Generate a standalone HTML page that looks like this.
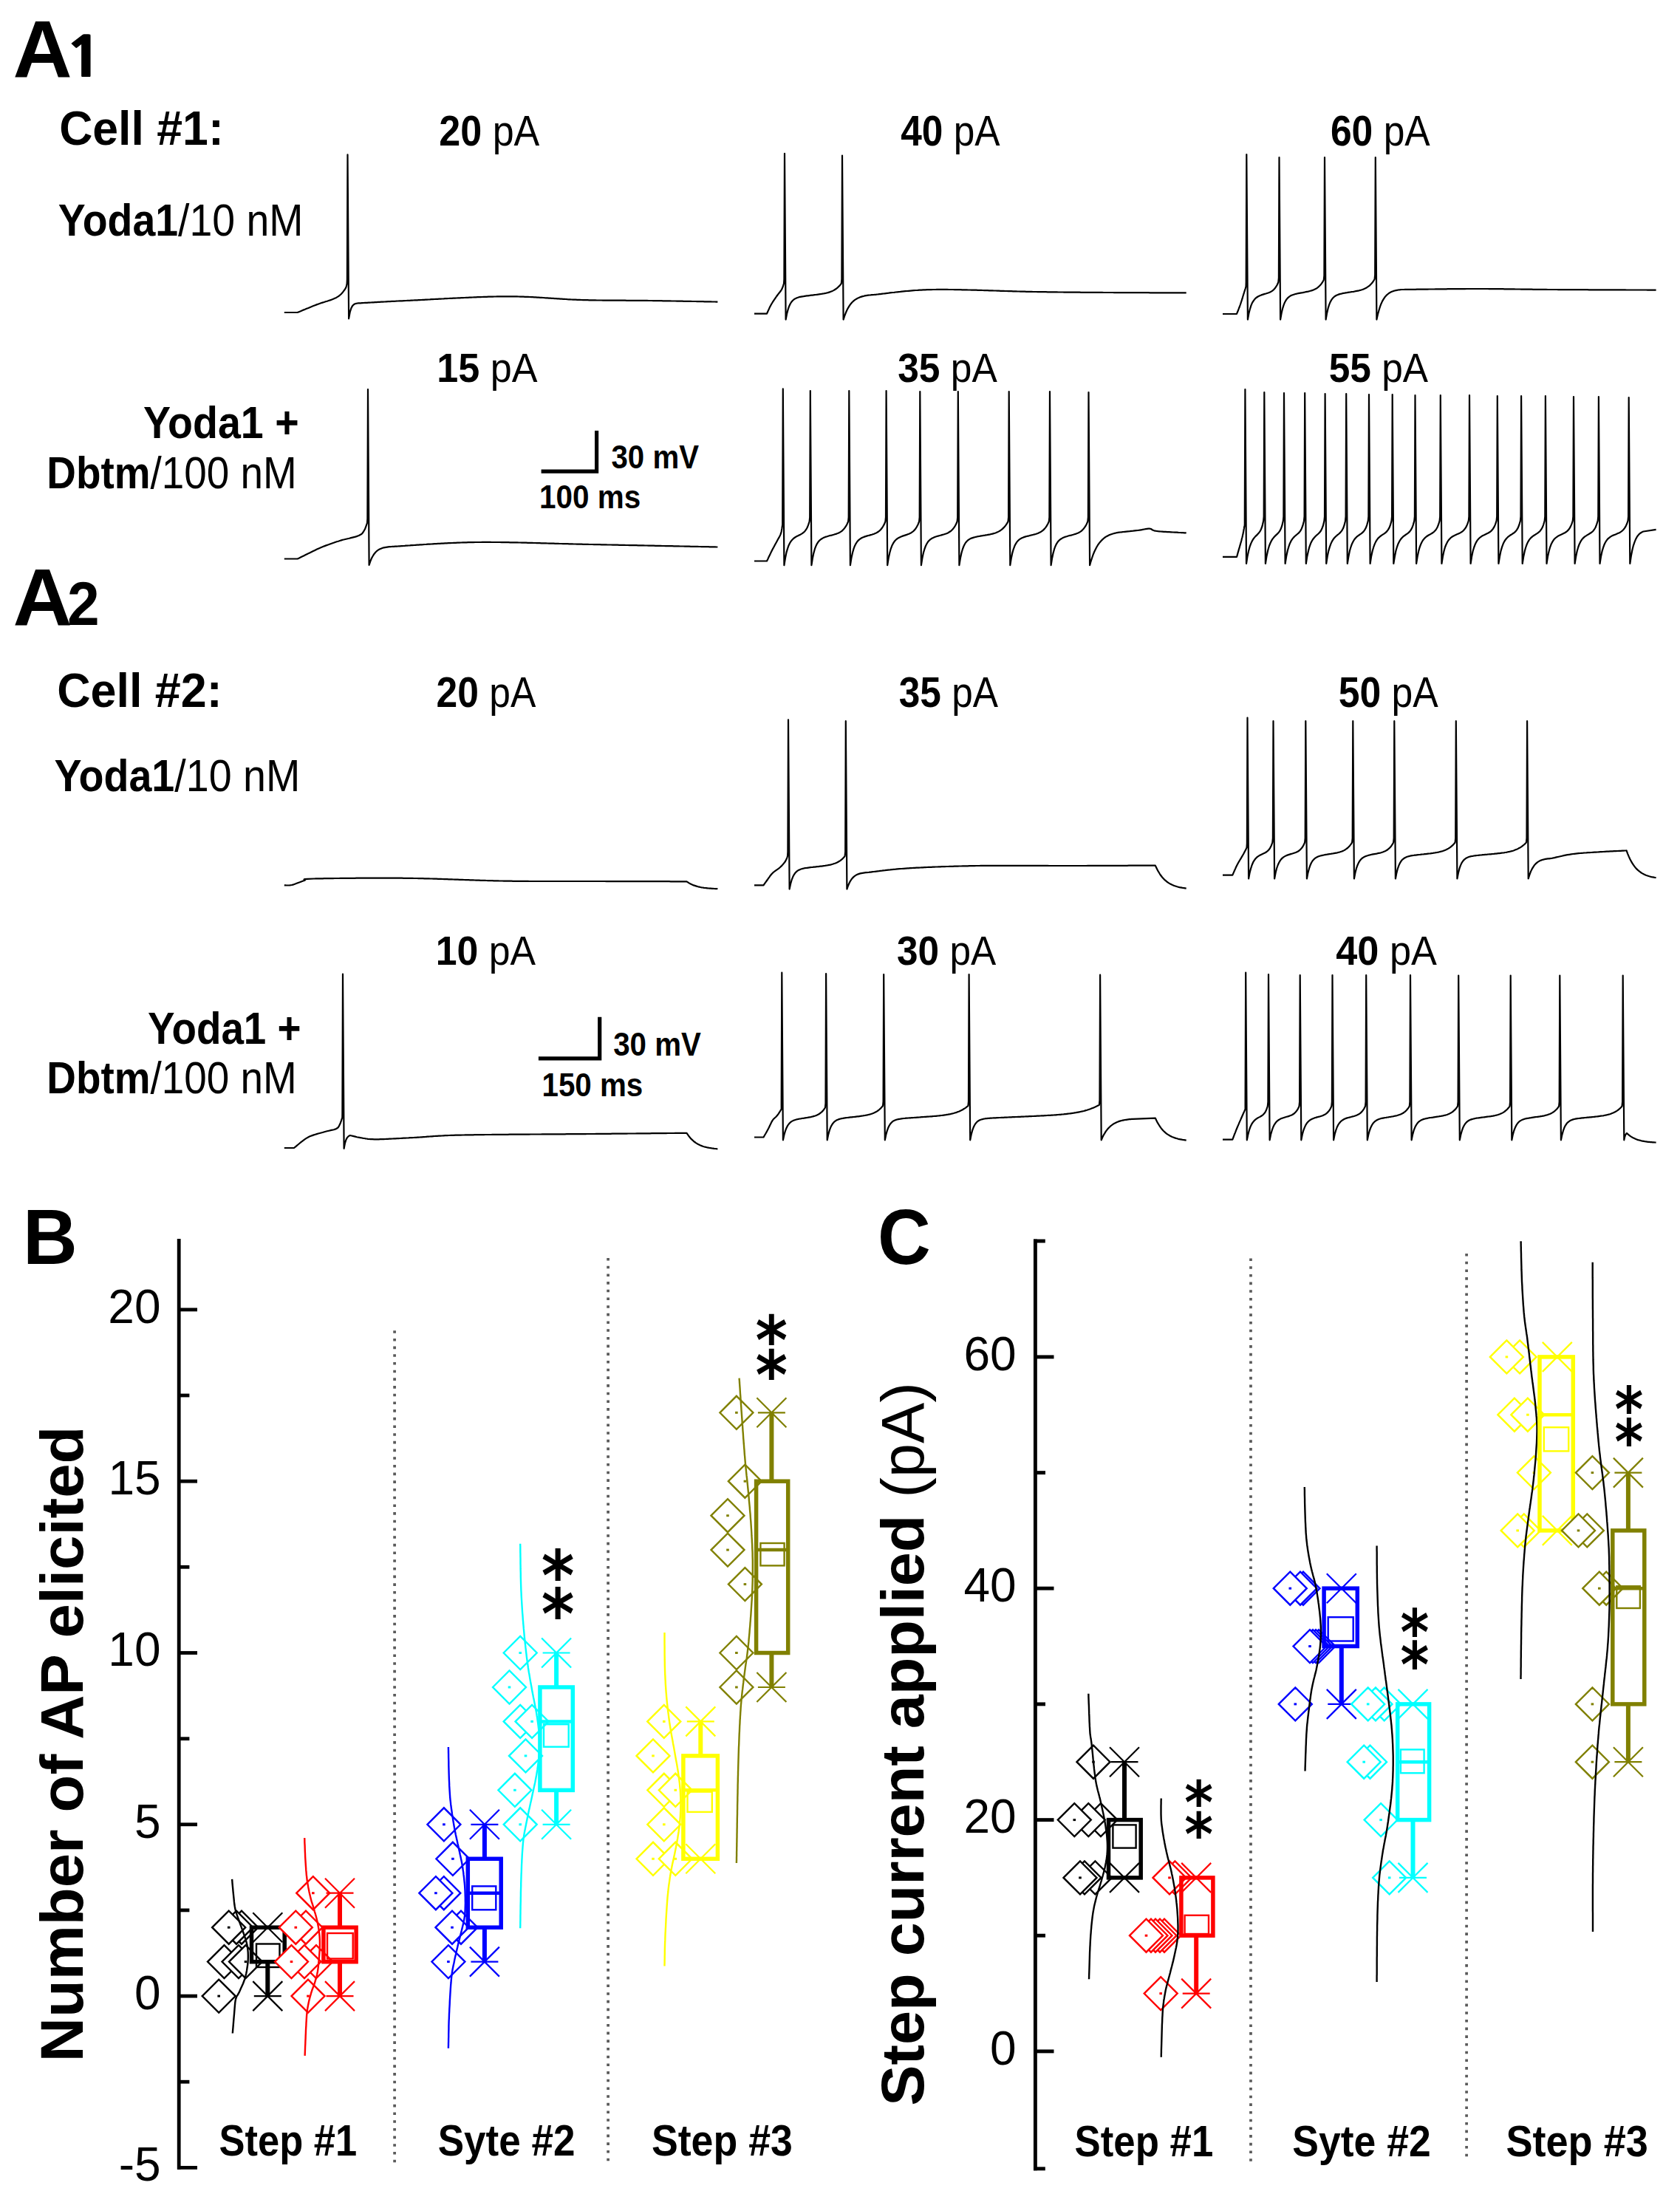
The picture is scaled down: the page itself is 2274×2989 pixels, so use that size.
<!DOCTYPE html>
<html><head><meta charset="utf-8"><title>Figure</title>
<style>html,body{margin:0;padding:0;background:#fff;width:2274px;height:2989px;overflow:hidden;}svg{display:block;}text{font-family:'Liberation Sans', Arial, sans-serif;}</style>
</head><body>
<svg width="2274" height="2989" viewBox="0 0 2274 2989">
<rect width="2274" height="2989" fill="#fff"/>
<text x="17.44" y="104.20" font-size="109.00" textLength="80.09" lengthAdjust="spacingAndGlyphs" fill="#000"><tspan font-weight="bold">A</tspan></text>
<text transform="translate(87.1 104.2) scale(1.23 1)" x="0" y="0" font-size="73.7" style="font-family:NanumGothic,'Liberation Sans',sans-serif;font-weight:800" fill="#000">1</text>
<text x="17.44" y="845.70" font-size="109.00" textLength="80.09" lengthAdjust="spacingAndGlyphs" fill="#000"><tspan font-weight="bold">A</tspan></text>
<text x="91.03" y="845.70" font-size="83.00" textLength="43.61" lengthAdjust="spacingAndGlyphs" fill="#000"><tspan font-weight="bold">2</tspan></text>
<text x="80.13" y="196.40" font-size="64.40" textLength="222.59" lengthAdjust="spacingAndGlyphs" fill="#000"><tspan font-weight="bold">Cell #1:</tspan></text>
<text x="77.22" y="957.40" font-size="64.40" textLength="223.42" lengthAdjust="spacingAndGlyphs" fill="#000"><tspan font-weight="bold">Cell #2:</tspan></text>
<text x="78.86" y="319.00" font-size="61.30" textLength="331.63" lengthAdjust="spacingAndGlyphs" fill="#000"><tspan font-weight="bold">Yoda1</tspan><tspan font-weight="normal">/10 nM</tspan></text>
<text x="73.46" y="1071.00" font-size="61.30" textLength="332.85" lengthAdjust="spacingAndGlyphs" fill="#000"><tspan font-weight="bold">Yoda1</tspan><tspan font-weight="normal">/10 nM</tspan></text>
<text x="194.07" y="592.90" font-size="60.60" textLength="210.54" lengthAdjust="spacingAndGlyphs" fill="#000"><tspan font-weight="bold">Yoda1 +</tspan></text>
<text x="63.33" y="660.70" font-size="60.60" textLength="338.47" lengthAdjust="spacingAndGlyphs" fill="#000"><tspan font-weight="bold">Dbtm</tspan><tspan font-weight="normal">/100 nM</tspan></text>
<text x="199.98" y="1413.10" font-size="60.60" textLength="207.60" lengthAdjust="spacingAndGlyphs" fill="#000"><tspan font-weight="bold">Yoda1 +</tspan></text>
<text x="63.33" y="1480.00" font-size="60.60" textLength="338.47" lengthAdjust="spacingAndGlyphs" fill="#000"><tspan font-weight="bold">Dbtm</tspan><tspan font-weight="normal">/100 nM</tspan></text>
<text x="594.19" y="196.50" font-size="57.00" textLength="136.21" lengthAdjust="spacingAndGlyphs" fill="#000"><tspan font-weight="bold">20</tspan><tspan font-weight="normal"> pA</tspan></text>
<text x="1219.22" y="196.50" font-size="57.00" textLength="134.38" lengthAdjust="spacingAndGlyphs" fill="#000"><tspan font-weight="bold">40</tspan><tspan font-weight="normal"> pA</tspan></text>
<text x="1800.91" y="196.50" font-size="57.00" textLength="134.89" lengthAdjust="spacingAndGlyphs" fill="#000"><tspan font-weight="bold">60</tspan><tspan font-weight="normal"> pA</tspan></text>
<text x="591.22" y="517.00" font-size="55.40" textLength="136.29" lengthAdjust="spacingAndGlyphs" fill="#000"><tspan font-weight="bold">15</tspan><tspan font-weight="normal"> pA</tspan></text>
<text x="1215.22" y="517.00" font-size="55.40" textLength="134.58" lengthAdjust="spacingAndGlyphs" fill="#000"><tspan font-weight="bold">35</tspan><tspan font-weight="normal"> pA</tspan></text>
<text x="1798.72" y="517.00" font-size="55.40" textLength="134.28" lengthAdjust="spacingAndGlyphs" fill="#000"><tspan font-weight="bold">55</tspan><tspan font-weight="normal"> pA</tspan></text>
<text x="590.61" y="957.00" font-size="56.70" textLength="134.89" lengthAdjust="spacingAndGlyphs" fill="#000"><tspan font-weight="bold">20</tspan><tspan font-weight="normal"> pA</tspan></text>
<text x="1216.72" y="957.00" font-size="56.70" textLength="134.28" lengthAdjust="spacingAndGlyphs" fill="#000"><tspan font-weight="bold">35</tspan><tspan font-weight="normal"> pA</tspan></text>
<text x="1811.71" y="957.00" font-size="56.70" textLength="135.09" lengthAdjust="spacingAndGlyphs" fill="#000"><tspan font-weight="bold">50</tspan><tspan font-weight="normal"> pA</tspan></text>
<text x="589.74" y="1305.70" font-size="56.30" textLength="135.36" lengthAdjust="spacingAndGlyphs" fill="#000"><tspan font-weight="bold">10</tspan><tspan font-weight="normal"> pA</tspan></text>
<text x="1214.02" y="1305.70" font-size="56.30" textLength="134.28" lengthAdjust="spacingAndGlyphs" fill="#000"><tspan font-weight="bold">30</tspan><tspan font-weight="normal"> pA</tspan></text>
<text x="1808.21" y="1305.70" font-size="56.30" textLength="136.69" lengthAdjust="spacingAndGlyphs" fill="#000"><tspan font-weight="bold">40</tspan><tspan font-weight="normal"> pA</tspan></text>
<path d="M732.6 638.1H807.6V583.1" fill="none" stroke="#000" stroke-width="5.2"/>
<text x="827.48" y="634.30" font-size="44.20" textLength="118.50" lengthAdjust="spacingAndGlyphs" fill="#000"><tspan font-weight="bold">30 mV</tspan></text>
<text x="730.05" y="688.30" font-size="44.80" textLength="137.31" lengthAdjust="spacingAndGlyphs" fill="#000"><tspan font-weight="bold">100 ms</tspan></text>
<path d="M728.9 1432.9H811.7V1376.7" fill="none" stroke="#000" stroke-width="5.2"/>
<text x="830.18" y="1429.00" font-size="44.20" textLength="118.70" lengthAdjust="spacingAndGlyphs" fill="#000"><tspan font-weight="bold">30 mV</tspan></text>
<text x="733.46" y="1483.60" font-size="44.20" textLength="136.79" lengthAdjust="spacingAndGlyphs" fill="#000"><tspan font-weight="bold">150 ms</tspan></text>
<path d="M384.8 423.0 L402.7 423.0 L403.8 422.5 L405.3 421.9 L406.9 421.3 L408.7 420.5 L410.7 419.6 L412.9 418.8 L415.1 417.8 L417.4 416.9 L419.7 415.9 L422.0 415.0 L424.3 414.1 L426.5 413.2 L428.6 412.4 L430.5 411.7 L432.5 411.0 L434.5 410.3 L436.6 409.6 L438.7 409.0 L440.7 408.3 L442.8 407.7 L444.8 407.0 L446.8 406.4 L448.7 405.7 L450.5 405.0 L452.2 404.3 L453.8 403.6 L455.2 402.9 L457.7 401.4 L459.8 399.8 L461.6 398.2 L463.2 396.5 L464.5 394.9 L465.6 393.4 L466.7 392.0 L468.1 389.6 L468.9 387.3 L469.3 385.4 L469.6 384.0 L469.9 378.0 L470.5 209.3 L472.1 431.4 L473.8 422.1 L475.5 416.9 L477.2 413.9 L478.9 412.3 L480.6 411.3 L482.3 410.8 L484.0 410.5 L485.0 410.4 L486.1 410.4 L487.3 410.3 L488.5 410.3 L489.7 410.2 L491.1 410.1 L492.4 410.0 L493.9 409.9 L495.4 409.9 L497.0 409.8 L498.6 409.7 L500.3 409.6 L502.0 409.5 L503.8 409.4 L505.7 409.3 L507.6 409.2 L509.6 409.1 L511.7 408.9 L513.8 408.8 L516.0 408.7 L518.2 408.6 L520.5 408.5 L522.9 408.3 L525.3 408.2 L527.8 408.1 L530.4 407.9 L533.0 407.8 L535.6 407.7 L538.4 407.5 L541.2 407.4 L544.1 407.3 L547.0 407.1 L550.0 407.0 L551.5 406.9 L553.1 406.9 L554.6 406.8 L556.3 406.7 L557.9 406.6 L559.6 406.5 L561.3 406.4 L563.0 406.4 L564.8 406.3 L566.6 406.2 L568.4 406.1 L570.3 406.0 L572.2 405.9 L574.1 405.8 L576.0 405.7 L578.0 405.6 L579.9 405.5 L581.9 405.4 L583.9 405.2 L586.0 405.1 L588.0 405.0 L590.1 404.9 L592.2 404.8 L594.3 404.7 L596.4 404.6 L598.5 404.5 L600.6 404.4 L602.8 404.2 L604.9 404.1 L607.1 404.0 L609.2 403.9 L611.4 403.8 L613.6 403.7 L615.8 403.6 L618.0 403.5 L620.2 403.4 L622.4 403.3 L624.5 403.2 L626.7 403.1 L628.9 403.0 L631.1 402.9 L633.3 402.8 L635.5 402.7 L637.7 402.6 L639.8 402.5 L642.0 402.4 L644.2 402.3 L646.3 402.2 L648.4 402.1 L650.6 402.1 L652.7 402.0 L654.8 401.9 L656.9 401.8 L658.9 401.8 L661.0 401.7 L663.0 401.7 L665.0 401.6 L667.0 401.6 L669.0 401.5 L671.0 401.5 L672.9 401.4 L674.8 401.4 L676.7 401.4 L678.6 401.3 L680.4 401.3 L682.2 401.3 L684.0 401.3 L686.3 401.3 L688.6 401.3 L690.9 401.3 L693.1 401.3 L695.4 401.4 L697.6 401.4 L699.8 401.4 L702.0 401.5 L704.2 401.6 L706.3 401.6 L708.5 401.7 L710.6 401.8 L712.7 401.9 L714.8 401.9 L716.9 402.0 L718.9 402.1 L721.0 402.2 L723.0 402.3 L725.1 402.4 L727.1 402.6 L729.1 402.7 L731.1 402.8 L733.1 402.9 L735.1 403.0 L737.1 403.2 L739.0 403.3 L741.0 403.4 L743.0 403.6 L744.9 403.7 L746.8 403.8 L748.8 403.9 L750.7 404.1 L752.6 404.2 L754.6 404.3 L756.5 404.4 L758.4 404.6 L760.3 404.7 L762.2 404.8 L764.1 404.9 L766.0 405.0 L767.9 405.2 L769.8 405.3 L771.7 405.4 L773.6 405.5 L775.5 405.6 L777.4 405.6 L779.3 405.7 L781.3 405.8 L783.2 405.9 L785.1 405.9 L787.0 406.0 L789.1 406.1 L791.2 406.1 L793.4 406.2 L795.5 406.2 L797.5 406.3 L799.6 406.3 L801.7 406.3 L803.8 406.4 L805.9 406.4 L807.9 406.5 L810.0 406.5 L812.0 406.5 L814.1 406.5 L816.1 406.6 L818.1 406.6 L820.2 406.6 L822.2 406.6 L824.2 406.6 L826.2 406.6 L828.2 406.7 L830.2 406.7 L832.2 406.7 L834.2 406.7 L836.2 406.7 L838.2 406.7 L840.2 406.7 L842.2 406.7 L844.2 406.7 L846.2 406.7 L848.2 406.8 L850.2 406.8 L852.1 406.8 L854.1 406.8 L856.1 406.8 L858.1 406.8 L860.1 406.8 L862.1 406.8 L864.0 406.8 L866.0 406.9 L868.0 406.9 L870.0 406.9 L872.0 406.9 L874.0 406.9 L876.0 406.9 L878.0 407.0 L880.0 407.0 L882.1 407.0 L884.2 407.1 L886.3 407.1 L888.5 407.1 L890.7 407.2 L893.0 407.2 L895.2 407.2 L897.5 407.3 L899.8 407.3 L902.2 407.3 L904.5 407.4 L906.9 407.4 L909.2 407.5 L911.6 407.5 L914.0 407.5 L916.3 407.6 L918.7 407.6 L921.1 407.7 L923.4 407.7 L925.7 407.8 L928.1 407.8 L930.4 407.8 L932.6 407.9 L934.9 407.9 L937.1 408.0 L939.3 408.0 L941.5 408.0 L943.6 408.1 L945.7 408.1 L947.8 408.2 L949.8 408.2 L951.7 408.2 L953.6 408.3 L955.5 408.3 L957.3 408.3 L959.0 408.4 L960.7 408.4 L962.3 408.4 L963.8 408.5 L965.3 408.5 L966.7 408.5 L968.0 408.5 L969.2 408.6 L970.3 408.6 L971.4 408.6" fill="none" stroke="#000" stroke-width="2.2" stroke-linejoin="round"/>
<path d="M1021.0 424.6 L1038.0 424.6 L1038.6 423.2 L1039.5 421.3 L1040.5 419.1 L1041.6 416.6 L1042.8 414.2 L1044.0 412.0 L1045.1 410.2 L1046.2 408.4 L1047.4 406.6 L1048.6 404.8 L1049.8 403.1 L1050.9 401.5 L1052.0 400.0 L1053.4 398.1 L1054.7 396.5 L1055.9 395.0 L1057.0 393.5 L1058.0 392.0 L1059.0 389.8 L1059.9 387.5 L1060.5 385.4 L1061.0 384.0 L1061.4 378.0 L1062.0 207.8 L1063.6 432.6 L1065.1 424.8 L1066.6 419.1 L1068.1 414.7 L1069.6 411.5 L1071.1 409.0 L1072.6 407.2 L1074.1 405.8 L1075.6 404.7 L1077.1 403.9 L1078.6 403.2 L1080.1 402.7 L1081.6 402.2 L1083.2 401.9 L1084.7 401.6 L1086.2 401.3 L1087.7 401.1 L1089.2 400.8 L1090.7 400.6 L1092.2 400.4 L1093.7 400.3 L1095.2 400.1 L1096.7 399.9 L1098.2 399.7 L1099.7 399.6 L1101.2 399.4 L1102.7 399.2 L1104.2 399.0 L1105.7 398.8 L1107.2 398.6 L1108.7 398.4 L1110.2 398.2 L1111.7 398.0 L1113.2 397.7 L1114.7 397.5 L1116.2 397.2 L1117.7 396.9 L1119.2 396.5 L1120.8 396.1 L1122.3 395.6 L1123.8 395.1 L1125.3 394.5 L1126.8 393.9 L1128.3 393.1 L1129.8 392.2 L1131.3 391.3 L1132.8 390.1 L1134.3 388.8 L1135.8 387.4 L1137.3 385.7 L1138.8 383.8 L1139.4 377.8 L1140.0 210.5 L1141.6 432.6 L1143.1 427.9 L1144.7 423.8 L1146.2 420.3 L1147.7 417.3 L1149.3 414.7 L1150.8 412.4 L1152.3 410.5 L1153.9 408.8 L1155.4 407.4 L1156.9 406.2 L1158.5 405.1 L1160.0 404.2 L1161.5 403.4 L1163.1 402.7 L1164.6 402.1 L1166.1 401.6 L1167.7 401.1 L1169.2 400.8 L1170.7 400.4 L1172.3 400.1 L1173.8 399.9 L1175.3 399.7 L1176.9 399.5 L1178.4 399.4 L1179.9 399.2 L1181.5 399.1 L1183.0 399.0 L1184.0 398.9 L1185.1 398.8 L1186.3 398.7 L1187.5 398.5 L1188.8 398.4 L1190.1 398.2 L1191.5 398.1 L1193.0 397.9 L1194.5 397.7 L1196.0 397.5 L1197.7 397.3 L1199.3 397.1 L1201.0 396.9 L1202.8 396.7 L1204.6 396.4 L1206.5 396.2 L1208.4 396.0 L1210.4 395.8 L1212.4 395.5 L1214.4 395.3 L1216.5 395.1 L1218.7 394.9 L1220.8 394.6 L1223.1 394.4 L1225.3 394.2 L1227.6 394.0 L1229.9 393.8 L1232.3 393.6 L1234.7 393.4 L1237.1 393.2 L1239.6 393.0 L1242.1 392.9 L1244.6 392.7 L1247.1 392.6 L1249.7 392.4 L1252.3 392.3 L1255.0 392.2 L1257.6 392.1 L1260.3 392.1 L1263.0 392.0 L1264.6 392.0 L1266.3 392.0 L1267.9 391.9 L1269.6 391.9 L1271.4 391.9 L1273.1 391.9 L1274.9 391.9 L1276.7 391.9 L1278.6 391.9 L1280.4 391.9 L1282.3 391.9 L1284.2 392.0 L1286.2 392.0 L1288.1 392.0 L1290.1 392.0 L1292.1 392.1 L1294.1 392.1 L1296.1 392.1 L1298.2 392.2 L1300.2 392.2 L1302.3 392.3 L1304.4 392.3 L1306.5 392.3 L1308.6 392.4 L1310.8 392.5 L1312.9 392.5 L1315.0 392.6 L1317.2 392.6 L1319.4 392.7 L1321.5 392.7 L1323.7 392.8 L1325.9 392.9 L1328.1 392.9 L1330.2 393.0 L1332.4 393.1 L1334.6 393.1 L1336.8 393.2 L1339.0 393.3 L1341.2 393.3 L1343.4 393.4 L1345.6 393.5 L1347.7 393.5 L1349.9 393.6 L1352.1 393.7 L1354.2 393.8 L1356.4 393.8 L1358.5 393.9 L1360.7 394.0 L1362.8 394.0 L1364.9 394.1 L1367.0 394.2 L1369.1 394.2 L1371.2 394.3 L1373.2 394.3 L1375.3 394.4 L1377.3 394.5 L1379.3 394.5 L1381.3 394.6 L1383.3 394.6 L1385.2 394.7 L1387.2 394.7 L1389.1 394.8 L1391.0 394.8 L1392.8 394.9 L1394.6 394.9 L1396.5 394.9 L1398.2 395.0 L1400.0 395.0 L1402.4 395.0 L1404.7 395.1 L1407.0 395.1 L1409.2 395.1 L1411.5 395.2 L1413.7 395.2 L1415.9 395.2 L1418.0 395.3 L1420.2 395.3 L1422.3 395.3 L1424.4 395.4 L1426.4 395.4 L1428.5 395.4 L1430.5 395.4 L1432.5 395.5 L1434.5 395.5 L1436.5 395.5 L1438.5 395.5 L1440.4 395.6 L1442.4 395.6 L1444.3 395.6 L1446.2 395.6 L1448.2 395.6 L1450.1 395.6 L1452.0 395.7 L1453.8 395.7 L1455.7 395.7 L1457.6 395.7 L1459.5 395.7 L1461.4 395.7 L1463.2 395.8 L1465.1 395.8 L1467.0 395.8 L1468.9 395.8 L1470.7 395.8 L1472.6 395.8 L1474.5 395.8 L1476.4 395.8 L1478.3 395.9 L1480.2 395.9 L1482.1 395.9 L1484.1 395.9 L1486.0 395.9 L1488.0 395.9 L1489.9 395.9 L1491.9 395.9 L1493.9 396.0 L1495.9 396.0 L1498.0 396.0 L1500.0 396.0 L1502.0 396.0 L1504.0 396.0 L1506.1 396.0 L1508.2 396.1 L1510.4 396.1 L1512.6 396.1 L1514.8 396.1 L1517.0 396.1 L1519.3 396.1 L1521.5 396.1 L1523.8 396.1 L1526.2 396.1 L1528.5 396.2 L1530.8 396.2 L1533.2 396.2 L1535.6 396.2 L1537.9 396.2 L1540.3 396.2 L1542.7 396.2 L1545.0 396.2 L1547.4 396.2 L1549.8 396.2 L1552.1 396.2 L1554.5 396.2 L1556.8 396.3 L1559.1 396.3 L1561.4 396.3 L1563.7 396.3 L1565.9 396.3 L1568.1 396.3 L1570.3 396.3 L1572.5 396.3 L1574.6 396.3 L1576.7 396.3 L1578.8 396.3 L1580.8 396.3 L1582.8 396.3 L1584.7 396.3 L1586.6 396.3 L1588.4 396.3 L1590.2 396.4 L1591.9 396.4 L1593.6 396.4 L1595.2 396.4 L1596.8 396.4 L1598.2 396.4 L1599.7 396.4 L1601.0 396.4 L1602.3 396.4 L1603.5 396.4 L1604.6 396.4 L1605.7 396.4" fill="none" stroke="#000" stroke-width="2.2" stroke-linejoin="round"/>
<path d="M1655.0 425.0 L1674.0 425.0 L1674.5 423.6 L1675.3 421.7 L1676.2 419.5 L1677.1 417.0 L1678.1 414.5 L1679.0 412.0 L1679.6 410.1 L1680.3 408.0 L1681.0 405.9 L1681.7 403.7 L1682.3 401.5 L1682.9 399.5 L1683.5 397.6 L1684.0 396.0 L1684.9 393.2 L1685.6 391.0 L1686.1 389.2 L1686.5 388.0 L1686.7 382.0 L1687.3 209.0 L1688.9 432.6 L1690.4 424.3 L1692.0 418.1 L1693.5 413.4 L1695.0 409.9 L1696.6 407.3 L1698.1 405.3 L1699.6 403.7 L1701.2 402.5 L1702.7 401.5 L1704.2 400.7 L1705.8 400.0 L1707.3 399.4 L1708.8 398.9 L1710.4 398.4 L1711.9 397.9 L1713.4 397.5 L1715.0 397.0 L1716.5 396.5 L1718.0 395.9 L1719.6 395.2 L1721.1 394.4 L1722.6 393.3 L1724.2 392.0 L1725.7 390.3 L1727.2 388.2 L1728.8 385.5 L1730.3 382.0 L1730.9 376.0 L1731.5 213.0 L1733.1 432.6 L1734.6 424.0 L1736.1 417.6 L1737.6 412.8 L1739.1 409.2 L1740.6 406.5 L1742.1 404.4 L1743.6 402.8 L1745.1 401.6 L1746.6 400.6 L1748.2 399.8 L1749.7 399.2 L1751.2 398.7 L1752.7 398.2 L1754.2 397.8 L1755.7 397.5 L1757.2 397.2 L1758.7 396.9 L1760.2 396.6 L1761.7 396.3 L1763.2 396.1 L1764.7 395.8 L1766.2 395.5 L1767.7 395.2 L1769.2 394.9 L1770.7 394.6 L1772.2 394.2 L1773.7 393.8 L1775.2 393.4 L1776.7 392.9 L1778.3 392.3 L1779.8 391.6 L1781.3 390.8 L1782.8 389.8 L1784.3 388.7 L1785.8 387.3 L1787.3 385.7 L1788.8 383.9 L1790.3 381.6 L1791.8 379.0 L1792.4 373.0 L1793.0 213.0 L1794.6 432.6 L1796.1 423.9 L1797.6 417.4 L1799.1 412.6 L1800.6 408.9 L1802.1 406.2 L1803.6 404.1 L1805.1 402.5 L1806.6 401.2 L1808.1 400.3 L1809.6 399.5 L1811.1 398.9 L1812.6 398.4 L1814.1 397.9 L1815.6 397.6 L1817.1 397.2 L1818.6 396.9 L1820.1 396.7 L1821.6 396.4 L1823.1 396.2 L1824.6 395.9 L1826.1 395.7 L1827.6 395.5 L1829.1 395.2 L1830.6 395.0 L1832.1 394.8 L1833.6 394.5 L1835.1 394.2 L1836.6 393.9 L1838.1 393.6 L1839.6 393.3 L1841.1 392.9 L1842.6 392.5 L1844.1 392.0 L1845.6 391.4 L1847.1 390.8 L1848.6 390.1 L1850.1 389.2 L1851.6 388.2 L1853.1 387.1 L1854.6 385.8 L1856.1 384.3 L1857.6 382.5 L1859.1 380.4 L1860.6 378.0 L1861.2 372.0 L1861.8 213.0 L1863.4 432.6 L1864.9 425.7 L1866.5 420.0 L1868.0 415.2 L1869.5 411.2 L1871.0 407.9 L1872.6 405.1 L1874.1 402.8 L1875.6 400.9 L1877.1 399.3 L1878.7 398.0 L1880.2 396.8 L1881.7 395.9 L1883.3 395.1 L1884.8 394.5 L1886.3 393.9 L1887.8 393.5 L1889.4 393.1 L1890.9 392.8 L1892.4 392.5 L1893.9 392.3 L1895.5 392.2 L1897.0 392.0 L1898.0 392.0 L1899.2 392.0 L1900.4 392.0 L1901.7 391.9 L1903.0 391.9 L1904.4 391.9 L1905.9 391.9 L1907.4 391.9 L1909.1 391.9 L1910.7 391.8 L1912.4 391.8 L1914.2 391.8 L1916.0 391.8 L1917.9 391.7 L1919.8 391.7 L1921.8 391.7 L1923.8 391.7 L1925.9 391.6 L1927.9 391.6 L1930.1 391.6 L1932.2 391.6 L1934.4 391.5 L1936.6 391.5 L1938.9 391.5 L1941.1 391.5 L1943.4 391.4 L1945.7 391.4 L1948.0 391.4 L1950.3 391.3 L1952.7 391.3 L1955.0 391.3 L1957.4 391.3 L1959.7 391.2 L1962.1 391.2 L1964.4 391.2 L1966.8 391.2 L1969.1 391.2 L1971.5 391.1 L1973.8 391.1 L1976.1 391.1 L1978.4 391.1 L1980.7 391.1 L1982.9 391.1 L1985.2 391.0 L1987.4 391.0 L1989.6 391.0 L1991.7 391.0 L1993.9 391.0 L1995.9 391.0 L1998.0 391.0 L2000.0 391.0 L2002.0 391.0 L2004.0 391.0 L2006.0 391.0 L2008.0 391.0 L2009.9 391.0 L2011.9 391.0 L2013.8 391.0 L2015.7 391.1 L2017.6 391.1 L2019.5 391.1 L2021.4 391.1 L2023.3 391.1 L2025.2 391.1 L2027.0 391.1 L2028.9 391.2 L2030.8 391.2 L2032.6 391.2 L2034.5 391.2 L2036.4 391.3 L2038.2 391.3 L2040.1 391.3 L2042.0 391.3 L2043.8 391.3 L2045.7 391.4 L2047.6 391.4 L2049.5 391.4 L2051.4 391.5 L2053.3 391.5 L2055.2 391.5 L2057.1 391.5 L2059.1 391.6 L2061.1 391.6 L2063.0 391.6 L2065.0 391.6 L2067.0 391.7 L2069.1 391.7 L2071.1 391.7 L2073.2 391.7 L2075.3 391.8 L2077.4 391.8 L2079.5 391.8 L2081.7 391.8 L2083.9 391.9 L2086.1 391.9 L2088.3 391.9 L2090.6 391.9 L2092.9 391.9 L2095.2 392.0 L2097.6 392.0 L2100.0 392.0 L2101.7 392.0 L2103.5 392.0 L2105.4 392.0 L2107.3 392.0 L2109.2 392.1 L2111.1 392.1 L2113.1 392.1 L2115.1 392.1 L2117.2 392.1 L2119.3 392.1 L2121.4 392.1 L2123.6 392.1 L2125.7 392.1 L2127.9 392.2 L2130.1 392.2 L2132.4 392.2 L2134.7 392.2 L2136.9 392.2 L2139.2 392.2 L2141.6 392.2 L2143.9 392.2 L2146.2 392.2 L2148.6 392.2 L2150.9 392.3 L2153.3 392.3 L2155.7 392.3 L2158.1 392.3 L2160.4 392.3 L2162.8 392.3 L2165.2 392.3 L2167.6 392.3 L2170.0 392.3 L2172.3 392.3 L2174.7 392.4 L2177.1 392.4 L2179.4 392.4 L2181.7 392.4 L2184.0 392.4 L2186.4 392.4 L2188.6 392.4 L2190.9 392.4 L2193.2 392.4 L2195.4 392.4 L2197.6 392.4 L2199.8 392.4 L2201.9 392.5 L2204.1 392.5 L2206.2 392.5 L2208.2 392.5 L2210.3 392.5 L2212.3 392.5 L2214.2 392.5 L2216.1 392.5 L2218.0 392.5 L2219.9 392.5 L2221.7 392.5 L2223.4 392.5 L2225.2 392.5 L2226.8 392.5 L2228.4 392.5 L2230.0 392.6 L2231.5 392.6 L2233.0 392.6 L2234.4 392.6 L2235.7 392.6 L2237.0 392.6 L2238.3 392.6 L2239.4 392.6 L2240.6 392.6 L2241.6 392.6" fill="none" stroke="#000" stroke-width="2.2" stroke-linejoin="round"/>
<path d="M384.8 756.5 L402.7 756.5 L403.9 755.9 L405.4 755.2 L407.2 754.3 L409.3 753.3 L411.5 752.2 L413.7 751.1 L415.9 750.0 L418.0 748.9 L420.0 748.0 L422.0 747.0 L423.9 746.1 L425.7 745.2 L427.6 744.2 L429.5 743.3 L431.5 742.4 L433.6 741.5 L436.0 740.5 L437.7 739.8 L439.5 739.1 L441.4 738.4 L443.3 737.7 L445.3 737.0 L447.4 736.2 L449.5 735.5 L451.6 734.8 L453.7 734.0 L455.8 733.3 L457.9 732.7 L460.0 732.0 L462.0 731.4 L464.0 730.8 L466.2 730.3 L468.4 729.7 L470.6 729.2 L472.8 728.7 L475.0 728.1 L477.1 727.6 L479.1 727.1 L481.0 726.6 L482.7 726.1 L484.3 725.5 L485.7 725.0 L488.4 723.6 L490.1 722.3 L491.2 721.0 L492.0 719.6 L493.0 718.0 L494.1 716.0 L495.0 713.7 L495.8 711.4 L496.5 709.4 L497.0 708.0 L497.4 702.0 L498.0 527.0 L499.6 765.0 L501.1 760.4 L502.6 756.6 L504.2 753.5 L505.7 751.0 L507.2 748.9 L508.7 747.2 L510.2 745.8 L511.8 744.7 L513.3 743.7 L514.8 743.0 L516.3 742.4 L517.8 741.8 L519.4 741.4 L520.9 741.1 L522.4 740.8 L523.9 740.6 L525.4 740.4 L527.0 740.2 L528.5 740.1 L530.0 740.0 L531.0 739.9 L532.1 739.9 L533.3 739.8 L534.5 739.7 L535.8 739.7 L537.1 739.6 L538.5 739.5 L539.9 739.4 L541.4 739.3 L542.9 739.2 L544.5 739.1 L546.1 739.0 L547.8 738.9 L549.5 738.7 L551.2 738.6 L553.0 738.5 L554.8 738.4 L556.7 738.2 L558.6 738.1 L560.5 738.0 L562.5 737.8 L564.5 737.7 L566.5 737.6 L568.6 737.4 L570.7 737.3 L572.8 737.2 L574.9 737.0 L577.1 736.9 L579.3 736.7 L581.5 736.6 L583.8 736.5 L586.0 736.3 L588.3 736.2 L590.6 736.1 L592.9 735.9 L595.3 735.8 L597.6 735.7 L600.0 735.6 L602.4 735.4 L604.7 735.3 L607.1 735.2 L609.5 735.1 L612.0 735.0 L614.4 734.9 L616.8 734.8 L619.2 734.7 L621.6 734.6 L624.1 734.5 L626.5 734.4 L628.9 734.4 L631.3 734.3 L633.7 734.2 L636.1 734.2 L638.5 734.1 L640.9 734.1 L643.3 734.0 L645.7 734.0 L647.5 734.0 L649.2 734.0 L651.0 734.0 L652.8 733.9 L654.6 733.9 L656.4 733.9 L658.2 733.9 L660.0 733.9 L661.9 733.9 L663.7 733.9 L665.6 734.0 L667.4 734.0 L669.3 734.0 L671.2 734.0 L673.1 734.0 L675.0 734.0 L676.9 734.0 L678.8 734.1 L680.7 734.1 L682.6 734.1 L684.5 734.2 L686.5 734.2 L688.4 734.2 L690.4 734.3 L692.3 734.3 L694.3 734.3 L696.3 734.4 L698.2 734.4 L700.2 734.4 L702.2 734.5 L704.2 734.5 L706.2 734.6 L708.2 734.6 L710.2 734.7 L712.3 734.7 L714.3 734.8 L716.3 734.8 L718.3 734.9 L720.4 734.9 L722.4 735.0 L724.5 735.0 L726.5 735.1 L728.6 735.2 L730.6 735.2 L732.7 735.3 L734.8 735.3 L736.9 735.4 L738.9 735.4 L741.0 735.5 L743.1 735.6 L745.2 735.6 L747.3 735.7 L749.4 735.7 L751.4 735.8 L753.5 735.8 L755.6 735.9 L757.7 736.0 L759.8 736.0 L761.9 736.1 L764.1 736.1 L766.2 736.2 L768.3 736.2 L770.4 736.3 L772.5 736.4 L774.6 736.4 L776.7 736.5 L778.8 736.5 L781.0 736.6 L783.1 736.6 L785.2 736.7 L787.3 736.7 L789.4 736.8 L791.5 736.8 L793.7 736.9 L795.8 736.9 L797.9 737.0 L800.0 737.0 L801.9 737.0 L803.9 737.1 L805.9 737.1 L807.9 737.2 L809.9 737.2 L812.0 737.2 L814.1 737.3 L816.2 737.3 L818.3 737.4 L820.4 737.4 L822.6 737.5 L824.8 737.5 L827.0 737.5 L829.2 737.6 L831.4 737.6 L833.7 737.7 L835.9 737.7 L838.2 737.8 L840.5 737.8 L842.8 737.9 L845.1 737.9 L847.4 738.0 L849.7 738.0 L852.1 738.1 L854.4 738.1 L856.7 738.1 L859.1 738.2 L861.4 738.2 L863.8 738.3 L866.1 738.3 L868.5 738.4 L870.8 738.4 L873.2 738.5 L875.6 738.5 L877.9 738.6 L880.3 738.6 L882.6 738.7 L884.9 738.7 L887.3 738.8 L889.6 738.8 L891.9 738.9 L894.2 738.9 L896.5 739.0 L898.8 739.0 L901.0 739.1 L903.3 739.1 L905.5 739.1 L907.8 739.2 L910.0 739.2 L912.2 739.3 L914.4 739.3 L916.5 739.4 L918.7 739.4 L920.8 739.5 L922.9 739.5 L925.0 739.5 L927.0 739.6 L929.0 739.6 L931.0 739.7 L933.0 739.7 L935.0 739.8 L936.9 739.8 L938.8 739.8 L940.7 739.9 L942.5 739.9 L944.3 739.9 L946.1 740.0 L947.8 740.0 L949.5 740.1 L951.2 740.1 L952.8 740.1 L954.4 740.2 L956.0 740.2 L957.5 740.2 L959.0 740.2 L960.4 740.3 L961.8 740.3 L963.2 740.3 L964.5 740.4 L965.8 740.4 L967.0 740.4 L968.2 740.4 L969.3 740.5 L970.4 740.5 L971.4 740.5" fill="none" stroke="#000" stroke-width="2.2" stroke-linejoin="round"/>
<path d="M1021.0 759.5 L1038.0 759.5 L1038.5 758.4 L1039.3 756.9 L1040.1 755.1 L1041.1 753.1 L1042.1 751.0 L1043.1 748.9 L1044.1 746.8 L1045.0 745.0 L1046.0 743.0 L1047.1 741.1 L1048.1 739.2 L1049.1 737.3 L1050.1 735.5 L1051.1 733.7 L1052.0 732.0 L1053.2 729.8 L1054.3 727.9 L1055.3 726.0 L1056.2 724.1 L1057.0 722.0 L1057.6 720.0 L1058.0 717.7 L1058.4 715.4 L1058.7 713.2 L1059.0 711.3 L1059.2 710.0 L1059.2 704.0 L1059.8 526.4 L1061.4 765.2 L1063.0 755.3 L1064.5 747.9 L1066.1 742.4 L1067.6 738.2 L1069.2 735.0 L1070.7 732.6 L1072.3 730.7 L1073.8 729.2 L1075.4 728.0 L1076.9 726.9 L1078.5 726.1 L1080.1 725.3 L1081.6 724.5 L1083.2 723.7 L1084.7 722.9 L1086.3 721.9 L1087.8 720.7 L1089.4 719.2 L1090.9 717.2 L1092.5 714.5 L1094.0 710.9 L1095.6 706.0 L1096.2 700.0 L1096.8 529.0 L1098.4 765.2 L1099.9 755.7 L1101.4 748.6 L1102.9 743.2 L1104.4 739.2 L1105.9 736.1 L1107.4 733.8 L1108.9 732.0 L1110.4 730.6 L1112.0 729.5 L1113.5 728.6 L1115.0 727.8 L1116.5 727.2 L1118.0 726.6 L1119.5 726.2 L1121.0 725.7 L1122.5 725.3 L1124.0 724.9 L1125.5 724.6 L1127.0 724.2 L1128.5 723.8 L1130.0 723.3 L1131.5 722.9 L1133.0 722.3 L1134.5 721.7 L1136.1 721.0 L1137.6 720.1 L1139.1 719.1 L1140.6 717.8 L1142.1 716.3 L1143.6 714.4 L1145.1 712.2 L1146.6 709.4 L1148.1 706.0 L1148.7 700.0 L1149.3 529.0 L1150.9 765.2 L1152.4 755.5 L1154.0 748.3 L1155.5 742.9 L1157.0 738.9 L1158.6 735.8 L1160.1 733.5 L1161.6 731.7 L1163.2 730.3 L1164.7 729.2 L1166.2 728.3 L1167.8 727.5 L1169.3 726.9 L1170.8 726.4 L1172.4 725.9 L1173.9 725.4 L1175.4 725.0 L1176.9 724.6 L1178.5 724.1 L1180.0 723.7 L1181.5 723.2 L1183.1 722.7 L1184.6 722.1 L1186.1 721.4 L1187.7 720.5 L1189.2 719.5 L1190.7 718.3 L1192.3 716.7 L1193.8 714.8 L1195.3 712.5 L1196.9 709.6 L1198.4 706.0 L1199.0 700.0 L1199.6 529.0 L1201.2 765.2 L1202.7 755.5 L1204.3 748.2 L1205.8 742.8 L1207.3 738.8 L1208.9 735.7 L1210.4 733.3 L1211.9 731.5 L1213.5 730.0 L1215.0 728.9 L1216.5 728.0 L1218.1 727.2 L1219.6 726.5 L1221.1 725.9 L1222.6 725.4 L1224.2 724.9 L1225.7 724.4 L1227.2 723.9 L1228.8 723.3 L1230.3 722.7 L1231.8 722.0 L1233.4 721.2 L1234.9 720.2 L1236.4 719.0 L1238.0 717.4 L1239.5 715.5 L1241.0 713.0 L1242.6 709.9 L1244.1 706.0 L1244.7 700.0 L1245.3 530.0 L1246.9 765.2 L1248.4 755.6 L1249.9 748.4 L1251.5 743.0 L1253.0 739.0 L1254.5 736.0 L1256.0 733.6 L1257.6 731.8 L1259.1 730.4 L1260.6 729.3 L1262.1 728.4 L1263.6 727.7 L1265.2 727.0 L1266.7 726.5 L1268.2 726.0 L1269.7 725.6 L1271.2 725.2 L1272.8 724.8 L1274.3 724.4 L1275.8 723.9 L1277.3 723.5 L1278.9 723.0 L1280.4 722.5 L1281.9 721.9 L1283.4 721.2 L1284.9 720.3 L1286.5 719.3 L1288.0 718.0 L1289.5 716.5 L1291.0 714.6 L1292.6 712.3 L1294.1 709.5 L1295.6 706.0 L1296.2 700.0 L1296.8 530.0 L1298.4 765.2 L1299.9 755.8 L1301.4 748.7 L1302.9 743.5 L1304.4 739.5 L1305.9 736.5 L1307.4 734.2 L1308.9 732.5 L1310.4 731.2 L1311.9 730.1 L1313.4 729.3 L1314.9 728.6 L1316.4 728.1 L1317.9 727.6 L1319.4 727.2 L1320.9 726.8 L1322.4 726.5 L1323.9 726.2 L1325.4 726.0 L1326.9 725.7 L1328.4 725.4 L1329.9 725.2 L1331.4 724.9 L1333.0 724.7 L1334.5 724.4 L1336.0 724.2 L1337.5 723.9 L1339.0 723.6 L1340.5 723.3 L1342.0 722.9 L1343.5 722.6 L1345.0 722.1 L1346.5 721.7 L1348.0 721.2 L1349.5 720.6 L1351.0 719.9 L1352.5 719.1 L1354.0 718.2 L1355.5 717.1 L1357.0 715.9 L1358.5 714.4 L1360.0 712.8 L1361.5 710.8 L1363.0 708.6 L1364.5 706.0 L1365.1 700.0 L1365.7 530.0 L1367.3 765.2 L1368.8 755.7 L1370.3 748.6 L1371.8 743.3 L1373.3 739.3 L1374.8 736.3 L1376.3 733.9 L1377.8 732.1 L1379.3 730.7 L1380.8 729.6 L1382.3 728.7 L1383.8 728.0 L1385.3 727.4 L1386.8 726.9 L1388.3 726.4 L1389.8 726.0 L1391.3 725.6 L1392.8 725.3 L1394.3 724.9 L1395.8 724.5 L1397.3 724.2 L1398.8 723.8 L1400.3 723.4 L1401.8 723.0 L1403.3 722.5 L1404.8 722.0 L1406.3 721.3 L1407.8 720.6 L1409.3 719.7 L1410.8 718.7 L1412.3 717.4 L1413.8 715.9 L1415.3 714.1 L1416.8 711.9 L1418.3 709.2 L1419.8 706.0 L1420.4 700.0 L1421.0 530.0 L1422.6 765.2 L1424.1 755.7 L1425.6 748.6 L1427.1 743.2 L1428.6 739.2 L1430.1 736.1 L1431.6 733.8 L1433.1 732.0 L1434.6 730.6 L1436.2 729.5 L1437.7 728.6 L1439.2 727.8 L1440.7 727.2 L1442.2 726.6 L1443.7 726.2 L1445.2 725.7 L1446.7 725.3 L1448.2 724.9 L1449.7 724.6 L1451.2 724.2 L1452.7 723.8 L1454.2 723.3 L1455.7 722.9 L1457.2 722.3 L1458.7 721.7 L1460.3 721.0 L1461.8 720.1 L1463.3 719.1 L1464.8 717.8 L1466.3 716.3 L1467.8 714.4 L1469.3 712.2 L1470.8 709.4 L1472.3 706.0 L1472.9 700.0 L1473.5 531.0 L1475.1 765.2 L1476.6 759.8 L1478.2 755.0 L1479.7 750.7 L1481.2 747.0 L1482.8 743.7 L1484.3 740.8 L1485.8 738.2 L1487.4 735.9 L1488.9 733.9 L1490.4 732.2 L1492.0 730.6 L1493.5 729.2 L1495.0 728.0 L1496.5 726.9 L1498.1 726.0 L1499.6 725.2 L1501.1 724.4 L1502.7 723.8 L1504.2 723.2 L1505.7 722.7 L1507.3 722.3 L1508.8 721.9 L1510.3 721.5 L1511.9 721.2 L1513.4 720.9 L1514.9 720.7 L1516.5 720.5 L1518.0 720.3 L1519.2 720.2 L1520.7 720.0 L1522.6 719.8 L1524.6 719.6 L1526.9 719.4 L1529.2 719.2 L1531.5 718.9 L1533.8 718.7 L1536.1 718.4 L1538.1 718.2 L1540.0 718.0 L1542.3 717.7 L1544.6 717.3 L1546.7 716.9 L1548.8 716.5 L1550.7 716.2 L1552.6 715.9 L1554.3 715.7 L1556.0 715.7 L1557.9 716.0 L1559.0 716.7 L1560.1 717.5 L1562.2 718.3 L1566.0 719.0 L1567.4 719.2 L1569.1 719.3 L1571.0 719.5 L1573.1 719.6 L1575.3 719.8 L1577.7 719.9 L1580.1 720.1 L1582.7 720.2 L1585.2 720.3 L1587.7 720.5 L1590.3 720.6 L1592.7 720.7 L1595.1 720.9 L1597.3 721.0 L1599.4 721.1 L1601.3 721.2 L1603.0 721.3 L1604.5 721.3 L1605.7 721.4" fill="none" stroke="#000" stroke-width="2.2" stroke-linejoin="round"/>
<path d="M1655.0 753.8 L1674.0 753.8 L1674.4 752.6 L1674.9 750.9 L1675.4 748.9 L1676.1 746.7 L1676.7 744.4 L1677.4 742.2 L1678.0 740.0 L1678.6 737.9 L1679.2 735.8 L1679.8 733.7 L1680.4 731.5 L1680.9 729.3 L1681.5 727.2 L1682.0 725.0 L1682.5 722.7 L1683.0 720.3 L1683.4 717.8 L1683.9 715.4 L1684.2 713.2 L1684.6 711.4 L1684.8 710.0 L1684.8 704.0 L1685.4 527.0 L1687.0 763.0 L1688.5 753.2 L1690.1 745.8 L1691.6 740.2 L1693.2 735.9 L1694.7 732.6 L1696.2 730.0 L1697.8 727.9 L1699.3 726.1 L1700.9 724.6 L1702.4 723.1 L1703.9 721.4 L1705.5 719.3 L1707.0 716.4 L1708.6 712.0 L1710.1 705.3 L1710.7 699.3 L1711.3 531.0 L1712.9 763.0 L1714.5 752.9 L1716.1 745.4 L1717.7 739.7 L1719.3 735.5 L1720.9 732.2 L1722.5 729.6 L1724.1 727.6 L1725.6 725.9 L1727.2 724.4 L1728.8 722.9 L1730.4 721.3 L1732.0 719.2 L1733.6 716.3 L1735.2 711.9 L1736.8 705.3 L1737.4 699.3 L1738.0 532.0 L1739.6 763.0 L1741.2 753.0 L1742.8 745.5 L1744.4 739.9 L1745.9 735.7 L1747.5 732.4 L1749.1 729.9 L1750.7 727.9 L1752.3 726.3 L1753.9 724.8 L1755.5 723.5 L1757.1 722.2 L1758.7 720.6 L1760.2 718.6 L1761.8 715.7 L1763.4 711.5 L1765.0 705.2 L1765.6 699.2 L1766.2 532.0 L1767.8 763.0 L1769.3 753.2 L1770.9 745.9 L1772.4 740.3 L1773.9 736.1 L1775.5 732.8 L1777.0 730.2 L1778.6 728.2 L1780.1 726.5 L1781.6 725.0 L1783.2 723.7 L1784.7 722.3 L1786.2 720.7 L1787.8 718.7 L1789.3 715.8 L1790.9 711.5 L1792.4 705.3 L1793.0 699.3 L1793.6 533.0 L1795.2 763.0 L1796.7 753.3 L1798.2 746.1 L1799.8 740.6 L1801.3 736.4 L1802.8 733.1 L1804.3 730.6 L1805.8 728.5 L1807.3 726.9 L1808.9 725.5 L1810.4 724.2 L1811.9 723.0 L1813.4 721.7 L1814.9 720.1 L1816.4 718.1 L1818.0 715.3 L1819.5 711.2 L1821.0 705.2 L1821.6 699.2 L1822.2 533.0 L1823.8 763.0 L1825.4 753.2 L1826.9 745.8 L1828.5 740.3 L1830.0 736.2 L1831.6 733.0 L1833.1 730.5 L1834.7 728.5 L1836.2 726.9 L1837.8 725.6 L1839.4 724.5 L1840.9 723.4 L1842.5 722.3 L1844.0 721.1 L1845.6 719.6 L1847.1 717.6 L1848.7 714.8 L1850.2 710.8 L1851.8 705.1 L1852.4 699.1 L1853.0 534.0 L1854.6 763.0 L1856.1 753.4 L1857.6 746.2 L1859.2 740.7 L1860.7 736.6 L1862.2 733.4 L1863.7 730.9 L1865.2 728.9 L1866.8 727.3 L1868.3 726.0 L1869.8 724.9 L1871.3 723.9 L1872.9 722.9 L1874.4 721.8 L1875.9 720.6 L1877.4 719.1 L1878.9 717.1 L1880.5 714.4 L1882.0 710.5 L1883.5 705.1 L1884.1 699.1 L1884.7 534.0 L1886.3 763.0 L1887.9 753.2 L1889.4 745.8 L1891.0 740.3 L1892.5 736.2 L1894.1 733.0 L1895.6 730.5 L1897.2 728.5 L1898.7 726.9 L1900.3 725.6 L1901.9 724.5 L1903.4 723.4 L1905.0 722.3 L1906.5 721.1 L1908.1 719.6 L1909.6 717.6 L1911.2 714.8 L1912.7 710.8 L1914.3 705.1 L1914.9 699.1 L1915.5 535.0 L1917.1 763.0 L1918.6 753.5 L1920.1 746.4 L1921.6 741.0 L1923.1 736.9 L1924.6 733.8 L1926.1 731.3 L1927.6 729.4 L1929.1 727.8 L1930.6 726.5 L1932.1 725.5 L1933.6 724.5 L1935.1 723.7 L1936.6 722.9 L1938.1 722.0 L1939.6 721.0 L1941.1 719.8 L1942.6 718.3 L1944.1 716.3 L1945.6 713.7 L1947.1 710.0 L1948.6 705.1 L1949.2 699.1 L1949.8 535.0 L1951.4 763.0 L1952.9 753.5 L1954.4 746.4 L1955.9 741.0 L1957.5 737.0 L1959.0 733.9 L1960.5 731.5 L1962.0 729.7 L1963.5 728.2 L1965.0 727.0 L1966.6 726.0 L1968.1 725.2 L1969.6 724.4 L1971.1 723.7 L1972.6 723.1 L1974.1 722.4 L1975.7 721.7 L1977.2 720.9 L1978.7 720.0 L1980.2 718.8 L1981.7 717.3 L1983.2 715.4 L1984.8 712.8 L1986.3 709.4 L1987.8 705.0 L1988.4 699.0 L1989.0 535.0 L1990.6 763.0 L1992.1 753.5 L1993.6 746.3 L1995.2 741.0 L1996.7 736.9 L1998.2 733.8 L1999.7 731.4 L2001.3 729.5 L2002.8 728.0 L2004.3 726.8 L2005.8 725.8 L2007.3 724.9 L2008.9 724.2 L2010.4 723.5 L2011.9 722.8 L2013.4 722.1 L2014.9 721.2 L2016.5 720.3 L2018.0 719.1 L2019.5 717.6 L2021.0 715.7 L2022.6 713.1 L2024.1 709.6 L2025.6 705.0 L2026.2 699.0 L2026.8 536.0 L2028.4 763.0 L2030.0 753.2 L2031.5 745.9 L2033.1 740.4 L2034.6 736.3 L2036.2 733.1 L2037.7 730.7 L2039.3 728.7 L2040.8 727.2 L2042.4 725.9 L2043.9 724.8 L2045.5 723.8 L2047.0 722.8 L2048.6 721.8 L2050.1 720.6 L2051.7 719.1 L2053.2 717.1 L2054.8 714.4 L2056.3 710.5 L2057.9 705.1 L2058.5 699.1 L2059.1 536.0 L2060.7 763.0 L2062.2 753.5 L2063.7 746.4 L2065.2 741.0 L2066.7 736.8 L2068.2 733.6 L2069.7 731.2 L2071.2 729.2 L2072.7 727.6 L2074.2 726.3 L2075.7 725.2 L2077.2 724.3 L2078.7 723.3 L2080.2 722.4 L2081.7 721.4 L2083.2 720.2 L2084.7 718.7 L2086.2 716.7 L2087.7 714.0 L2089.2 710.3 L2090.7 705.1 L2091.3 699.1 L2091.9 536.0 L2093.5 763.0 L2095.0 753.4 L2096.6 746.2 L2098.1 740.8 L2099.6 736.8 L2101.2 733.7 L2102.7 731.3 L2104.2 729.4 L2105.8 728.0 L2107.3 726.8 L2108.8 725.8 L2110.4 724.9 L2111.9 724.2 L2113.5 723.5 L2115.0 722.8 L2116.5 722.0 L2118.1 721.2 L2119.6 720.3 L2121.1 719.1 L2122.7 717.6 L2124.2 715.7 L2125.7 713.1 L2127.3 709.6 L2128.8 705.0 L2129.4 699.0 L2130.0 537.0 L2131.6 763.0 L2133.2 753.2 L2134.7 746.0 L2136.3 740.5 L2137.8 736.4 L2139.4 733.2 L2140.9 730.8 L2142.5 728.9 L2144.0 727.4 L2145.6 726.1 L2147.2 725.1 L2148.7 724.1 L2150.3 723.2 L2151.8 722.3 L2153.4 721.3 L2154.9 720.2 L2156.5 718.7 L2158.0 716.7 L2159.6 714.0 L2161.1 710.2 L2162.7 705.1 L2163.3 699.1 L2163.9 537.0 L2165.5 763.0 L2167.0 753.5 L2168.5 746.4 L2170.1 741.1 L2171.6 737.0 L2173.1 734.0 L2174.6 731.6 L2176.1 729.7 L2177.7 728.3 L2179.2 727.1 L2180.7 726.1 L2182.2 725.3 L2183.7 724.6 L2185.3 724.0 L2186.8 723.4 L2188.3 722.8 L2189.8 722.1 L2191.3 721.5 L2192.9 720.7 L2194.4 719.7 L2195.9 718.5 L2197.4 717.0 L2198.9 715.1 L2200.5 712.6 L2202.0 709.3 L2203.5 705.0 L2204.1 699.0 L2204.7 538.0 L2206.3 763.0 L2207.8 752.9 L2209.3 745.0 L2210.8 738.8 L2212.4 734.1 L2213.9 730.3 L2215.4 727.4 L2216.9 725.2 L2218.4 723.4 L2219.9 722.0 L2221.5 721.0 L2223.0 720.1 L2224.5 719.5 L2241.6 716.9" fill="none" stroke="#000" stroke-width="2.2" stroke-linejoin="round"/>
<path d="M384.8 1198.3 L386.1 1198.4 L387.8 1198.5 L389.9 1198.5 L392.4 1198.4 L395.0 1198.0 L396.6 1197.6 L398.4 1197.0 L400.3 1196.3 L402.3 1195.5 L404.4 1194.7 L406.4 1194.0 L408.4 1193.2 L410.3 1192.5 L412.0 1192.0 L413.1 1191.4 L412.4 1190.8 L411.6 1190.4 L412.3 1190.1 L416.2 1189.8 L424.8 1189.5 L425.9 1189.5 L427.1 1189.4 L428.4 1189.4 L429.7 1189.4 L431.1 1189.4 L432.5 1189.3 L433.9 1189.3 L435.4 1189.3 L437.0 1189.3 L438.6 1189.2 L440.2 1189.2 L441.9 1189.2 L443.6 1189.2 L445.4 1189.1 L447.2 1189.1 L449.0 1189.1 L450.9 1189.1 L452.8 1189.0 L454.8 1189.0 L456.7 1189.0 L458.7 1189.0 L460.8 1188.9 L462.8 1188.9 L464.9 1188.9 L467.0 1188.9 L469.1 1188.8 L471.3 1188.8 L473.5 1188.8 L475.7 1188.8 L477.9 1188.8 L480.1 1188.8 L482.4 1188.7 L484.6 1188.7 L486.9 1188.7 L489.2 1188.7 L491.5 1188.7 L493.8 1188.7 L496.1 1188.7 L498.4 1188.7 L500.7 1188.6 L503.1 1188.6 L505.4 1188.6 L507.7 1188.6 L510.1 1188.6 L512.4 1188.6 L514.7 1188.6 L517.1 1188.6 L519.4 1188.6 L521.7 1188.6 L524.0 1188.6 L526.3 1188.6 L528.6 1188.6 L530.8 1188.6 L533.1 1188.7 L535.3 1188.7 L537.6 1188.7 L539.8 1188.7 L542.0 1188.7 L544.1 1188.7 L546.3 1188.8 L548.4 1188.8 L550.5 1188.8 L552.5 1188.8 L554.4 1188.9 L556.4 1188.9 L558.4 1188.9 L560.4 1189.0 L562.4 1189.0 L564.4 1189.0 L566.4 1189.1 L568.4 1189.1 L570.4 1189.2 L572.5 1189.2 L574.5 1189.3 L576.5 1189.3 L578.6 1189.4 L580.6 1189.4 L582.7 1189.5 L584.7 1189.5 L586.8 1189.6 L588.8 1189.7 L590.9 1189.7 L592.9 1189.8 L595.0 1189.9 L597.1 1189.9 L599.1 1190.0 L601.2 1190.1 L603.3 1190.1 L605.3 1190.2 L607.4 1190.3 L609.5 1190.3 L611.5 1190.4 L613.6 1190.5 L615.7 1190.6 L617.7 1190.6 L619.8 1190.7 L621.9 1190.8 L623.9 1190.8 L626.0 1190.9 L628.1 1191.0 L630.1 1191.1 L632.2 1191.1 L634.2 1191.2 L636.3 1191.3 L638.3 1191.3 L640.4 1191.4 L642.4 1191.5 L644.4 1191.6 L646.4 1191.6 L648.5 1191.7 L650.5 1191.8 L652.5 1191.8 L654.5 1191.9 L656.5 1191.9 L658.5 1192.0 L660.5 1192.1 L662.5 1192.1 L664.5 1192.2 L666.4 1192.2 L668.4 1192.3 L670.3 1192.3 L672.3 1192.4 L674.2 1192.4 L676.2 1192.5 L678.1 1192.5 L680.0 1192.5 L681.9 1192.6 L683.8 1192.6 L685.9 1192.6 L688.1 1192.7 L690.2 1192.7 L692.3 1192.7 L694.4 1192.8 L696.5 1192.8 L698.5 1192.8 L700.6 1192.8 L702.6 1192.9 L704.7 1192.9 L706.7 1192.9 L708.7 1192.9 L710.7 1192.9 L712.7 1192.9 L714.7 1192.9 L716.7 1193.0 L718.7 1193.0 L720.7 1193.0 L722.7 1193.0 L724.6 1193.0 L726.6 1193.0 L728.5 1193.0 L730.5 1193.0 L732.4 1193.0 L734.4 1193.0 L736.3 1193.0 L738.3 1193.0 L740.2 1193.0 L742.1 1193.0 L744.1 1193.0 L746.0 1193.0 L748.0 1193.0 L749.9 1193.0 L751.8 1193.0 L753.8 1193.0 L755.7 1193.0 L757.7 1193.0 L759.6 1193.0 L761.6 1193.0 L763.5 1193.0 L765.5 1193.0 L767.5 1193.0 L769.4 1193.0 L771.4 1193.0 L773.4 1193.0 L775.4 1193.0 L777.4 1193.0 L779.4 1193.0 L781.4 1193.0 L783.4 1193.0 L785.5 1193.0 L787.5 1193.0 L789.6 1193.0 L791.6 1193.0 L793.7 1193.0 L795.8 1193.0 L797.9 1193.0 L800.0 1193.0 L801.9 1193.0 L803.9 1193.0 L805.9 1193.0 L808.0 1193.0 L810.0 1193.0 L812.1 1193.0 L814.3 1193.0 L816.4 1193.0 L818.6 1193.0 L820.8 1193.1 L823.1 1193.1 L825.3 1193.1 L827.6 1193.1 L829.9 1193.1 L832.2 1193.1 L834.5 1193.1 L836.8 1193.1 L839.1 1193.1 L841.5 1193.1 L843.8 1193.1 L846.2 1193.1 L848.6 1193.1 L850.9 1193.1 L853.3 1193.1 L855.6 1193.1 L858.0 1193.1 L860.4 1193.1 L862.7 1193.2 L865.0 1193.2 L867.4 1193.2 L869.7 1193.2 L872.0 1193.2 L874.3 1193.2 L876.6 1193.2 L878.8 1193.2 L881.1 1193.2 L883.3 1193.2 L885.5 1193.2 L887.7 1193.2 L889.8 1193.2 L892.0 1193.2 L894.1 1193.2 L896.1 1193.2 L898.1 1193.2 L900.1 1193.2 L902.1 1193.2 L904.0 1193.2 L905.9 1193.2 L907.8 1193.3 L909.6 1193.3 L911.3 1193.3 L913.0 1193.3 L914.7 1193.3 L916.3 1193.3 L917.9 1193.3 L919.4 1193.3 L920.9 1193.3 L922.3 1193.3 L923.6 1193.3 L924.9 1193.3 L926.2 1193.3 L927.3 1193.3 L928.5 1193.3 L929.5 1193.3 L931.1 1194.4 L932.6 1195.4 L934.2 1196.3 L935.7 1197.0 L937.3 1197.7 L938.8 1198.4 L940.4 1198.9 L941.9 1199.4 L943.5 1199.9 L945.0 1200.3 L946.6 1200.6 L948.1 1201.0 L949.7 1201.3 L951.2 1201.5 L952.8 1201.8 L954.3 1202.0 L955.9 1202.1 L957.4 1202.3 L959.0 1202.5 L960.5 1202.6 L962.1 1202.7 L963.6 1202.8 L965.2 1202.9 L966.7 1203.0 L968.3 1203.1 L969.8 1203.1 L971.4 1203.2" fill="none" stroke="#000" stroke-width="2.2" stroke-linejoin="round"/>
<path d="M1021.0 1198.3 L1033.5 1198.3 L1034.5 1196.8 L1036.1 1194.6 L1038.0 1192.0 L1039.1 1190.5 L1040.2 1188.8 L1041.5 1187.1 L1042.8 1185.2 L1044.2 1183.5 L1045.7 1181.9 L1047.3 1180.5 L1049.1 1179.1 L1050.9 1177.8 L1052.7 1176.6 L1054.4 1175.3 L1056.0 1174.0 L1057.7 1172.4 L1059.2 1170.8 L1060.6 1169.1 L1061.9 1167.5 L1063.0 1166.0 L1064.4 1163.3 L1065.4 1160.8 L1066.0 1159.0 L1066.4 1153.0 L1067.0 974.3 L1068.6 1203.6 L1070.1 1196.5 L1071.6 1191.2 L1073.1 1187.3 L1074.6 1184.3 L1076.1 1182.1 L1077.6 1180.4 L1079.1 1179.1 L1080.6 1178.1 L1082.1 1177.4 L1083.6 1176.7 L1085.1 1176.3 L1086.6 1175.9 L1088.1 1175.5 L1089.6 1175.2 L1091.1 1175.0 L1092.6 1174.8 L1094.1 1174.6 L1095.6 1174.4 L1097.1 1174.2 L1098.6 1174.0 L1100.1 1173.9 L1101.6 1173.7 L1103.1 1173.6 L1104.6 1173.4 L1106.1 1173.2 L1107.6 1173.1 L1109.1 1172.9 L1110.6 1172.7 L1112.1 1172.6 L1113.6 1172.4 L1115.1 1172.2 L1116.6 1172.0 L1118.1 1171.7 L1119.6 1171.5 L1121.1 1171.2 L1122.6 1170.9 L1124.1 1170.6 L1125.6 1170.2 L1127.1 1169.8 L1128.6 1169.3 L1130.1 1168.8 L1131.6 1168.2 L1133.1 1167.5 L1134.6 1166.7 L1136.1 1165.8 L1137.6 1164.8 L1139.1 1163.6 L1140.6 1162.3 L1142.1 1160.7 L1143.6 1159.0 L1144.2 1153.0 L1144.8 976.2 L1146.4 1203.6 L1147.9 1199.2 L1149.4 1195.7 L1150.9 1192.8 L1152.4 1190.5 L1153.9 1188.6 L1155.4 1187.1 L1156.9 1185.9 L1158.4 1184.9 L1159.9 1184.0 L1161.5 1183.4 L1163.0 1182.9 L1164.5 1182.4 L1166.0 1182.1 L1167.5 1181.8 L1169.0 1181.6 L1170.5 1181.4 L1172.0 1181.2 L1173.5 1181.1 L1175.0 1181.0 L1176.1 1180.9 L1177.3 1180.7 L1178.5 1180.6 L1179.9 1180.4 L1181.3 1180.2 L1182.9 1180.0 L1184.5 1179.8 L1186.2 1179.6 L1188.0 1179.4 L1189.8 1179.2 L1191.8 1178.9 L1193.8 1178.7 L1195.9 1178.4 L1198.0 1178.2 L1200.2 1177.9 L1202.5 1177.6 L1204.9 1177.4 L1207.3 1177.1 L1209.8 1176.9 L1212.3 1176.7 L1214.9 1176.4 L1217.5 1176.2 L1220.2 1176.0 L1223.0 1175.8 L1225.8 1175.6 L1228.6 1175.4 L1230.2 1175.3 L1231.8 1175.2 L1233.5 1175.1 L1235.1 1175.0 L1236.8 1174.9 L1238.5 1174.8 L1240.2 1174.7 L1242.0 1174.7 L1243.8 1174.6 L1245.6 1174.5 L1247.4 1174.4 L1249.2 1174.3 L1251.1 1174.2 L1252.9 1174.1 L1254.8 1174.0 L1256.7 1173.9 L1258.7 1173.9 L1260.6 1173.8 L1262.6 1173.7 L1264.6 1173.6 L1266.6 1173.5 L1268.6 1173.5 L1270.6 1173.4 L1272.7 1173.3 L1274.8 1173.2 L1276.8 1173.2 L1278.9 1173.1 L1281.1 1173.0 L1283.2 1173.0 L1285.3 1172.9 L1287.5 1172.8 L1289.7 1172.8 L1291.9 1172.7 L1294.1 1172.6 L1296.3 1172.6 L1298.5 1172.5 L1300.8 1172.5 L1303.0 1172.4 L1305.3 1172.4 L1307.6 1172.3 L1309.8 1172.3 L1312.1 1172.2 L1314.5 1172.2 L1316.8 1172.1 L1319.1 1172.1 L1321.4 1172.0 L1323.8 1172.0 L1325.6 1172.0 L1327.4 1171.9 L1329.2 1171.9 L1331.0 1171.9 L1332.8 1171.9 L1334.7 1171.9 L1336.5 1171.9 L1338.4 1171.8 L1340.3 1171.8 L1342.2 1171.8 L1344.1 1171.8 L1346.1 1171.8 L1348.0 1171.8 L1350.0 1171.8 L1352.0 1171.8 L1354.0 1171.8 L1356.0 1171.8 L1358.0 1171.8 L1360.0 1171.8 L1362.0 1171.8 L1364.0 1171.8 L1366.1 1171.8 L1368.1 1171.8 L1370.2 1171.8 L1372.2 1171.8 L1374.3 1171.8 L1376.4 1171.8 L1378.4 1171.8 L1380.5 1171.8 L1382.6 1171.8 L1384.7 1171.8 L1386.8 1171.8 L1388.9 1171.8 L1391.0 1171.8 L1393.1 1171.8 L1395.2 1171.8 L1397.2 1171.9 L1399.3 1171.9 L1401.4 1171.9 L1403.5 1171.9 L1405.6 1171.9 L1407.7 1171.9 L1409.8 1171.9 L1411.9 1171.9 L1413.9 1171.9 L1416.0 1171.9 L1418.1 1171.9 L1420.1 1172.0 L1422.2 1172.0 L1424.2 1172.0 L1426.3 1172.0 L1428.3 1172.0 L1430.3 1172.0 L1432.4 1172.0 L1434.4 1172.0 L1436.4 1172.0 L1438.3 1172.0 L1440.3 1172.0 L1442.3 1172.0 L1444.2 1172.0 L1446.2 1172.0 L1448.1 1172.0 L1450.0 1172.0 L1452.2 1172.0 L1454.3 1172.0 L1456.5 1172.0 L1458.8 1172.0 L1461.0 1172.0 L1463.3 1172.0 L1465.6 1172.0 L1467.9 1172.0 L1470.2 1172.0 L1472.6 1171.9 L1474.9 1171.9 L1477.3 1171.9 L1479.6 1171.9 L1482.0 1171.9 L1484.4 1171.9 L1486.7 1171.9 L1489.1 1171.9 L1491.5 1171.9 L1493.9 1171.9 L1496.2 1171.9 L1498.6 1171.9 L1500.9 1171.9 L1503.3 1171.8 L1505.6 1171.8 L1507.9 1171.8 L1510.2 1171.8 L1512.5 1171.8 L1514.8 1171.8 L1517.0 1171.8 L1519.3 1171.8 L1521.5 1171.8 L1523.6 1171.8 L1525.8 1171.8 L1527.9 1171.7 L1530.0 1171.7 L1532.1 1171.7 L1534.1 1171.7 L1536.1 1171.7 L1538.0 1171.7 L1539.9 1171.7 L1541.8 1171.7 L1543.6 1171.7 L1545.4 1171.7 L1547.2 1171.7 L1548.9 1171.7 L1550.5 1171.7 L1552.1 1171.6 L1553.6 1171.6 L1555.1 1171.6 L1556.5 1171.6 L1557.9 1171.6 L1559.2 1171.6 L1560.5 1171.6 L1561.6 1171.6 L1562.7 1171.6 L1563.8 1171.6 L1565.4 1175.0 L1566.9 1178.1 L1568.5 1180.8 L1570.0 1183.3 L1571.6 1185.5 L1573.1 1187.5 L1574.7 1189.2 L1576.2 1190.8 L1577.8 1192.2 L1579.3 1193.5 L1580.9 1194.6 L1582.4 1195.6 L1584.0 1196.5 L1585.5 1197.3 L1587.1 1198.1 L1588.6 1198.7 L1590.2 1199.3 L1591.7 1199.8 L1593.3 1200.3 L1594.8 1200.7 L1596.4 1201.1 L1597.9 1201.4 L1599.5 1201.7 L1601.0 1202.0 L1602.6 1202.2 L1604.1 1202.4 L1605.7 1202.6" fill="none" stroke="#000" stroke-width="2.2" stroke-linejoin="round"/>
<path d="M1655.0 1184.6 L1668.3 1184.6 L1668.8 1183.5 L1669.5 1181.9 L1670.3 1180.1 L1671.2 1178.0 L1672.2 1175.9 L1673.1 1173.8 L1674.1 1171.8 L1675.0 1170.0 L1676.2 1167.8 L1677.4 1165.7 L1678.6 1163.7 L1679.8 1161.8 L1680.9 1159.9 L1682.0 1158.0 L1683.3 1155.7 L1684.6 1153.2 L1685.8 1150.9 L1686.8 1149.0 L1687.5 1147.6 L1687.9 1141.6 L1688.5 971.6 L1690.1 1189.5 L1691.6 1181.4 L1693.2 1175.3 L1694.7 1170.7 L1696.2 1167.2 L1697.8 1164.6 L1699.3 1162.5 L1700.8 1160.9 L1702.4 1159.6 L1703.9 1158.6 L1705.4 1157.7 L1707.0 1156.9 L1708.5 1156.2 L1710.0 1155.5 L1711.6 1154.8 L1713.1 1154.0 L1714.6 1153.0 L1716.2 1151.7 L1717.7 1150.1 L1719.2 1147.8 L1720.8 1144.7 L1722.3 1140.5 L1722.9 1134.5 L1723.5 976.2 L1725.1 1189.5 L1726.6 1181.5 L1728.1 1175.5 L1729.7 1171.0 L1731.2 1167.7 L1732.7 1165.1 L1734.2 1163.1 L1735.7 1161.6 L1737.2 1160.4 L1738.8 1159.4 L1740.3 1158.6 L1741.8 1157.9 L1743.3 1157.4 L1744.8 1156.9 L1746.4 1156.4 L1747.9 1155.9 L1749.4 1155.5 L1750.9 1155.0 L1752.4 1154.5 L1754.0 1154.0 L1755.5 1153.3 L1757.0 1152.5 L1758.5 1151.5 L1760.0 1150.2 L1761.5 1148.6 L1763.1 1146.5 L1764.6 1143.9 L1766.1 1140.5 L1766.7 1134.5 L1767.3 976.2 L1768.9 1189.5 L1770.4 1181.6 L1772.0 1175.7 L1773.5 1171.3 L1775.0 1168.0 L1776.5 1165.5 L1778.1 1163.6 L1779.6 1162.2 L1781.1 1161.1 L1782.7 1160.2 L1784.2 1159.5 L1785.7 1159.0 L1787.3 1158.5 L1788.8 1158.1 L1790.3 1157.8 L1791.8 1157.5 L1793.4 1157.2 L1794.9 1156.9 L1796.4 1156.7 L1798.0 1156.4 L1799.5 1156.2 L1801.0 1156.0 L1802.6 1155.7 L1804.1 1155.5 L1805.6 1155.2 L1807.1 1154.9 L1808.7 1154.6 L1810.2 1154.3 L1811.7 1153.9 L1813.3 1153.5 L1814.8 1153.0 L1816.3 1152.5 L1817.9 1151.9 L1819.4 1151.1 L1820.9 1150.2 L1822.4 1149.2 L1824.0 1148.0 L1825.5 1146.5 L1827.0 1144.9 L1828.6 1142.9 L1830.1 1140.5 L1830.7 1134.5 L1831.3 976.2 L1832.9 1189.5 L1834.4 1181.6 L1835.9 1175.7 L1837.5 1171.2 L1839.0 1167.9 L1840.5 1165.4 L1842.0 1163.5 L1843.5 1162.0 L1845.1 1160.9 L1846.6 1160.0 L1848.1 1159.3 L1849.6 1158.7 L1851.1 1158.2 L1852.7 1157.7 L1854.2 1157.4 L1855.7 1157.0 L1857.2 1156.7 L1858.7 1156.4 L1860.3 1156.1 L1861.8 1155.8 L1863.3 1155.6 L1864.8 1155.2 L1866.3 1154.9 L1867.9 1154.6 L1869.4 1154.2 L1870.9 1153.7 L1872.4 1153.2 L1873.9 1152.6 L1875.5 1151.9 L1877.0 1151.0 L1878.5 1150.0 L1880.0 1148.7 L1881.5 1147.2 L1883.1 1145.4 L1884.6 1143.2 L1886.1 1140.5 L1886.7 1134.5 L1887.3 976.2 L1888.9 1189.5 L1890.4 1181.6 L1891.9 1175.8 L1893.5 1171.4 L1895.0 1168.2 L1896.5 1165.8 L1898.0 1163.9 L1899.6 1162.6 L1901.1 1161.5 L1902.6 1160.7 L1904.1 1160.0 L1905.6 1159.5 L1907.2 1159.1 L1908.7 1158.7 L1910.2 1158.4 L1911.7 1158.2 L1913.3 1158.0 L1914.8 1157.7 L1916.3 1157.6 L1917.8 1157.4 L1919.4 1157.2 L1920.9 1157.0 L1922.4 1156.9 L1923.9 1156.7 L1925.4 1156.5 L1927.0 1156.4 L1928.5 1156.2 L1930.0 1156.1 L1931.5 1155.9 L1933.1 1155.7 L1934.6 1155.5 L1936.1 1155.4 L1937.6 1155.2 L1939.1 1155.0 L1940.7 1154.7 L1942.2 1154.5 L1943.7 1154.2 L1945.2 1154.0 L1946.8 1153.7 L1948.3 1153.3 L1949.8 1152.9 L1951.3 1152.5 L1952.9 1152.1 L1954.4 1151.5 L1955.9 1150.9 L1957.4 1150.3 L1958.9 1149.5 L1960.5 1148.6 L1962.0 1147.7 L1963.5 1146.6 L1965.0 1145.3 L1966.6 1143.9 L1968.1 1142.3 L1969.6 1140.5 L1970.2 1134.5 L1970.8 976.2 L1972.4 1189.5 L1973.9 1181.7 L1975.4 1175.9 L1976.9 1171.6 L1978.4 1168.4 L1979.9 1166.0 L1981.4 1164.2 L1983.0 1162.8 L1984.5 1161.7 L1986.0 1160.9 L1987.5 1160.3 L1989.0 1159.8 L1990.5 1159.4 L1992.0 1159.0 L1993.5 1158.8 L1995.0 1158.5 L1996.5 1158.3 L1998.0 1158.1 L1999.5 1158.0 L2001.1 1157.8 L2002.6 1157.6 L2004.1 1157.5 L2005.6 1157.4 L2007.1 1157.2 L2008.6 1157.1 L2010.1 1156.9 L2011.6 1156.8 L2013.1 1156.7 L2014.6 1156.5 L2016.1 1156.4 L2017.6 1156.3 L2019.2 1156.1 L2020.7 1156.0 L2022.2 1155.9 L2023.7 1155.7 L2025.2 1155.6 L2026.7 1155.4 L2028.2 1155.2 L2029.7 1155.1 L2031.2 1154.9 L2032.7 1154.7 L2034.2 1154.5 L2035.7 1154.3 L2037.2 1154.0 L2038.8 1153.8 L2040.3 1153.5 L2041.8 1153.2 L2043.3 1152.9 L2044.8 1152.5 L2046.3 1152.1 L2047.8 1151.7 L2049.3 1151.2 L2050.8 1150.6 L2052.3 1150.0 L2053.8 1149.4 L2055.3 1148.6 L2056.9 1147.8 L2058.4 1146.9 L2059.9 1145.9 L2061.4 1144.7 L2062.9 1143.5 L2064.4 1142.1 L2065.9 1140.5 L2066.5 1134.5 L2067.1 976.2 L2068.7 1189.5 L2070.3 1184.4 L2071.8 1180.3 L2073.4 1176.9 L2075.0 1174.1 L2076.5 1171.8 L2078.1 1169.9 L2079.7 1168.4 L2081.2 1167.1 L2082.8 1166.1 L2084.3 1165.3 L2085.9 1164.6 L2087.5 1164.0 L2089.0 1163.6 L2090.6 1163.2 L2092.2 1162.9 L2093.7 1162.6 L2095.3 1162.4 L2096.9 1162.3 L2098.4 1162.1 L2100.0 1162.0 L2101.2 1161.7 L2102.5 1161.4 L2104.1 1161.1 L2105.9 1160.6 L2107.8 1160.2 L2109.9 1159.7 L2112.1 1159.2 L2114.3 1158.7 L2116.7 1158.2 L2119.2 1157.7 L2121.6 1157.2 L2124.2 1156.8 L2126.7 1156.4 L2129.2 1156.0 L2131.0 1155.8 L2132.9 1155.6 L2134.8 1155.4 L2136.8 1155.2 L2138.8 1155.0 L2140.9 1154.8 L2143.0 1154.7 L2145.1 1154.5 L2147.3 1154.4 L2149.4 1154.2 L2151.6 1154.1 L2153.8 1154.0 L2155.9 1153.8 L2158.1 1153.7 L2160.2 1153.6 L2162.2 1153.5 L2164.3 1153.3 L2166.2 1153.2 L2168.2 1153.1 L2170.0 1153.0 L2172.4 1152.8 L2174.9 1152.7 L2177.4 1152.6 L2179.9 1152.4 L2182.4 1152.3 L2184.8 1152.2 L2187.2 1152.1 L2189.5 1152.0 L2191.7 1151.9 L2193.7 1151.8 L2195.7 1151.7 L2197.4 1151.6 L2199.0 1151.5 L2200.4 1151.5 L2201.6 1151.4 L2203.1 1155.6 L2204.7 1159.4 L2206.2 1162.7 L2207.8 1165.7 L2209.3 1168.4 L2210.8 1170.7 L2212.4 1172.9 L2213.9 1174.7 L2215.4 1176.4 L2217.0 1177.9 L2218.5 1179.2 L2220.1 1180.4 L2221.6 1181.5 L2223.1 1182.4 L2224.7 1183.3 L2226.2 1184.0 L2227.8 1184.7 L2229.3 1185.3 L2230.8 1185.8 L2232.4 1186.3 L2233.9 1186.7 L2235.4 1187.1 L2237.0 1187.4 L2238.5 1187.7 L2240.1 1188.0 L2241.6 1188.2" fill="none" stroke="#000" stroke-width="2.2" stroke-linejoin="round"/>
<path d="M384.8 1554.0 L398.0 1554.0 L399.0 1553.2 L400.3 1552.2 L401.7 1550.9 L403.4 1549.5 L405.2 1548.0 L407.1 1546.4 L409.1 1544.9 L411.1 1543.3 L413.1 1541.9 L415.1 1540.6 L417.1 1539.5 L418.9 1538.6 L420.8 1537.8 L422.7 1537.1 L424.7 1536.4 L426.8 1535.7 L428.8 1535.1 L430.8 1534.5 L432.8 1534.0 L434.7 1533.5 L436.6 1533.0 L438.3 1532.5 L440.0 1532.0 L442.7 1531.3 L445.2 1530.7 L447.6 1530.1 L449.8 1529.7 L451.8 1529.2 L453.6 1528.6 L455.2 1528.0 L457.6 1526.3 L458.9 1524.3 L460.0 1522.0 L461.0 1519.7 L461.9 1517.1 L462.7 1514.6 L463.3 1512.9 L463.4 1506.9 L464.0 1318.6 L465.6 1554.8 L467.0 1547.4 L468.4 1543.0 L469.8 1540.2 L471.2 1538.6 L472.6 1537.6 L474.0 1537.0 L475.2 1537.3 L476.8 1537.7 L478.7 1538.1 L480.8 1538.6 L483.0 1539.2 L485.3 1539.7 L487.7 1540.1 L490.0 1540.5 L491.7 1540.8 L493.3 1541.0 L494.8 1541.3 L496.3 1541.5 L497.9 1541.8 L499.6 1542.0 L501.7 1542.1 L504.0 1542.2 L506.8 1542.3 L510.0 1542.3 L511.4 1542.3 L512.9 1542.3 L514.5 1542.2 L516.1 1542.2 L517.8 1542.1 L519.6 1542.1 L521.4 1542.0 L523.2 1541.9 L525.1 1541.8 L527.0 1541.7 L529.0 1541.6 L531.1 1541.5 L533.1 1541.4 L535.2 1541.3 L537.4 1541.2 L539.5 1541.1 L541.7 1541.0 L543.9 1540.8 L546.2 1540.7 L548.5 1540.6 L550.7 1540.5 L553.0 1540.4 L555.3 1540.2 L557.7 1540.1 L560.0 1540.0 L561.7 1539.9 L563.4 1539.8 L565.0 1539.7 L566.6 1539.6 L568.2 1539.5 L569.7 1539.4 L571.2 1539.3 L572.6 1539.2 L574.1 1539.1 L575.6 1539.0 L577.0 1538.8 L578.5 1538.7 L580.1 1538.6 L581.6 1538.5 L583.2 1538.4 L584.8 1538.3 L586.5 1538.1 L588.2 1538.0 L590.0 1537.9 L591.9 1537.8 L593.9 1537.7 L596.0 1537.6 L598.1 1537.5 L600.4 1537.3 L602.7 1537.2 L605.2 1537.1 L607.9 1537.0 L610.6 1536.9 L613.5 1536.8 L616.6 1536.7 L619.8 1536.7 L623.2 1536.6 L626.7 1536.5 L628.1 1536.5 L629.6 1536.4 L631.0 1536.4 L632.6 1536.4 L634.1 1536.4 L635.7 1536.3 L637.3 1536.3 L638.9 1536.3 L640.6 1536.3 L642.3 1536.2 L644.0 1536.2 L645.7 1536.2 L647.5 1536.2 L649.3 1536.1 L651.1 1536.1 L653.0 1536.1 L654.9 1536.1 L656.8 1536.0 L658.7 1536.0 L660.6 1536.0 L662.6 1536.0 L664.5 1536.0 L666.5 1535.9 L668.6 1535.9 L670.6 1535.9 L672.6 1535.9 L674.7 1535.9 L676.8 1535.9 L678.9 1535.8 L681.0 1535.8 L683.1 1535.8 L685.3 1535.8 L687.4 1535.8 L689.6 1535.7 L691.8 1535.7 L693.9 1535.7 L696.1 1535.7 L698.3 1535.7 L700.5 1535.7 L702.7 1535.7 L705.0 1535.6 L707.2 1535.6 L709.4 1535.6 L711.7 1535.6 L713.9 1535.6 L716.1 1535.6 L718.4 1535.5 L720.6 1535.5 L722.9 1535.5 L725.1 1535.5 L727.4 1535.5 L729.6 1535.5 L731.9 1535.5 L734.1 1535.4 L736.3 1535.4 L738.6 1535.4 L740.8 1535.4 L743.0 1535.4 L745.2 1535.4 L747.4 1535.4 L749.6 1535.4 L751.8 1535.3 L754.0 1535.3 L756.2 1535.3 L758.3 1535.3 L760.5 1535.3 L762.6 1535.3 L764.7 1535.3 L766.9 1535.2 L769.0 1535.2 L771.0 1535.2 L773.1 1535.2 L775.2 1535.2 L777.2 1535.2 L779.2 1535.2 L781.2 1535.1 L783.2 1535.1 L785.1 1535.1 L787.1 1535.1 L789.0 1535.1 L790.9 1535.1 L792.8 1535.1 L794.6 1535.0 L796.4 1535.0 L798.2 1535.0 L800.0 1535.0 L802.4 1535.0 L804.8 1535.0 L807.1 1534.9 L809.5 1534.9 L811.9 1534.9 L814.3 1534.9 L816.8 1534.8 L819.2 1534.8 L821.6 1534.8 L824.0 1534.8 L826.4 1534.8 L828.8 1534.7 L831.3 1534.7 L833.7 1534.7 L836.1 1534.7 L838.5 1534.7 L840.9 1534.6 L843.3 1534.6 L845.7 1534.6 L848.1 1534.6 L850.4 1534.5 L852.8 1534.5 L855.1 1534.5 L857.5 1534.5 L859.8 1534.5 L862.1 1534.4 L864.4 1534.4 L866.7 1534.4 L868.9 1534.4 L871.2 1534.3 L873.4 1534.3 L875.6 1534.3 L877.8 1534.3 L879.9 1534.3 L882.1 1534.2 L884.2 1534.2 L886.3 1534.2 L888.3 1534.2 L890.3 1534.2 L892.3 1534.1 L894.3 1534.1 L896.3 1534.1 L898.2 1534.1 L900.1 1534.1 L901.9 1534.1 L903.7 1534.0 L905.5 1534.0 L907.3 1534.0 L909.0 1534.0 L910.6 1534.0 L912.3 1534.0 L913.9 1533.9 L915.4 1533.9 L916.9 1533.9 L918.4 1533.9 L919.8 1533.9 L921.2 1533.9 L922.5 1533.9 L923.8 1533.9 L925.0 1533.8 L926.2 1533.8 L927.4 1533.8 L928.5 1533.8 L929.5 1533.8 L931.1 1536.2 L932.6 1538.3 L934.2 1540.2 L935.7 1541.9 L937.3 1543.4 L938.8 1544.8 L940.4 1546.0 L941.9 1547.1 L943.5 1548.1 L945.0 1549.0 L946.6 1549.8 L948.1 1550.5 L949.7 1551.1 L951.2 1551.7 L952.8 1552.2 L954.3 1552.6 L955.9 1553.0 L957.4 1553.4 L959.0 1553.7 L960.5 1554.0 L962.1 1554.2 L963.6 1554.5 L965.2 1554.7 L966.7 1554.9 L968.3 1555.0 L969.8 1555.2 L971.4 1555.3" fill="none" stroke="#000" stroke-width="2.2" stroke-linejoin="round"/>
<path d="M1021.0 1539.5 L1033.5 1539.5 L1034.2 1538.2 L1035.2 1536.5 L1036.4 1534.5 L1037.7 1532.2 L1038.9 1530.0 L1040.0 1528.0 L1041.0 1526.1 L1041.9 1524.0 L1042.9 1522.1 L1043.8 1520.1 L1044.7 1518.3 L1045.7 1516.7 L1047.2 1514.7 L1048.8 1513.2 L1050.5 1511.7 L1052.0 1510.0 L1053.3 1508.3 L1054.6 1506.3 L1055.9 1504.3 L1056.9 1502.6 L1057.7 1501.4 L1057.7 1495.4 L1058.3 1316.7 L1059.9 1543.3 L1061.4 1536.3 L1062.9 1531.1 L1064.4 1527.2 L1065.9 1524.2 L1067.4 1522.0 L1068.9 1520.3 L1070.4 1518.9 L1071.9 1517.9 L1073.4 1517.1 L1074.9 1516.5 L1076.4 1516.0 L1077.9 1515.5 L1079.4 1515.2 L1080.9 1514.8 L1082.4 1514.5 L1083.9 1514.3 L1085.4 1514.0 L1086.9 1513.8 L1088.4 1513.6 L1089.9 1513.3 L1091.4 1513.1 L1092.9 1512.9 L1094.4 1512.6 L1095.9 1512.3 L1097.4 1512.1 L1098.9 1511.7 L1100.4 1511.4 L1101.9 1510.9 L1103.4 1510.5 L1104.9 1509.9 L1106.4 1509.2 L1107.9 1508.5 L1109.4 1507.5 L1110.9 1506.4 L1112.4 1505.1 L1113.9 1503.6 L1115.4 1501.7 L1116.9 1499.5 L1117.5 1493.5 L1118.1 1318.0 L1119.7 1543.3 L1121.2 1535.9 L1122.7 1530.4 L1124.2 1526.3 L1125.7 1523.3 L1127.2 1520.9 L1128.7 1519.2 L1130.2 1517.9 L1131.7 1516.8 L1133.3 1516.0 L1134.8 1515.4 L1136.3 1514.9 L1137.8 1514.5 L1139.3 1514.1 L1140.8 1513.9 L1142.3 1513.6 L1143.8 1513.4 L1145.3 1513.2 L1146.8 1513.0 L1148.3 1512.8 L1149.8 1512.6 L1151.3 1512.4 L1152.8 1512.3 L1154.3 1512.1 L1155.8 1512.0 L1157.3 1511.8 L1158.9 1511.6 L1160.4 1511.4 L1161.9 1511.3 L1163.4 1511.1 L1164.9 1510.9 L1166.4 1510.7 L1167.9 1510.5 L1169.4 1510.2 L1170.9 1510.0 L1172.4 1509.7 L1173.9 1509.4 L1175.4 1509.0 L1176.9 1508.7 L1178.4 1508.2 L1179.9 1507.7 L1181.4 1507.2 L1183.0 1506.5 L1184.5 1505.8 L1186.0 1505.0 L1187.5 1504.1 L1189.0 1503.0 L1190.5 1501.8 L1192.0 1500.4 L1193.5 1498.8 L1195.0 1497.0 L1195.6 1491.0 L1196.2 1319.0 L1197.8 1543.3 L1199.3 1536.0 L1200.8 1530.6 L1202.3 1526.5 L1203.8 1523.5 L1205.3 1521.2 L1206.8 1519.5 L1208.3 1518.2 L1209.8 1517.2 L1211.3 1516.5 L1212.8 1515.9 L1214.3 1515.5 L1215.8 1515.1 L1217.3 1514.8 L1218.8 1514.6 L1220.3 1514.3 L1221.8 1514.2 L1223.3 1514.0 L1224.8 1513.9 L1226.3 1513.7 L1227.8 1513.6 L1229.3 1513.5 L1230.8 1513.4 L1232.3 1513.3 L1233.8 1513.2 L1235.3 1513.1 L1236.8 1513.0 L1238.3 1512.9 L1239.8 1512.8 L1241.3 1512.7 L1242.8 1512.6 L1244.3 1512.5 L1245.8 1512.3 L1247.3 1512.2 L1248.8 1512.1 L1250.3 1512.0 L1251.8 1511.9 L1253.3 1511.8 L1254.9 1511.7 L1256.4 1511.6 L1257.9 1511.5 L1259.4 1511.4 L1260.9 1511.3 L1262.4 1511.1 L1263.9 1511.0 L1265.4 1510.9 L1266.9 1510.8 L1268.4 1510.6 L1269.9 1510.5 L1271.4 1510.3 L1272.9 1510.1 L1274.4 1510.0 L1275.9 1509.8 L1277.4 1509.6 L1278.9 1509.4 L1280.4 1509.2 L1281.9 1508.9 L1283.4 1508.7 L1284.9 1508.4 L1286.4 1508.1 L1287.9 1507.7 L1289.4 1507.4 L1290.9 1507.0 L1292.4 1506.5 L1293.9 1506.1 L1295.4 1505.6 L1296.9 1505.0 L1298.4 1504.4 L1299.9 1503.7 L1301.4 1503.0 L1302.9 1502.2 L1304.4 1501.3 L1305.9 1500.4 L1307.4 1499.4 L1308.9 1498.2 L1310.4 1497.0 L1311.0 1491.0 L1311.6 1319.0 L1313.2 1543.3 L1314.7 1535.8 L1316.2 1530.2 L1317.7 1526.1 L1319.2 1523.0 L1320.7 1520.7 L1322.2 1519.0 L1323.7 1517.7 L1325.2 1516.8 L1326.8 1516.0 L1328.3 1515.5 L1329.8 1515.1 L1331.3 1514.7 L1332.8 1514.5 L1334.3 1514.2 L1335.8 1514.1 L1337.3 1513.9 L1338.8 1513.8 L1340.3 1513.7 L1341.8 1513.6 L1343.3 1513.5 L1344.8 1513.4 L1346.3 1513.3 L1347.8 1513.3 L1349.3 1513.2 L1350.9 1513.1 L1352.4 1513.0 L1353.9 1513.0 L1355.4 1512.9 L1356.9 1512.8 L1358.4 1512.8 L1359.9 1512.7 L1361.4 1512.6 L1362.9 1512.6 L1364.4 1512.5 L1365.9 1512.4 L1367.4 1512.4 L1368.9 1512.3 L1370.4 1512.2 L1371.9 1512.2 L1373.4 1512.1 L1374.9 1512.0 L1376.5 1512.0 L1378.0 1511.9 L1379.5 1511.8 L1381.0 1511.8 L1382.5 1511.7 L1384.0 1511.6 L1385.5 1511.6 L1387.0 1511.5 L1388.5 1511.4 L1390.0 1511.4 L1391.5 1511.3 L1393.0 1511.2 L1394.5 1511.2 L1396.0 1511.1 L1397.5 1511.0 L1399.0 1511.0 L1400.5 1510.9 L1402.1 1510.8 L1403.6 1510.7 L1405.1 1510.7 L1406.6 1510.6 L1408.1 1510.5 L1409.6 1510.4 L1411.1 1510.4 L1412.6 1510.3 L1414.1 1510.2 L1415.6 1510.1 L1417.1 1510.0 L1418.6 1509.9 L1420.1 1509.9 L1421.6 1509.8 L1423.1 1509.7 L1424.6 1509.6 L1426.2 1509.5 L1427.7 1509.4 L1429.2 1509.3 L1430.7 1509.1 L1432.2 1509.0 L1433.7 1508.9 L1435.2 1508.8 L1436.7 1508.6 L1438.2 1508.5 L1439.7 1508.4 L1441.2 1508.2 L1442.7 1508.1 L1444.2 1507.9 L1445.7 1507.7 L1447.2 1507.5 L1448.7 1507.3 L1450.2 1507.1 L1451.8 1506.9 L1453.3 1506.7 L1454.8 1506.4 L1456.3 1506.2 L1457.8 1505.9 L1459.3 1505.6 L1460.8 1505.3 L1462.3 1505.0 L1463.8 1504.7 L1465.3 1504.3 L1466.8 1504.0 L1468.3 1503.6 L1469.8 1503.1 L1471.3 1502.7 L1472.8 1502.2 L1474.3 1501.7 L1475.9 1501.2 L1477.4 1500.6 L1478.9 1500.0 L1480.4 1499.4 L1481.9 1498.8 L1483.4 1498.1 L1484.9 1497.3 L1486.4 1496.5 L1487.9 1495.7 L1488.5 1489.7 L1489.1 1319.7 L1490.7 1543.3 L1492.2 1539.8 L1493.7 1536.8 L1495.3 1534.1 L1496.8 1531.7 L1498.3 1529.6 L1499.8 1527.8 L1501.3 1526.2 L1502.9 1524.7 L1504.4 1523.5 L1505.9 1522.3 L1507.4 1521.3 L1509.0 1520.5 L1510.5 1519.7 L1512.0 1519.0 L1513.5 1518.4 L1515.0 1517.9 L1516.6 1517.4 L1518.1 1517.0 L1519.6 1516.6 L1521.1 1516.3 L1522.6 1516.0 L1524.2 1515.8 L1525.7 1515.6 L1527.2 1515.4 L1528.7 1515.2 L1530.3 1515.1 L1531.8 1514.9 L1533.3 1514.8 L1563.8 1513.6 L1565.4 1516.9 L1566.9 1519.9 L1568.5 1522.5 L1570.0 1524.9 L1571.6 1527.1 L1573.1 1529.0 L1574.7 1530.7 L1576.2 1532.2 L1577.8 1533.6 L1579.3 1534.8 L1580.9 1535.9 L1582.4 1536.8 L1584.0 1537.7 L1585.5 1538.5 L1587.1 1539.2 L1588.6 1539.8 L1590.2 1540.4 L1591.7 1540.9 L1593.3 1541.3 L1594.8 1541.8 L1596.4 1542.1 L1597.9 1542.4 L1599.5 1542.7 L1601.0 1543.0 L1602.6 1543.2 L1604.1 1543.4 L1605.7 1543.6" fill="none" stroke="#000" stroke-width="2.2" stroke-linejoin="round"/>
<path d="M1655.0 1542.6 L1668.3 1542.6 L1668.8 1541.3 L1669.5 1539.5 L1670.3 1537.3 L1671.2 1535.0 L1672.2 1532.6 L1673.1 1530.2 L1674.0 1528.0 L1674.8 1526.0 L1675.7 1523.9 L1676.6 1521.9 L1677.4 1519.9 L1678.3 1517.9 L1679.2 1515.9 L1680.0 1514.0 L1681.0 1511.7 L1682.1 1509.2 L1683.2 1506.8 L1684.2 1504.6 L1685.0 1502.8 L1685.6 1501.4 L1685.6 1495.4 L1686.2 1316.7 L1687.8 1543.3 L1689.4 1535.6 L1690.9 1529.8 L1692.5 1525.4 L1694.0 1522.2 L1695.6 1519.6 L1697.1 1517.7 L1698.7 1516.1 L1700.2 1514.9 L1701.8 1513.8 L1703.4 1512.9 L1704.9 1512.1 L1706.5 1511.2 L1708.0 1510.3 L1709.6 1509.1 L1711.1 1507.5 L1712.7 1505.3 L1714.2 1502.2 L1715.8 1497.7 L1716.4 1491.7 L1717.0 1319.0 L1718.6 1543.3 L1720.1 1535.8 L1721.7 1530.2 L1723.2 1526.0 L1724.7 1522.8 L1726.3 1520.4 L1727.8 1518.5 L1729.3 1517.1 L1730.9 1516.0 L1732.4 1515.1 L1733.9 1514.3 L1735.5 1513.7 L1737.0 1513.2 L1738.5 1512.7 L1740.1 1512.2 L1741.6 1511.8 L1743.2 1511.4 L1744.7 1510.9 L1746.2 1510.3 L1747.8 1509.7 L1749.3 1509.0 L1750.8 1508.0 L1752.4 1506.8 L1753.9 1505.3 L1755.4 1503.4 L1757.0 1500.8 L1758.5 1497.6 L1759.1 1491.6 L1759.7 1320.0 L1761.3 1543.3 L1762.8 1535.8 L1764.3 1530.3 L1765.9 1526.1 L1767.4 1522.9 L1768.9 1520.5 L1770.4 1518.7 L1771.9 1517.3 L1773.4 1516.1 L1775.0 1515.2 L1776.5 1514.5 L1778.0 1513.9 L1779.5 1513.3 L1781.0 1512.9 L1782.6 1512.4 L1784.1 1512.0 L1785.6 1511.6 L1787.1 1511.2 L1788.6 1510.7 L1790.2 1510.2 L1791.7 1509.5 L1793.2 1508.8 L1794.7 1507.8 L1796.2 1506.6 L1797.7 1505.1 L1799.3 1503.2 L1800.8 1500.7 L1802.3 1497.6 L1802.9 1491.6 L1803.5 1320.0 L1805.1 1543.3 L1806.6 1535.8 L1808.2 1530.2 L1809.7 1526.0 L1811.2 1522.9 L1812.8 1520.5 L1814.3 1518.7 L1815.8 1517.3 L1817.4 1516.2 L1818.9 1515.3 L1820.4 1514.5 L1822.0 1513.9 L1823.5 1513.4 L1825.0 1513.0 L1826.5 1512.6 L1828.1 1512.2 L1829.6 1511.8 L1831.1 1511.4 L1832.7 1511.0 L1834.2 1510.5 L1835.7 1510.0 L1837.3 1509.3 L1838.8 1508.6 L1840.3 1507.6 L1841.9 1506.4 L1843.4 1504.9 L1844.9 1503.0 L1846.5 1500.6 L1848.0 1497.6 L1848.6 1491.6 L1849.2 1320.0 L1850.8 1543.3 L1852.3 1536.0 L1853.8 1530.5 L1855.3 1526.5 L1856.8 1523.4 L1858.3 1521.0 L1859.8 1519.3 L1861.3 1517.9 L1862.8 1516.8 L1864.3 1516.0 L1865.8 1515.3 L1867.3 1514.8 L1868.8 1514.3 L1870.3 1513.9 L1871.8 1513.6 L1873.3 1513.3 L1874.8 1513.0 L1876.3 1512.8 L1877.8 1512.5 L1879.3 1512.3 L1880.8 1512.0 L1882.3 1511.8 L1883.8 1511.5 L1885.3 1511.3 L1886.8 1511.0 L1888.3 1510.7 L1889.8 1510.4 L1891.3 1510.0 L1892.8 1509.5 L1894.3 1509.0 L1895.8 1508.5 L1897.3 1507.8 L1898.8 1507.0 L1900.3 1506.0 L1901.8 1504.8 L1903.3 1503.5 L1904.8 1501.8 L1906.3 1499.9 L1907.8 1497.6 L1908.4 1491.6 L1909.0 1320.0 L1910.6 1543.3 L1912.1 1535.9 L1913.6 1530.4 L1915.2 1526.3 L1916.7 1523.3 L1918.2 1521.0 L1919.7 1519.2 L1921.3 1517.9 L1922.8 1516.9 L1924.3 1516.0 L1925.8 1515.4 L1927.3 1514.9 L1928.9 1514.5 L1930.4 1514.1 L1931.9 1513.8 L1933.4 1513.5 L1935.0 1513.2 L1936.5 1513.0 L1938.0 1512.8 L1939.5 1512.6 L1941.0 1512.3 L1942.6 1512.1 L1944.1 1511.9 L1945.6 1511.7 L1947.1 1511.5 L1948.6 1511.2 L1950.2 1511.0 L1951.7 1510.7 L1953.2 1510.4 L1954.7 1510.0 L1956.3 1509.6 L1957.8 1509.2 L1959.3 1508.7 L1960.8 1508.1 L1962.3 1507.4 L1963.9 1506.5 L1965.4 1505.6 L1966.9 1504.5 L1968.4 1503.1 L1970.0 1501.6 L1971.5 1499.7 L1973.0 1497.6 L1973.6 1491.6 L1974.2 1320.5 L1975.8 1543.3 L1977.3 1536.0 L1978.8 1530.6 L1980.3 1526.5 L1981.8 1523.5 L1983.3 1521.2 L1984.8 1519.4 L1986.3 1518.1 L1987.8 1517.0 L1989.3 1516.2 L1990.8 1515.6 L1992.3 1515.1 L1993.9 1514.7 L1995.4 1514.3 L1996.9 1514.0 L1998.4 1513.7 L1999.9 1513.5 L2001.4 1513.3 L2002.9 1513.1 L2004.4 1512.9 L2005.9 1512.7 L2007.4 1512.5 L2008.9 1512.3 L2010.4 1512.1 L2011.9 1511.9 L2013.4 1511.7 L2014.9 1511.5 L2016.4 1511.3 L2017.9 1511.1 L2019.4 1510.8 L2020.9 1510.6 L2022.4 1510.3 L2023.9 1510.0 L2025.4 1509.6 L2027.0 1509.2 L2028.5 1508.7 L2030.0 1508.2 L2031.5 1507.6 L2033.0 1506.9 L2034.5 1506.1 L2036.0 1505.1 L2037.5 1504.0 L2039.0 1502.7 L2040.5 1501.3 L2042.0 1499.6 L2043.5 1497.6 L2044.1 1491.6 L2044.7 1320.5 L2046.3 1543.3 L2047.8 1535.9 L2049.3 1530.5 L2050.9 1526.4 L2052.4 1523.3 L2053.9 1521.0 L2055.4 1519.3 L2056.9 1517.9 L2058.5 1516.9 L2060.0 1516.1 L2061.5 1515.5 L2063.0 1514.9 L2064.5 1514.5 L2066.0 1514.1 L2067.6 1513.8 L2069.1 1513.6 L2070.6 1513.3 L2072.1 1513.1 L2073.6 1512.8 L2075.2 1512.6 L2076.7 1512.4 L2078.2 1512.2 L2079.7 1512.0 L2081.2 1511.8 L2082.8 1511.6 L2084.3 1511.4 L2085.8 1511.1 L2087.3 1510.9 L2088.8 1510.6 L2090.4 1510.3 L2091.9 1509.9 L2093.4 1509.5 L2094.9 1509.1 L2096.4 1508.5 L2097.9 1507.9 L2099.5 1507.2 L2101.0 1506.4 L2102.5 1505.5 L2104.0 1504.3 L2105.5 1503.0 L2107.1 1501.5 L2108.6 1499.7 L2110.1 1497.6 L2110.7 1491.6 L2111.3 1320.5 L2112.9 1543.3 L2114.4 1536.1 L2115.9 1530.7 L2117.4 1526.6 L2118.9 1523.6 L2120.4 1521.3 L2121.9 1519.6 L2123.4 1518.3 L2124.9 1517.3 L2126.4 1516.5 L2127.9 1515.9 L2129.4 1515.4 L2130.9 1515.0 L2132.4 1514.7 L2133.9 1514.4 L2135.4 1514.2 L2136.9 1514.0 L2138.4 1513.8 L2139.9 1513.6 L2141.4 1513.4 L2142.9 1513.3 L2144.4 1513.1 L2145.9 1513.0 L2147.4 1512.8 L2148.9 1512.7 L2150.4 1512.6 L2151.9 1512.4 L2153.4 1512.3 L2155.0 1512.1 L2156.5 1512.0 L2158.0 1511.8 L2159.5 1511.6 L2161.0 1511.5 L2162.5 1511.3 L2164.0 1511.1 L2165.5 1510.9 L2167.0 1510.7 L2168.5 1510.5 L2170.0 1510.3 L2171.5 1510.0 L2173.0 1509.7 L2174.5 1509.4 L2176.0 1509.0 L2177.5 1508.6 L2179.0 1508.2 L2180.5 1507.7 L2182.0 1507.1 L2183.5 1506.5 L2185.0 1505.8 L2186.5 1505.0 L2188.0 1504.1 L2189.5 1503.1 L2191.0 1502.0 L2192.5 1500.7 L2194.0 1499.2 L2195.5 1497.6 L2196.1 1491.6 L2196.7 1320.5 L2198.3 1543.3 L2198.9 1540.3 L2199.5 1538.1 L2200.1 1536.5 L2200.8 1535.4 L2201.4 1534.6 L2202.0 1534.0 L2203.5 1535.4 L2205.0 1536.7 L2206.6 1537.9 L2208.1 1538.9 L2209.6 1539.8 L2211.1 1540.6 L2212.7 1541.3 L2214.2 1542.0 L2215.7 1542.6 L2217.2 1543.1 L2218.8 1543.5 L2220.3 1543.9 L2221.8 1544.3 L2223.3 1544.6 L2224.8 1544.9 L2226.4 1545.2 L2227.9 1545.4 L2229.4 1545.6 L2230.9 1545.8 L2232.5 1545.9 L2234.0 1546.1 L2235.5 1546.2 L2237.0 1546.3 L2238.6 1546.4 L2240.1 1546.5 L2241.6 1546.6" fill="none" stroke="#000" stroke-width="2.2" stroke-linejoin="round"/>
<text x="31.07" y="1710.60" font-size="106.00" textLength="73.77" lengthAdjust="spacingAndGlyphs" fill="#000"><tspan font-weight="bold">B</tspan></text>
<line x1="242.2" y1="1677" x2="242.2" y2="2936.8" stroke="#000" stroke-width="4.8"/>
<line x1="240" y1="1772.9" x2="267" y2="1772.9" stroke="#000" stroke-width="4.8"/>
<text x="146.31" y="1790.70" font-size="64.00" fill="#000"><tspan font-weight="normal">20</tspan></text>
<line x1="240" y1="2005.2" x2="267" y2="2005.2" stroke="#000" stroke-width="4.8"/>
<text x="146.50" y="2023.00" font-size="64.00" fill="#000"><tspan font-weight="normal">15</tspan></text>
<line x1="240" y1="2237.5" x2="267" y2="2237.5" stroke="#000" stroke-width="4.8"/>
<text x="146.31" y="2255.30" font-size="64.00" fill="#000"><tspan font-weight="normal">10</tspan></text>
<line x1="240" y1="2469.8" x2="267" y2="2469.8" stroke="#000" stroke-width="4.8"/>
<text x="182.09" y="2487.60" font-size="64.00" fill="#000"><tspan font-weight="normal">5</tspan></text>
<line x1="240" y1="2702.1" x2="267" y2="2702.1" stroke="#000" stroke-width="4.8"/>
<text x="181.91" y="2719.90" font-size="64.00" fill="#000"><tspan font-weight="normal">0</tspan></text>
<line x1="240" y1="2934.4" x2="267" y2="2934.4" stroke="#000" stroke-width="4.8"/>
<text x="160.78" y="2952.20" font-size="64.00" fill="#000"><tspan font-weight="normal">-5</tspan></text>
<line x1="240" y1="1889.0" x2="256.4" y2="1889.0" stroke="#000" stroke-width="4.8"/>
<line x1="240" y1="2121.3" x2="256.4" y2="2121.3" stroke="#000" stroke-width="4.8"/>
<line x1="240" y1="2353.7" x2="256.4" y2="2353.7" stroke="#000" stroke-width="4.8"/>
<line x1="240" y1="2585.9" x2="256.4" y2="2585.9" stroke="#000" stroke-width="4.8"/>
<line x1="240" y1="2818.2" x2="256.4" y2="2818.2" stroke="#000" stroke-width="4.8"/>
<text transform="translate(111.80 2785.70) rotate(-90)" x="-5.54" y="0" font-size="82.00" textLength="860.70" lengthAdjust="spacingAndGlyphs" fill="#000"><tspan font-weight="bold">Number of AP elicited</tspan></text>
<text x="296.49" y="2918.00" font-size="58.40" textLength="186.67" lengthAdjust="spacingAndGlyphs" fill="#000"><tspan font-weight="bold">Step #1</tspan></text>
<text x="592.67" y="2918.00" font-size="58.40" textLength="185.75" lengthAdjust="spacingAndGlyphs" fill="#000"><tspan font-weight="bold">Syte #2</tspan></text>
<text x="881.95" y="2918.00" font-size="58.40" textLength="190.88" lengthAdjust="spacingAndGlyphs" fill="#000"><tspan font-weight="bold">Step #3</tspan></text>
<line x1="534.1" y1="1801.2" x2="534.1" y2="2928" stroke="#5a5a5a" stroke-width="3.7" stroke-dasharray="3.6 7.09"/>
<line x1="823.1" y1="1703" x2="823.1" y2="2928" stroke="#5a5a5a" stroke-width="3.7" stroke-dasharray="3.6 7.09"/>
<path d="M304.5 2609.2L327.0 2586.7L349.5 2609.2L327.0 2631.7Z" fill="#fff" stroke="#000" stroke-width="2.4"/>
<rect x="325.2" y="2607.7" width="3.6" height="3" fill="#000"/>
<path d="M297.5 2609.2L320.0 2586.7L342.5 2609.2L320.0 2631.7Z" fill="#fff" stroke="#000" stroke-width="2.4"/>
<rect x="318.2" y="2607.7" width="3.6" height="3" fill="#000"/>
<path d="M287.2 2609.2L309.7 2586.7L332.2 2609.2L309.7 2631.7Z" fill="#fff" stroke="#000" stroke-width="2.4"/>
<rect x="307.9" y="2607.7" width="3.6" height="3" fill="#000"/>
<path d="M273.7 2702.1L296.2 2679.6L318.7 2702.1L296.2 2724.6Z" fill="#fff" stroke="#000" stroke-width="2.4"/>
<rect x="294.4" y="2700.6" width="3.6" height="3" fill="#000"/>
<path d="M281.0 2655.6L303.5 2633.1L326.0 2655.6L303.5 2678.1Z" fill="#fff" stroke="#000" stroke-width="2.4"/>
<rect x="301.7" y="2654.1" width="3.6" height="3" fill="#000"/>
<path d="M300.5 2655.6L323.0 2633.1L345.5 2655.6L323.0 2678.1Z" fill="#fff" stroke="#000" stroke-width="2.4"/>
<rect x="321.2" y="2654.1" width="3.6" height="3" fill="#000"/>
<path d="M310.0 2655.6L332.5 2633.1L355.0 2655.6L332.5 2678.1Z" fill="#fff" stroke="#000" stroke-width="2.4"/>
<rect x="330.7" y="2654.1" width="3.6" height="3" fill="#000"/>
<path d="M314.1 2543.8 L314.3 2545.9 L314.5 2548.9 L314.8 2552.4 L315.2 2556.3 L315.5 2560.1 L315.9 2563.8 L316.2 2567.0 L316.6 2570.9 L316.9 2574.4 L317.3 2577.8 L317.8 2581.0 L318.4 2584.3 L319.2 2587.5 L320.2 2590.7 L321.3 2593.8 L322.4 2596.9 L323.5 2600.0 L324.6 2603.2 L325.8 2606.4 L327.0 2609.6 L328.2 2612.8 L329.3 2616.0 L330.4 2619.2 L331.5 2622.5 L332.6 2625.7 L333.5 2628.9 L334.3 2632.0 L335.0 2635.8 L335.4 2639.5 L335.7 2643.1 L335.8 2646.7 L335.8 2650.2 L335.7 2653.7 L335.5 2657.2 L335.0 2661.0 L334.5 2664.3 L334.0 2667.7 L333.3 2671.3 L332.4 2675.0 L331.4 2678.6 L330.3 2681.8 L329.0 2685.2 L327.5 2688.6 L326.0 2691.8 L324.7 2694.8 L323.5 2697.4 L321.7 2700.6 L320.3 2702.6 L319.1 2706.0 L318.6 2708.7 L318.2 2711.7 L317.9 2715.1 L317.6 2718.7 L317.3 2722.5 L317.0 2726.4 L316.7 2729.6 L316.4 2733.1 L316.1 2736.9 L315.8 2740.7 L315.5 2744.4 L315.2 2747.7 L315.0 2750.4 L314.8 2752.5" fill="none" stroke="#000" stroke-width="2.4" stroke-linejoin="round"/>
<line x1="362.3" y1="2655.6" x2="362.3" y2="2702.1" stroke="#000" stroke-width="6"/>
<rect x="340.5" y="2609.2" width="44.7" height="46.5" fill="none" stroke="#000" stroke-width="5.5"/>
<rect x="347.0" y="2631.5" width="31.5" height="31.5" fill="none" stroke="#000" stroke-width="2.4"/>
<path d="M342.3 2589.2L382.3 2629.2M342.3 2629.2L382.3 2589.2M343.8 2609.2L380.8 2609.2" stroke="#000" stroke-width="2.2" fill="none"/>
<path d="M342.3 2682.1L382.3 2722.1M342.3 2722.1L382.3 2682.1M343.8 2702.1L380.8 2702.1" stroke="#000" stroke-width="2.2" fill="none"/>
<path d="M401.3 2562.7L423.8 2540.2L446.3 2562.7L423.8 2585.2Z" fill="#fff" stroke="#ff0000" stroke-width="2.4"/>
<rect x="422.0" y="2561.2" width="3.6" height="3" fill="#ff0000"/>
<path d="M391.5 2609.2L414.0 2586.7L436.5 2609.2L414.0 2631.7Z" fill="#fff" stroke="#ff0000" stroke-width="2.4"/>
<rect x="412.2" y="2607.7" width="3.6" height="3" fill="#ff0000"/>
<path d="M377.8 2609.2L400.3 2586.7L422.8 2609.2L400.3 2631.7Z" fill="#fff" stroke="#ff0000" stroke-width="2.4"/>
<rect x="398.5" y="2607.7" width="3.6" height="3" fill="#ff0000"/>
<path d="M405.5 2655.6L428.0 2633.1L450.5 2655.6L428.0 2678.1Z" fill="#fff" stroke="#ff0000" stroke-width="2.4"/>
<rect x="426.2" y="2654.1" width="3.6" height="3" fill="#ff0000"/>
<path d="M389.5 2655.6L412.0 2633.1L434.5 2655.6L412.0 2678.1Z" fill="#fff" stroke="#ff0000" stroke-width="2.4"/>
<rect x="410.2" y="2654.1" width="3.6" height="3" fill="#ff0000"/>
<path d="M372.0 2655.6L394.5 2633.1L417.0 2655.6L394.5 2678.1Z" fill="#fff" stroke="#ff0000" stroke-width="2.4"/>
<rect x="392.7" y="2654.1" width="3.6" height="3" fill="#ff0000"/>
<path d="M394.5 2702.1L417.0 2679.6L439.5 2702.1L417.0 2724.6Z" fill="#fff" stroke="#ff0000" stroke-width="2.4"/>
<rect x="415.2" y="2700.6" width="3.6" height="3" fill="#ff0000"/>
<path d="M412.2 2488.0 L412.3 2489.9 L412.3 2492.4 L412.4 2495.3 L412.6 2498.6 L412.7 2502.2 L412.8 2505.8 L413.0 2509.4 L413.1 2512.9 L413.3 2516.2 L413.5 2519.3 L413.7 2522.5 L413.9 2525.6 L414.1 2528.7 L414.3 2531.9 L414.6 2534.9 L414.8 2538.0 L415.2 2540.9 L415.5 2543.8 L416.0 2547.4 L416.6 2550.9 L417.2 2554.4 L417.9 2557.7 L418.5 2560.9 L419.2 2564.0 L419.9 2567.0 L420.7 2570.2 L421.5 2573.3 L422.4 2576.1 L423.3 2578.8 L424.1 2581.6 L424.9 2584.3 L425.8 2587.6 L426.8 2590.7 L427.7 2593.9 L428.5 2597.0 L429.3 2600.3 L430.0 2603.7 L430.7 2607.3 L431.3 2610.9 L431.8 2614.4 L432.2 2617.7 L432.6 2621.5 L432.8 2625.1 L432.9 2628.6 L432.9 2632.2 L432.9 2635.7 L432.7 2639.0 L432.5 2642.6 L432.2 2646.7 L432.0 2649.5 L431.7 2652.6 L431.4 2655.9 L431.1 2659.2 L430.8 2662.5 L430.4 2665.6 L430.0 2668.4 L429.2 2672.5 L428.4 2676.1 L427.4 2679.4 L426.4 2682.9 L425.5 2685.8 L424.4 2688.6 L423.4 2691.4 L422.3 2694.3 L421.3 2697.4 L420.4 2700.7 L419.4 2704.1 L418.5 2707.6 L417.7 2711.2 L417.0 2714.8 L416.5 2717.5 L416.1 2719.8 L415.8 2722.2 L415.5 2725.0 L415.1 2728.7 L414.8 2733.6 L414.7 2735.9 L414.5 2738.6 L414.4 2741.7 L414.2 2744.9 L414.0 2748.4 L413.9 2752.0 L413.7 2755.7 L413.6 2759.4 L413.4 2763.1 L413.3 2766.7 L413.1 2770.1 L413.0 2773.3 L412.9 2776.3 L412.8 2778.9 L412.7 2781.1 L412.6 2782.9" fill="none" stroke="#ff0000" stroke-width="2.4" stroke-linejoin="round"/>
<line x1="460.0" y1="2562.7" x2="460.0" y2="2609.2" stroke="#ff0000" stroke-width="6"/>
<line x1="460.0" y1="2655.6" x2="460.0" y2="2702.1" stroke="#ff0000" stroke-width="6"/>
<rect x="437.9" y="2609.2" width="44.2" height="46.5" fill="none" stroke="#ff0000" stroke-width="5.5"/>
<rect x="443.0" y="2617.0" width="34.7" height="34.5" fill="none" stroke="#ff0000" stroke-width="2.4"/>
<path d="M440.0 2542.7L480.0 2582.7M440.0 2582.7L480.0 2542.7M441.5 2562.7L478.5 2562.7" stroke="#ff0000" stroke-width="2.2" fill="none"/>
<path d="M440.0 2682.1L480.0 2722.1M440.0 2722.1L480.0 2682.1M441.5 2702.1L478.5 2702.1" stroke="#ff0000" stroke-width="2.2" fill="none"/>
<path d="M578.4 2469.8L600.9 2447.3L623.4 2469.8L600.9 2492.3Z" fill="#fff" stroke="#0000ff" stroke-width="2.4"/>
<rect x="599.1" y="2468.3" width="3.6" height="3" fill="#0000ff"/>
<path d="M590.4 2516.3L612.9 2493.8L635.4 2516.3L612.9 2538.8Z" fill="#fff" stroke="#0000ff" stroke-width="2.4"/>
<rect x="611.1" y="2514.8" width="3.6" height="3" fill="#0000ff"/>
<path d="M578.3 2562.7L600.8 2540.2L623.3 2562.7L600.8 2585.2Z" fill="#fff" stroke="#0000ff" stroke-width="2.4"/>
<rect x="599.0" y="2561.2" width="3.6" height="3" fill="#0000ff"/>
<path d="M567.4 2562.7L589.9 2540.2L612.4 2562.7L589.9 2585.2Z" fill="#fff" stroke="#0000ff" stroke-width="2.4"/>
<rect x="588.1" y="2561.2" width="3.6" height="3" fill="#0000ff"/>
<path d="M601.5 2609.2L624.0 2586.7L646.5 2609.2L624.0 2631.7Z" fill="#fff" stroke="#0000ff" stroke-width="2.4"/>
<rect x="622.2" y="2607.7" width="3.6" height="3" fill="#0000ff"/>
<path d="M589.5 2609.2L612.0 2586.7L634.5 2609.2L612.0 2631.7Z" fill="#fff" stroke="#0000ff" stroke-width="2.4"/>
<rect x="610.2" y="2607.7" width="3.6" height="3" fill="#0000ff"/>
<path d="M584.4 2655.6L606.9 2633.1L629.4 2655.6L606.9 2678.1Z" fill="#fff" stroke="#0000ff" stroke-width="2.4"/>
<rect x="605.1" y="2654.1" width="3.6" height="3" fill="#0000ff"/>
<path d="M606.9 2365.0 L606.9 2366.9 L607.0 2369.2 L607.0 2371.9 L607.1 2375.0 L607.1 2378.3 L607.2 2381.8 L607.3 2385.5 L607.3 2389.3 L607.4 2393.1 L607.5 2396.8 L607.6 2400.4 L607.7 2403.8 L607.8 2407.0 L607.9 2409.8 L608.1 2413.8 L608.2 2417.4 L608.4 2420.7 L608.6 2423.9 L608.8 2427.0 L609.0 2430.0 L609.2 2433.1 L609.5 2436.3 L609.9 2439.7 L610.2 2442.7 L610.6 2445.7 L611.0 2448.8 L611.5 2452.0 L611.9 2455.2 L612.4 2458.4 L612.9 2461.5 L613.4 2464.7 L613.9 2467.7 L614.4 2470.7 L614.9 2473.6 L615.5 2477.0 L616.2 2480.3 L616.8 2483.5 L617.5 2486.6 L618.2 2489.7 L618.9 2492.7 L619.5 2495.7 L620.2 2498.6 L620.8 2501.5 L621.5 2504.7 L622.2 2507.8 L622.8 2510.8 L623.5 2513.8 L624.1 2516.7 L624.7 2519.6 L625.3 2522.5 L625.8 2525.5 L626.3 2528.5 L626.7 2531.6 L627.2 2534.6 L627.5 2537.7 L627.9 2540.7 L628.2 2543.7 L628.5 2546.6 L628.8 2549.4 L629.1 2552.9 L629.3 2556.3 L629.5 2559.6 L629.6 2562.8 L629.7 2566.0 L629.8 2569.3 L629.8 2572.7 L629.9 2576.1 L629.8 2579.6 L629.7 2582.9 L629.6 2586.2 L629.4 2589.3 L629.1 2592.6 L628.7 2595.6 L628.2 2598.5 L627.6 2601.6 L626.8 2605.2 L626.2 2607.8 L625.5 2610.6 L624.8 2613.5 L624.0 2616.6 L623.2 2619.7 L622.4 2622.9 L621.6 2626.1 L620.8 2629.2 L620.0 2632.4 L619.3 2635.6 L618.5 2638.9 L617.7 2642.2 L617.0 2645.5 L616.2 2648.7 L615.5 2651.9 L614.9 2655.1 L614.3 2658.0 L613.7 2660.6 L613.2 2663.1 L612.7 2665.6 L612.2 2668.2 L611.8 2671.2 L611.3 2674.8 L610.9 2679.0 L610.7 2681.4 L610.5 2684.0 L610.2 2686.8 L610.0 2689.8 L609.8 2692.9 L609.6 2696.1 L609.4 2699.4 L609.2 2702.7 L609.0 2706.1 L608.8 2709.5 L608.7 2712.9 L608.5 2716.2 L608.3 2719.5 L608.2 2722.8 L608.0 2725.9 L607.9 2728.9 L607.8 2732.3 L607.6 2735.9 L607.5 2739.5 L607.4 2743.1 L607.4 2746.8 L607.3 2750.4 L607.2 2753.9 L607.2 2757.3 L607.1 2760.5 L607.1 2763.6 L607.0 2766.3 L607.0 2768.8 L606.9 2770.9 L606.9 2772.7" fill="none" stroke="#0000ff" stroke-width="2.4" stroke-linejoin="round"/>
<line x1="655.9" y1="2469.8" x2="655.9" y2="2516.3" stroke="#0000ff" stroke-width="6"/>
<line x1="655.9" y1="2609.2" x2="655.9" y2="2655.6" stroke="#0000ff" stroke-width="6"/>
<rect x="633.3" y="2516.3" width="44.9" height="92.9" fill="none" stroke="#0000ff" stroke-width="5.5"/>
<line x1="633.3" y1="2562.7" x2="678.2" y2="2562.7" stroke="#0000ff" stroke-width="4.5"/>
<rect x="639.2" y="2553.4" width="32.1" height="31.9" fill="none" stroke="#0000ff" stroke-width="2.4"/>
<path d="M635.9 2449.8L675.9 2489.8M635.9 2489.8L675.9 2449.8M637.4 2469.8L674.4 2469.8" stroke="#0000ff" stroke-width="2.2" fill="none"/>
<path d="M635.9 2635.6L675.9 2675.6M635.9 2675.6L675.9 2635.6M637.4 2655.6L674.4 2655.6" stroke="#0000ff" stroke-width="2.2" fill="none"/>
<path d="M681.7 2237.5L704.2 2215.0L726.7 2237.5L704.2 2260.0Z" fill="#fff" stroke="#00ffff" stroke-width="2.4"/>
<rect x="702.4" y="2236.0" width="3.6" height="3" fill="#00ffff"/>
<path d="M667.0 2284.0L689.5 2261.5L712.0 2284.0L689.5 2306.5Z" fill="#fff" stroke="#00ffff" stroke-width="2.4"/>
<rect x="687.7" y="2282.5" width="3.6" height="3" fill="#00ffff"/>
<path d="M681.7 2330.4L704.2 2307.9L726.7 2330.4L704.2 2352.9Z" fill="#fff" stroke="#00ffff" stroke-width="2.4"/>
<rect x="702.4" y="2328.9" width="3.6" height="3" fill="#00ffff"/>
<path d="M697.6 2330.4L720.1 2307.9L742.6 2330.4L720.1 2352.9Z" fill="#fff" stroke="#00ffff" stroke-width="2.4"/>
<rect x="718.3" y="2328.9" width="3.6" height="3" fill="#00ffff"/>
<path d="M689.0 2376.9L711.5 2354.4L734.0 2376.9L711.5 2399.4Z" fill="#fff" stroke="#00ffff" stroke-width="2.4"/>
<rect x="709.7" y="2375.4" width="3.6" height="3" fill="#00ffff"/>
<path d="M674.4 2423.3L696.9 2400.8L719.4 2423.3L696.9 2445.8Z" fill="#fff" stroke="#00ffff" stroke-width="2.4"/>
<rect x="695.1" y="2421.8" width="3.6" height="3" fill="#00ffff"/>
<path d="M681.7 2469.8L704.2 2447.3L726.7 2469.8L704.2 2492.3Z" fill="#fff" stroke="#00ffff" stroke-width="2.4"/>
<rect x="702.4" y="2468.3" width="3.6" height="3" fill="#00ffff"/>
<path d="M704.2 2089.8 L704.2 2091.5 L704.3 2093.4 L704.3 2095.6 L704.3 2098.1 L704.3 2100.7 L704.4 2103.6 L704.4 2106.6 L704.5 2109.8 L704.5 2113.1 L704.5 2116.5 L704.6 2119.9 L704.6 2123.4 L704.7 2127.0 L704.8 2130.5 L704.8 2134.0 L704.9 2137.5 L705.0 2140.9 L705.1 2144.2 L705.2 2147.4 L705.3 2150.4 L705.4 2153.3 L705.6 2156.7 L705.7 2160.1 L705.9 2163.5 L706.1 2166.8 L706.3 2170.1 L706.5 2173.4 L706.7 2176.6 L706.9 2179.8 L707.1 2183.0 L707.4 2186.1 L707.6 2189.2 L707.8 2192.3 L708.1 2195.3 L708.3 2198.3 L708.6 2201.3 L708.8 2204.2 L709.1 2207.1 L709.4 2210.6 L709.7 2214.0 L710.0 2217.3 L710.4 2220.6 L710.7 2223.8 L711.1 2227.0 L711.4 2230.2 L711.8 2233.3 L712.1 2236.3 L712.5 2239.4 L712.8 2242.3 L713.2 2245.3 L713.6 2248.2 L714.0 2251.1 L714.5 2254.4 L714.9 2257.7 L715.4 2260.9 L715.9 2264.0 L716.5 2267.1 L717.0 2270.2 L717.5 2273.2 L718.0 2276.1 L718.5 2279.1 L719.1 2282.0 L719.6 2284.8 L720.1 2287.7 L720.7 2291.1 L721.4 2294.4 L722.0 2297.7 L722.7 2300.9 L723.3 2304.1 L723.9 2307.2 L724.5 2310.3 L725.1 2313.4 L725.7 2316.4 L726.2 2319.5 L726.7 2322.9 L727.3 2326.3 L727.7 2329.6 L728.2 2333.0 L728.6 2336.2 L729.0 2339.5 L729.4 2342.7 L729.7 2345.8 L729.9 2348.8 L730.1 2352.1 L730.2 2355.2 L730.3 2358.1 L730.4 2361.1 L730.3 2364.0 L730.2 2367.0 L730.1 2370.0 L729.9 2373.3 L729.7 2376.3 L729.4 2379.5 L729.0 2382.7 L728.6 2386.0 L728.2 2389.3 L727.7 2392.7 L727.3 2396.0 L726.7 2399.3 L726.2 2402.6 L725.6 2405.8 L725.0 2409.0 L724.4 2412.2 L723.7 2415.4 L723.0 2418.5 L722.3 2421.8 L721.6 2425.1 L720.8 2428.4 L720.1 2431.9 L719.5 2434.8 L718.8 2437.9 L718.1 2441.0 L717.4 2444.2 L716.7 2447.4 L716.0 2450.6 L715.3 2453.8 L714.7 2457.0 L714.0 2460.1 L713.4 2463.2 L712.8 2466.1 L712.1 2469.5 L711.5 2472.6 L710.9 2475.5 L710.3 2478.4 L709.8 2481.3 L709.3 2484.4 L708.8 2487.7 L708.3 2491.3 L707.9 2495.4 L707.7 2497.9 L707.5 2500.5 L707.3 2503.1 L707.1 2505.8 L706.9 2508.7 L706.7 2511.6 L706.6 2514.5 L706.4 2517.6 L706.3 2520.7 L706.1 2523.8 L706.0 2527.1 L705.9 2530.4 L705.8 2533.8 L705.6 2537.2 L705.5 2540.7 L705.4 2544.3 L705.3 2547.0 L705.2 2549.9 L705.2 2553.0 L705.1 2556.2 L705.0 2559.5 L704.9 2562.9 L704.9 2566.3 L704.8 2569.8 L704.8 2573.3 L704.7 2576.9 L704.6 2580.4 L704.6 2583.8 L704.5 2587.2 L704.5 2590.4 L704.4 2593.6 L704.4 2596.6 L704.4 2599.4 L704.3 2602.1 L704.3 2604.5 L704.3 2606.7 L704.2 2608.6 L704.2 2610.3" fill="none" stroke="#00ffff" stroke-width="2.4" stroke-linejoin="round"/>
<line x1="753.1" y1="2237.5" x2="753.1" y2="2284.0" stroke="#00ffff" stroke-width="6"/>
<line x1="753.1" y1="2423.3" x2="753.1" y2="2469.8" stroke="#00ffff" stroke-width="6"/>
<rect x="730.9" y="2284.0" width="44.4" height="139.4" fill="none" stroke="#00ffff" stroke-width="5.5"/>
<line x1="730.9" y1="2330.4" x2="775.3" y2="2330.4" stroke="#00ffff" stroke-width="4.5"/>
<rect x="736.0" y="2334.2" width="33.7" height="30.5" fill="none" stroke="#00ffff" stroke-width="2.4"/>
<path d="M733.1 2217.5L773.1 2257.5M733.1 2257.5L773.1 2217.5M734.6 2237.5L771.6 2237.5" stroke="#00ffff" stroke-width="2.2" fill="none"/>
<path d="M733.1 2449.8L773.1 2489.8M733.1 2489.8L773.1 2449.8M734.6 2469.8L771.6 2469.8" stroke="#00ffff" stroke-width="2.2" fill="none"/>
<text x="732.69" y="2166.33" font-size="93.68" textLength="44.72" lengthAdjust="spacingAndGlyphs" style="font-family:'DejaVu Sans',sans-serif;font-weight:bold" fill="#000">*</text>
<text x="732.69" y="2218.28" font-size="93.68" textLength="44.72" lengthAdjust="spacingAndGlyphs" style="font-family:'DejaVu Sans',sans-serif;font-weight:bold" fill="#000">*</text>
<path d="M876.3 2330.4L898.8 2307.9L921.3 2330.4L898.8 2352.9Z" fill="#fff" stroke="#ffff00" stroke-width="2.4"/>
<rect x="897.0" y="2328.9" width="3.6" height="3" fill="#ffff00"/>
<path d="M861.5 2376.9L884.0 2354.4L906.5 2376.9L884.0 2399.4Z" fill="#fff" stroke="#ffff00" stroke-width="2.4"/>
<rect x="882.2" y="2375.4" width="3.6" height="3" fill="#ffff00"/>
<path d="M876.3 2423.3L898.8 2400.8L921.3 2423.3L898.8 2445.8Z" fill="#fff" stroke="#ffff00" stroke-width="2.4"/>
<rect x="897.0" y="2421.8" width="3.6" height="3" fill="#ffff00"/>
<path d="M891.8 2423.3L914.3 2400.8L936.8 2423.3L914.3 2445.8Z" fill="#fff" stroke="#ffff00" stroke-width="2.4"/>
<rect x="912.5" y="2421.8" width="3.6" height="3" fill="#ffff00"/>
<path d="M876.3 2469.8L898.8 2447.3L921.3 2469.8L898.8 2492.3Z" fill="#fff" stroke="#ffff00" stroke-width="2.4"/>
<rect x="897.0" y="2468.3" width="3.6" height="3" fill="#ffff00"/>
<path d="M861.5 2516.3L884.0 2493.8L906.5 2516.3L884.0 2538.8Z" fill="#fff" stroke="#ffff00" stroke-width="2.4"/>
<rect x="882.2" y="2514.8" width="3.6" height="3" fill="#ffff00"/>
<path d="M891.8 2516.3L914.3 2493.8L936.8 2516.3L914.3 2538.8Z" fill="#fff" stroke="#ffff00" stroke-width="2.4"/>
<rect x="912.5" y="2514.8" width="3.6" height="3" fill="#ffff00"/>
<path d="M899.5 2210.0 L899.5 2211.8 L899.5 2213.9 L899.5 2216.4 L899.5 2219.2 L899.5 2222.3 L899.5 2225.6 L899.6 2229.0 L899.6 2232.5 L899.6 2236.1 L899.6 2239.8 L899.7 2243.4 L899.7 2246.9 L899.8 2250.3 L899.8 2253.5 L899.9 2256.5 L900.0 2259.8 L900.1 2263.0 L900.2 2266.2 L900.4 2269.4 L900.5 2272.5 L900.7 2275.5 L900.8 2278.6 L901.0 2281.6 L901.2 2284.6 L901.4 2287.6 L901.6 2290.5 L901.9 2293.5 L902.1 2296.5 L902.4 2299.7 L902.7 2302.9 L903.0 2306.1 L903.4 2309.2 L903.7 2312.4 L904.1 2315.5 L904.5 2318.6 L904.9 2321.7 L905.3 2324.8 L905.7 2327.9 L906.1 2331.1 L906.6 2334.2 L907.1 2337.4 L907.6 2340.6 L908.1 2343.8 L908.7 2347.1 L909.3 2350.4 L909.9 2353.6 L910.5 2356.8 L911.0 2360.0 L911.6 2363.1 L912.2 2366.1 L912.7 2369.1 L913.2 2371.9 L913.8 2375.5 L914.4 2378.9 L915.0 2382.2 L915.6 2385.4 L916.2 2388.5 L916.7 2391.6 L917.2 2394.6 L917.7 2397.6 L918.1 2400.7 L918.6 2404.1 L919.0 2407.5 L919.5 2410.8 L919.9 2414.0 L920.2 2417.3 L920.5 2420.6 L920.8 2424.0 L921.0 2427.4 L921.1 2430.5 L921.3 2433.7 L921.3 2436.9 L921.4 2440.2 L921.4 2443.4 L921.3 2446.7 L921.3 2449.9 L921.1 2453.1 L921.0 2456.2 L920.8 2459.6 L920.5 2463.0 L920.2 2466.3 L919.9 2469.6 L919.5 2472.9 L919.0 2476.2 L918.6 2479.5 L918.1 2482.8 L917.6 2485.8 L917.2 2488.7 L916.6 2491.7 L916.1 2494.6 L915.5 2497.6 L915.0 2500.5 L914.4 2503.5 L913.8 2506.4 L913.2 2509.4 L912.6 2512.3 L912.0 2515.1 L911.4 2517.9 L910.7 2520.7 L910.1 2523.6 L909.5 2526.5 L908.9 2529.5 L908.3 2532.7 L907.7 2536.0 L907.3 2538.8 L906.8 2541.7 L906.4 2544.6 L906.0 2547.6 L905.5 2550.7 L905.1 2553.8 L904.7 2557.1 L904.4 2560.5 L904.0 2564.0 L903.6 2567.7 L903.3 2571.5 L903.1 2574.1 L902.9 2576.9 L902.7 2579.7 L902.5 2582.7 L902.3 2585.8 L902.1 2588.9 L901.9 2592.0 L901.7 2595.2 L901.5 2598.4 L901.4 2601.7 L901.2 2604.8 L901.1 2608.0 L900.9 2611.1 L900.8 2614.1 L900.6 2617.1 L900.5 2619.9 L900.4 2622.6 L900.3 2626.4 L900.1 2630.2 L900.0 2634.1 L899.9 2637.9 L899.8 2641.6 L899.8 2645.2 L899.7 2648.6 L899.7 2651.8 L899.6 2654.7 L899.6 2657.3 L899.5 2659.6 L899.5 2661.4" fill="none" stroke="#ffff00" stroke-width="2.4" stroke-linejoin="round"/>
<line x1="948.3" y1="2330.4" x2="948.3" y2="2376.9" stroke="#ffff00" stroke-width="6"/>
<rect x="924.9" y="2376.9" width="46.5" height="139.4" fill="none" stroke="#ffff00" stroke-width="5.5"/>
<line x1="924.9" y1="2423.3" x2="971.4" y2="2423.3" stroke="#ffff00" stroke-width="4.5"/>
<rect x="930.5" y="2425.6" width="33.3" height="27.3" fill="none" stroke="#ffff00" stroke-width="2.4"/>
<path d="M928.3 2310.4L968.3 2350.4M928.3 2350.4L968.3 2310.4M929.8 2330.4L966.8 2330.4" stroke="#ffff00" stroke-width="2.2" fill="none"/>
<path d="M928.3 2496.3L968.3 2536.3M928.3 2536.3L968.3 2496.3M929.8 2516.3L966.8 2516.3" stroke="#ffff00" stroke-width="2.2" fill="none"/>
<path d="M974.4 1912.3L996.9 1889.8L1019.4 1912.3L996.9 1934.8Z" fill="#fff" stroke="#808000" stroke-width="2.4"/>
<rect x="995.1" y="1910.8" width="3.6" height="3" fill="#808000"/>
<path d="M985.9 2005.2L1008.4 1982.7L1030.9 2005.2L1008.4 2027.7Z" fill="#fff" stroke="#808000" stroke-width="2.4"/>
<rect x="1006.6" y="2003.7" width="3.6" height="3" fill="#808000"/>
<path d="M962.5 2051.7L985.0 2029.2L1007.5 2051.7L985.0 2074.2Z" fill="#fff" stroke="#808000" stroke-width="2.4"/>
<rect x="983.2" y="2050.2" width="3.6" height="3" fill="#808000"/>
<path d="M962.5 2098.1L985.0 2075.6L1007.5 2098.1L985.0 2120.6Z" fill="#fff" stroke="#808000" stroke-width="2.4"/>
<rect x="983.2" y="2096.6" width="3.6" height="3" fill="#808000"/>
<path d="M985.9 2144.6L1008.4 2122.1L1030.9 2144.6L1008.4 2167.1Z" fill="#fff" stroke="#808000" stroke-width="2.4"/>
<rect x="1006.6" y="2143.1" width="3.6" height="3" fill="#808000"/>
<path d="M974.4 2237.5L996.9 2215.0L1019.4 2237.5L996.9 2260.0Z" fill="#fff" stroke="#808000" stroke-width="2.4"/>
<rect x="995.1" y="2236.0" width="3.6" height="3" fill="#808000"/>
<path d="M974.4 2284.0L996.9 2261.5L1019.4 2284.0L996.9 2306.5Z" fill="#fff" stroke="#808000" stroke-width="2.4"/>
<rect x="995.1" y="2282.5" width="3.6" height="3" fill="#808000"/>
<path d="M1000.6 1865.6 L1000.7 1867.3 L1000.9 1869.4 L1001.0 1871.7 L1001.2 1874.3 L1001.4 1877.2 L1001.6 1880.2 L1001.8 1883.5 L1002.0 1886.9 L1002.3 1890.4 L1002.5 1894.0 L1002.8 1897.7 L1003.0 1901.4 L1003.3 1905.1 L1003.5 1908.8 L1003.8 1912.5 L1004.0 1915.3 L1004.2 1918.2 L1004.4 1921.2 L1004.6 1924.3 L1004.8 1927.4 L1005.1 1930.6 L1005.3 1933.8 L1005.5 1937.1 L1005.8 1940.4 L1006.0 1943.7 L1006.2 1947.1 L1006.5 1950.4 L1006.7 1953.7 L1007.0 1956.9 L1007.2 1960.1 L1007.5 1963.2 L1007.7 1966.3 L1007.9 1969.3 L1008.2 1972.2 L1008.4 1975.0 L1008.7 1978.6 L1009.0 1982.0 L1009.3 1985.4 L1009.7 1988.6 L1010.0 1991.8 L1010.3 1994.9 L1010.6 1997.9 L1011.0 2000.9 L1011.3 2003.9 L1011.6 2006.8 L1011.9 2009.8 L1012.2 2012.8 L1012.5 2015.8 L1012.8 2018.8 L1013.1 2021.9 L1013.4 2025.0 L1013.7 2028.2 L1013.9 2031.3 L1014.2 2034.4 L1014.5 2037.5 L1014.8 2040.7 L1015.0 2043.8 L1015.3 2046.9 L1015.6 2050.0 L1015.8 2053.2 L1016.0 2056.3 L1016.3 2059.4 L1016.5 2062.6 L1016.7 2065.7 L1016.9 2068.8 L1017.1 2071.9 L1017.3 2075.0 L1017.4 2078.2 L1017.6 2081.3 L1017.8 2084.4 L1017.9 2087.5 L1018.1 2090.6 L1018.2 2093.8 L1018.3 2096.9 L1018.5 2100.0 L1018.6 2103.1 L1018.6 2106.2 L1018.7 2109.4 L1018.8 2112.5 L1018.8 2115.6 L1018.8 2118.7 L1018.8 2121.7 L1018.8 2124.7 L1018.8 2127.7 L1018.8 2130.6 L1018.8 2133.6 L1018.7 2136.6 L1018.7 2139.6 L1018.6 2142.6 L1018.5 2145.7 L1018.4 2148.9 L1018.3 2152.1 L1018.1 2155.5 L1018.0 2158.9 L1017.8 2162.5 L1017.7 2165.3 L1017.5 2168.2 L1017.3 2171.2 L1017.1 2174.3 L1016.9 2177.4 L1016.7 2180.6 L1016.5 2183.8 L1016.3 2187.1 L1016.0 2190.4 L1015.8 2193.8 L1015.5 2197.1 L1015.3 2200.4 L1015.0 2203.7 L1014.7 2206.9 L1014.5 2210.1 L1014.2 2213.2 L1013.9 2216.3 L1013.6 2219.3 L1013.4 2222.2 L1013.1 2225.0 L1012.7 2228.6 L1012.3 2232.0 L1011.9 2235.4 L1011.5 2238.6 L1011.1 2241.8 L1010.7 2244.9 L1010.2 2247.9 L1009.8 2250.9 L1009.3 2253.9 L1008.9 2256.8 L1008.5 2259.8 L1008.1 2262.8 L1007.7 2265.8 L1007.3 2268.8 L1006.9 2271.9 L1006.5 2275.0 L1006.2 2277.9 L1005.8 2280.8 L1005.5 2283.6 L1005.2 2286.4 L1004.8 2289.2 L1004.5 2292.0 L1004.2 2294.8 L1003.9 2297.8 L1003.6 2300.9 L1003.3 2304.1 L1003.0 2307.4 L1002.7 2311.0 L1002.5 2314.8 L1002.2 2318.8 L1002.1 2321.2 L1001.9 2323.7 L1001.8 2326.1 L1001.6 2328.6 L1001.5 2331.2 L1001.4 2333.7 L1001.2 2336.3 L1001.1 2339.0 L1001.0 2341.7 L1000.9 2344.4 L1000.7 2347.2 L1000.6 2350.1 L1000.5 2353.0 L1000.4 2355.9 L1000.3 2358.9 L1000.2 2362.0 L1000.0 2365.2 L999.9 2368.4 L999.8 2371.7 L999.7 2375.0 L999.6 2378.5 L999.5 2382.0 L999.4 2385.6 L999.3 2389.3 L999.2 2393.0 L999.1 2396.9 L999.0 2399.4 L999.0 2402.1 L998.9 2404.9 L998.8 2407.8 L998.8 2410.8 L998.7 2413.8 L998.6 2417.0 L998.6 2420.2 L998.5 2423.6 L998.5 2426.9 L998.4 2430.4 L998.3 2433.8 L998.3 2437.4 L998.2 2440.9 L998.1 2444.5 L998.1 2448.1 L998.0 2451.7 L998.0 2455.3 L997.9 2458.9 L997.8 2462.5 L997.8 2466.1 L997.7 2469.6 L997.7 2473.1 L997.6 2476.6 L997.6 2480.0 L997.5 2483.4 L997.5 2486.7 L997.4 2489.9 L997.4 2493.0 L997.3 2496.1 L997.3 2499.1 L997.2 2501.9 L997.2 2504.7 L997.1 2507.3 L997.1 2509.8 L997.1 2512.2 L997.0 2514.5 L997.0 2516.6 L997.0 2518.5 L996.9 2520.3 L996.9 2521.9" fill="none" stroke="#808000" stroke-width="2.4" stroke-linejoin="round"/>
<line x1="1044.4" y1="1912.3" x2="1044.4" y2="2005.2" stroke="#808000" stroke-width="6"/>
<line x1="1044.4" y1="2237.5" x2="1044.4" y2="2284.0" stroke="#808000" stroke-width="6"/>
<rect x="1023.6" y="2005.2" width="43.1" height="232.3" fill="none" stroke="#808000" stroke-width="5.5"/>
<line x1="1023.6" y1="2098.1" x2="1066.7" y2="2098.1" stroke="#808000" stroke-width="4.5"/>
<rect x="1029.4" y="2089.0" width="32.2" height="30.4" fill="none" stroke="#808000" stroke-width="2.4"/>
<path d="M1024.4 1892.3L1064.4 1932.3M1024.4 1932.3L1064.4 1892.3M1025.9 1912.3L1062.9 1912.3" stroke="#808000" stroke-width="2.2" fill="none"/>
<path d="M1024.4 2264.0L1064.4 2304.0M1024.4 2304.0L1064.4 2264.0M1025.9 2284.0L1062.9 2284.0" stroke="#808000" stroke-width="2.2" fill="none"/>
<text x="1022.43" y="1845.65" font-size="90.88" textLength="43.53" lengthAdjust="spacingAndGlyphs" style="font-family:'DejaVu Sans',sans-serif;font-weight:bold" fill="#000">*</text>
<text x="1022.43" y="1893.45" font-size="90.88" textLength="43.53" lengthAdjust="spacingAndGlyphs" style="font-family:'DejaVu Sans',sans-serif;font-weight:bold" fill="#000">*</text>
<text x="1187.92" y="1711.00" font-size="106.00" textLength="71.80" lengthAdjust="spacingAndGlyphs" fill="#000"><tspan font-weight="bold">C</tspan></text>
<line x1="1401.4" y1="1677.5" x2="1401.4" y2="2938.2" stroke="#000" stroke-width="4.9"/>
<line x1="1399" y1="1680" x2="1414.8" y2="1680" stroke="#000" stroke-width="4.9"/>
<line x1="1399" y1="2935.8" x2="1414.8" y2="2935.8" stroke="#000" stroke-width="4.9"/>
<line x1="1400" y1="1836.9" x2="1426.5" y2="1836.9" stroke="#000" stroke-width="4.9"/>
<text x="1304.51" y="1854.68" font-size="64.00" fill="#000"><tspan font-weight="normal">60</tspan></text>
<line x1="1400" y1="2150.2" x2="1426.5" y2="2150.2" stroke="#000" stroke-width="4.9"/>
<text x="1304.51" y="2168.02" font-size="64.00" fill="#000"><tspan font-weight="normal">40</tspan></text>
<line x1="1400" y1="2463.6" x2="1426.5" y2="2463.6" stroke="#000" stroke-width="4.9"/>
<text x="1304.51" y="2481.36" font-size="64.00" fill="#000"><tspan font-weight="normal">20</tspan></text>
<line x1="1400" y1="2776.9" x2="1426.5" y2="2776.9" stroke="#000" stroke-width="4.9"/>
<text x="1340.11" y="2794.70" font-size="64.00" fill="#000"><tspan font-weight="normal">0</tspan></text>
<line x1="1400" y1="1993.6" x2="1415" y2="1993.6" stroke="#000" stroke-width="4.9"/>
<line x1="1400" y1="2306.9" x2="1415" y2="2306.9" stroke="#000" stroke-width="4.9"/>
<line x1="1400" y1="2620.2" x2="1415" y2="2620.2" stroke="#000" stroke-width="4.9"/>
<text transform="translate(1250.40 2848.30) rotate(-90)" x="-2.38" y="0" font-size="82.00" textLength="979.42" lengthAdjust="spacingAndGlyphs" fill="#000"><tspan font-weight="bold">Step current applied</tspan><tspan font-weight="normal"> (pA)</tspan></text>
<text x="1454.58" y="2918.50" font-size="58.40" textLength="187.69" lengthAdjust="spacingAndGlyphs" fill="#000"><tspan font-weight="bold">Step #1</tspan></text>
<text x="1749.36" y="2918.50" font-size="58.40" textLength="187.38" lengthAdjust="spacingAndGlyphs" fill="#000"><tspan font-weight="bold">Syte #2</tspan></text>
<text x="2038.44" y="2918.50" font-size="58.40" textLength="192.41" lengthAdjust="spacingAndGlyphs" fill="#000"><tspan font-weight="bold">Step #3</tspan></text>
<line x1="1693" y1="1703.5" x2="1693" y2="2927" stroke="#5a5a5a" stroke-width="3.7" stroke-dasharray="3.6 7.09"/>
<line x1="1985.1" y1="1697" x2="1985.1" y2="2922" stroke="#5a5a5a" stroke-width="3.7" stroke-dasharray="3.6 7.09"/>
<path d="M1457.5 2385.2L1480.0 2362.7L1502.5 2385.2L1480.0 2407.7Z" fill="#fff" stroke="#000" stroke-width="2.4"/>
<rect x="1478.2" y="2383.7" width="3.6" height="3" fill="#000"/>
<path d="M1467.5 2463.6L1490.0 2441.1L1512.5 2463.6L1490.0 2486.1Z" fill="#fff" stroke="#000" stroke-width="2.4"/>
<rect x="1488.2" y="2462.1" width="3.6" height="3" fill="#000"/>
<path d="M1450.8 2463.6L1473.3 2441.1L1495.8 2463.6L1473.3 2486.1Z" fill="#fff" stroke="#000" stroke-width="2.4"/>
<rect x="1471.5" y="2462.1" width="3.6" height="3" fill="#000"/>
<path d="M1431.8 2463.6L1454.3 2441.1L1476.8 2463.6L1454.3 2486.1Z" fill="#fff" stroke="#000" stroke-width="2.4"/>
<rect x="1452.5" y="2462.1" width="3.6" height="3" fill="#000"/>
<path d="M1459.9 2541.9L1482.4 2519.4L1504.9 2541.9L1482.4 2564.4Z" fill="#fff" stroke="#000" stroke-width="2.4"/>
<rect x="1480.6" y="2540.4" width="3.6" height="3" fill="#000"/>
<path d="M1445.5 2541.9L1468.0 2519.4L1490.5 2541.9L1468.0 2564.4Z" fill="#fff" stroke="#000" stroke-width="2.4"/>
<rect x="1466.2" y="2540.4" width="3.6" height="3" fill="#000"/>
<path d="M1439.5 2541.9L1462.0 2519.4L1484.5 2541.9L1462.0 2564.4Z" fill="#fff" stroke="#000" stroke-width="2.4"/>
<rect x="1460.2" y="2540.4" width="3.6" height="3" fill="#000"/>
<path d="M1473.3 2292.8 L1473.4 2294.6 L1473.4 2296.8 L1473.5 2299.4 L1473.6 2302.3 L1473.7 2305.5 L1473.9 2309.0 L1474.0 2312.5 L1474.1 2316.2 L1474.2 2319.9 L1474.4 2323.6 L1474.5 2327.2 L1474.6 2330.7 L1474.8 2333.9 L1474.9 2336.9 L1475.1 2339.7 L1475.2 2342.0 L1475.5 2346.6 L1475.9 2349.6 L1476.2 2351.7 L1476.6 2353.8 L1477.0 2356.7 L1477.6 2361.2 L1477.8 2363.4 L1478.1 2366.0 L1478.4 2368.7 L1478.7 2371.6 L1479.0 2374.7 L1479.3 2377.9 L1479.6 2381.2 L1480.0 2384.6 L1480.3 2388.0 L1480.7 2391.3 L1481.0 2394.7 L1481.4 2397.9 L1481.8 2401.0 L1482.2 2403.9 L1482.5 2406.7 L1482.9 2409.2 L1483.6 2413.2 L1484.3 2416.9 L1485.1 2420.2 L1485.8 2423.3 L1486.6 2426.3 L1487.4 2429.1 L1488.1 2432.0 L1488.9 2434.9 L1489.6 2438.0 L1490.3 2441.2 L1491.0 2444.4 L1491.7 2447.5 L1492.4 2450.7 L1493.1 2453.8 L1493.8 2457.0 L1494.4 2460.2 L1495.0 2463.5 L1495.6 2466.8 L1496.1 2469.9 L1496.6 2473.0 L1497.0 2476.2 L1497.5 2479.5 L1497.9 2482.7 L1498.3 2485.9 L1498.6 2489.1 L1498.9 2492.2 L1499.1 2495.2 L1499.2 2498.0 L1499.2 2501.3 L1499.1 2504.5 L1498.9 2507.5 L1498.6 2510.4 L1498.2 2513.3 L1497.8 2516.2 L1497.3 2519.0 L1496.8 2522.0 L1496.2 2525.0 L1495.6 2528.0 L1494.9 2531.0 L1494.1 2534.0 L1493.3 2537.0 L1492.5 2540.0 L1491.6 2543.0 L1490.8 2546.0 L1489.9 2549.0 L1489.0 2552.0 L1488.1 2555.0 L1487.1 2558.0 L1486.2 2561.0 L1485.3 2564.0 L1484.4 2567.0 L1483.6 2570.0 L1482.9 2572.9 L1482.2 2575.7 L1481.5 2578.5 L1480.9 2581.2 L1480.4 2584.1 L1479.8 2587.2 L1479.3 2590.4 L1478.8 2594.0 L1478.5 2596.5 L1478.2 2599.2 L1477.9 2601.8 L1477.6 2604.6 L1477.3 2607.5 L1477.1 2610.4 L1476.8 2613.5 L1476.6 2616.6 L1476.3 2619.8 L1476.1 2623.1 L1475.9 2626.5 L1475.7 2630.0 L1475.6 2632.8 L1475.4 2635.9 L1475.3 2639.1 L1475.1 2642.5 L1475.0 2646.1 L1474.9 2649.6 L1474.8 2653.3 L1474.7 2656.8 L1474.6 2660.4 L1474.5 2663.8 L1474.4 2667.0 L1474.3 2670.0 L1474.2 2672.8 L1474.1 2675.3 L1474.1 2677.5 L1474.0 2679.2" fill="none" stroke="#000" stroke-width="2.4" stroke-linejoin="round"/>
<line x1="1522.0" y1="2385.2" x2="1522.0" y2="2463.6" stroke="#000" stroke-width="6"/>
<rect x="1500.5" y="2463.6" width="43.7" height="78.3" fill="none" stroke="#000" stroke-width="5.5"/>
<rect x="1506.4" y="2470.4" width="31.2" height="31.2" fill="none" stroke="#000" stroke-width="2.4"/>
<path d="M1502.0 2365.2L1542.0 2405.2M1502.0 2405.2L1542.0 2365.2M1503.5 2385.2L1540.5 2385.2" stroke="#000" stroke-width="2.2" fill="none"/>
<path d="M1502.0 2521.9L1542.0 2561.9M1502.0 2561.9L1542.0 2521.9M1503.5 2541.9L1540.5 2541.9" stroke="#000" stroke-width="2.2" fill="none"/>
<path d="M1567.9 2541.9L1590.4 2519.4L1612.9 2541.9L1590.4 2564.4Z" fill="#fff" stroke="#ff0000" stroke-width="2.4"/>
<rect x="1588.6" y="2540.4" width="3.6" height="3" fill="#ff0000"/>
<path d="M1560.5 2541.9L1583.0 2519.4L1605.5 2541.9L1583.0 2564.4Z" fill="#fff" stroke="#ff0000" stroke-width="2.4"/>
<rect x="1581.2" y="2540.4" width="3.6" height="3" fill="#ff0000"/>
<path d="M1553.5 2620.2L1576.0 2597.7L1598.5 2620.2L1576.0 2642.7Z" fill="#fff" stroke="#ff0000" stroke-width="2.4"/>
<rect x="1574.2" y="2618.7" width="3.6" height="3" fill="#ff0000"/>
<path d="M1547.5 2620.2L1570.0 2597.7L1592.5 2620.2L1570.0 2642.7Z" fill="#fff" stroke="#ff0000" stroke-width="2.4"/>
<rect x="1568.2" y="2618.7" width="3.6" height="3" fill="#ff0000"/>
<path d="M1541.5 2620.2L1564.0 2597.7L1586.5 2620.2L1564.0 2642.7Z" fill="#fff" stroke="#ff0000" stroke-width="2.4"/>
<rect x="1562.2" y="2618.7" width="3.6" height="3" fill="#ff0000"/>
<path d="M1535.5 2620.2L1558.0 2597.7L1580.5 2620.2L1558.0 2642.7Z" fill="#fff" stroke="#ff0000" stroke-width="2.4"/>
<rect x="1556.2" y="2618.7" width="3.6" height="3" fill="#ff0000"/>
<path d="M1529.0 2620.2L1551.5 2597.7L1574.0 2620.2L1551.5 2642.7Z" fill="#fff" stroke="#ff0000" stroke-width="2.4"/>
<rect x="1549.7" y="2618.7" width="3.6" height="3" fill="#ff0000"/>
<path d="M1548.7 2698.6L1571.2 2676.1L1593.7 2698.6L1571.2 2721.1Z" fill="#fff" stroke="#ff0000" stroke-width="2.4"/>
<rect x="1569.4" y="2697.1" width="3.6" height="3" fill="#ff0000"/>
<path d="M1571.7 2434.4 L1571.7 2436.3 L1571.6 2438.7 L1571.6 2441.7 L1571.5 2445.0 L1571.5 2448.5 L1571.5 2452.0 L1571.5 2455.6 L1571.6 2458.9 L1571.7 2462.0 L1571.9 2465.2 L1572.2 2468.3 L1572.6 2471.3 L1573.0 2474.2 L1573.4 2477.2 L1573.8 2480.1 L1574.3 2483.0 L1574.8 2486.0 L1575.3 2489.0 L1575.9 2492.0 L1576.4 2495.0 L1577.0 2498.0 L1577.6 2501.0 L1578.3 2504.0 L1578.9 2507.0 L1579.6 2510.0 L1580.3 2513.0 L1581.0 2515.9 L1581.8 2518.8 L1582.6 2521.7 L1583.3 2524.6 L1584.1 2527.7 L1584.9 2530.8 L1585.6 2534.0 L1586.2 2537.0 L1586.9 2540.0 L1587.5 2543.2 L1588.1 2546.3 L1588.7 2549.6 L1589.3 2552.8 L1589.9 2556.1 L1590.4 2559.5 L1590.9 2562.8 L1591.3 2565.8 L1591.7 2568.9 L1592.1 2572.1 L1592.4 2575.2 L1592.8 2578.4 L1593.1 2581.6 L1593.4 2584.7 L1593.6 2587.9 L1593.8 2591.0 L1594.0 2594.0 L1594.2 2597.3 L1594.3 2600.6 L1594.4 2603.9 L1594.5 2607.1 L1594.5 2610.3 L1594.5 2613.5 L1594.4 2616.6 L1594.2 2619.7 L1594.0 2622.8 L1593.6 2626.2 L1593.2 2629.6 L1592.6 2633.0 L1592.0 2636.3 L1591.3 2639.6 L1590.6 2642.8 L1589.9 2646.0 L1589.2 2649.2 L1588.5 2652.3 L1587.8 2655.4 L1587.0 2658.4 L1586.3 2661.3 L1585.5 2664.3 L1584.7 2667.3 L1584.0 2670.2 L1583.2 2673.2 L1582.4 2676.2 L1581.6 2679.1 L1580.8 2682.0 L1580.1 2684.9 L1579.3 2687.8 L1578.5 2690.9 L1577.8 2694.0 L1577.2 2697.2 L1576.7 2700.0 L1576.2 2702.7 L1575.8 2705.3 L1575.3 2708.0 L1575.0 2710.9 L1574.6 2714.0 L1574.2 2717.5 L1573.9 2721.5 L1573.6 2726.0 L1573.5 2728.5 L1573.3 2731.2 L1573.2 2734.2 L1573.1 2737.4 L1572.9 2740.8 L1572.8 2744.4 L1572.7 2748.0 L1572.6 2751.7 L1572.5 2755.4 L1572.4 2759.0 L1572.3 2762.7 L1572.2 2766.2 L1572.1 2769.6 L1572.0 2772.8 L1571.9 2775.8 L1571.9 2778.5 L1571.8 2780.9 L1571.8 2783.1 L1571.7 2784.8" fill="none" stroke="#000" stroke-width="2.4" stroke-linejoin="round"/>
<line x1="1619.2" y1="2620.2" x2="1619.2" y2="2698.6" stroke="#ff0000" stroke-width="6"/>
<rect x="1598.9" y="2541.9" width="43.0" height="78.3" fill="none" stroke="#ff0000" stroke-width="5.5"/>
<rect x="1603.6" y="2592.8" width="32.4" height="25.2" fill="none" stroke="#ff0000" stroke-width="2.4"/>
<path d="M1599.2 2521.9L1639.2 2561.9M1599.2 2561.9L1639.2 2521.9M1600.7 2541.9L1637.7 2541.9" stroke="#ff0000" stroke-width="2.2" fill="none"/>
<path d="M1599.2 2678.6L1639.2 2718.6M1599.2 2718.6L1639.2 2678.6M1600.7 2698.6L1637.7 2698.6" stroke="#ff0000" stroke-width="2.2" fill="none"/>
<text x="1603.21" y="2467.58" font-size="80.54" textLength="38.88" lengthAdjust="spacingAndGlyphs" style="font-family:'DejaVu Sans',sans-serif;font-weight:bold" fill="#000">*</text>
<text x="1603.21" y="2511.38" font-size="80.54" textLength="38.88" lengthAdjust="spacingAndGlyphs" style="font-family:'DejaVu Sans',sans-serif;font-weight:bold" fill="#000">*</text>
<path d="M1741.5 2150.2L1764.0 2127.7L1786.5 2150.2L1764.0 2172.7Z" fill="#fff" stroke="#0000ff" stroke-width="2.4"/>
<rect x="1762.2" y="2148.7" width="3.6" height="3" fill="#0000ff"/>
<path d="M1737.5 2150.2L1760.0 2127.7L1782.5 2150.2L1760.0 2172.7Z" fill="#fff" stroke="#0000ff" stroke-width="2.4"/>
<rect x="1758.2" y="2148.7" width="3.6" height="3" fill="#0000ff"/>
<path d="M1723.8 2150.2L1746.3 2127.7L1768.8 2150.2L1746.3 2172.7Z" fill="#fff" stroke="#0000ff" stroke-width="2.4"/>
<rect x="1744.5" y="2148.7" width="3.6" height="3" fill="#0000ff"/>
<path d="M1762.5 2228.6L1785.0 2206.1L1807.5 2228.6L1785.0 2251.1Z" fill="#fff" stroke="#0000ff" stroke-width="2.4"/>
<rect x="1783.2" y="2227.1" width="3.6" height="3" fill="#0000ff"/>
<path d="M1758.5 2228.6L1781.0 2206.1L1803.5 2228.6L1781.0 2251.1Z" fill="#fff" stroke="#0000ff" stroke-width="2.4"/>
<rect x="1779.2" y="2227.1" width="3.6" height="3" fill="#0000ff"/>
<path d="M1754.5 2228.6L1777.0 2206.1L1799.5 2228.6L1777.0 2251.1Z" fill="#fff" stroke="#0000ff" stroke-width="2.4"/>
<rect x="1775.2" y="2227.1" width="3.6" height="3" fill="#0000ff"/>
<path d="M1750.5 2228.6L1773.0 2206.1L1795.5 2228.6L1773.0 2251.1Z" fill="#fff" stroke="#0000ff" stroke-width="2.4"/>
<rect x="1771.2" y="2227.1" width="3.6" height="3" fill="#0000ff"/>
<path d="M1730.8 2306.9L1753.3 2284.4L1775.8 2306.9L1753.3 2329.4Z" fill="#fff" stroke="#0000ff" stroke-width="2.4"/>
<rect x="1751.5" y="2305.4" width="3.6" height="3" fill="#0000ff"/>
<path d="M1765.8 2013.1 L1765.8 2014.9 L1765.9 2017.2 L1765.9 2019.9 L1765.9 2022.9 L1766.0 2026.2 L1766.1 2029.7 L1766.1 2033.3 L1766.2 2037.0 L1766.3 2040.6 L1766.4 2044.1 L1766.5 2047.5 L1766.6 2050.5 L1766.7 2053.6 L1766.8 2056.8 L1766.9 2059.9 L1767.1 2063.1 L1767.2 2066.3 L1767.4 2069.5 L1767.5 2072.7 L1767.7 2075.8 L1768.0 2079.0 L1768.2 2082.0 L1768.5 2085.0 L1768.9 2088.2 L1769.2 2091.4 L1769.7 2094.5 L1770.1 2097.6 L1770.6 2100.7 L1771.1 2103.7 L1771.6 2106.7 L1772.1 2109.6 L1772.7 2112.6 L1773.2 2115.4 L1773.8 2118.3 L1774.5 2121.4 L1775.2 2124.4 L1775.9 2127.3 L1776.7 2130.2 L1777.4 2133.0 L1778.2 2135.9 L1779.0 2138.7 L1779.7 2141.6 L1780.4 2144.5 L1781.0 2147.5 L1781.6 2150.6 L1782.2 2153.7 L1782.7 2156.9 L1783.2 2160.1 L1783.7 2163.3 L1784.2 2166.5 L1784.6 2169.7 L1785.1 2172.8 L1785.4 2175.8 L1785.8 2178.8 L1786.2 2182.0 L1786.5 2185.1 L1786.8 2188.2 L1787.1 2191.2 L1787.3 2194.2 L1787.5 2197.1 L1787.7 2200.0 L1787.8 2202.9 L1787.9 2205.8 L1787.9 2209.0 L1787.9 2212.1 L1787.8 2215.2 L1787.7 2218.3 L1787.5 2221.4 L1787.3 2224.4 L1787.0 2227.6 L1786.7 2230.8 L1786.3 2233.7 L1785.9 2236.7 L1785.5 2239.7 L1785.0 2242.7 L1784.4 2245.7 L1783.9 2248.8 L1783.3 2251.8 L1782.7 2254.9 L1782.1 2257.9 L1781.5 2260.9 L1780.8 2263.9 L1780.0 2266.9 L1779.3 2269.8 L1778.5 2272.8 L1777.8 2275.8 L1777.1 2278.8 L1776.4 2281.9 L1775.8 2285.0 L1775.2 2288.1 L1774.7 2291.3 L1774.2 2294.5 L1773.8 2297.7 L1773.3 2301.0 L1772.9 2304.2 L1772.5 2307.5 L1772.1 2310.9 L1771.7 2314.2 L1771.3 2317.1 L1771.0 2320.0 L1770.6 2322.8 L1770.3 2325.5 L1770.0 2328.4 L1769.7 2331.3 L1769.3 2334.4 L1769.0 2337.8 L1768.8 2341.4 L1768.5 2345.4 L1768.3 2348.0 L1768.2 2350.9 L1768.0 2354.0 L1767.9 2357.3 L1767.8 2360.8 L1767.6 2364.3 L1767.5 2368.0 L1767.4 2371.6 L1767.2 2375.2 L1767.1 2378.7 L1767.0 2382.1 L1766.9 2385.4 L1766.8 2388.4 L1766.7 2391.2 L1766.6 2393.6 L1766.6 2395.8 L1766.5 2397.5" fill="none" stroke="#000" stroke-width="2.4" stroke-linejoin="round"/>
<line x1="1815.8" y1="2228.6" x2="1815.8" y2="2306.9" stroke="#0000ff" stroke-width="6"/>
<rect x="1792.1" y="2150.2" width="45.2" height="78.3" fill="none" stroke="#0000ff" stroke-width="5.5"/>
<rect x="1797.7" y="2189.2" width="34.0" height="32.3" fill="none" stroke="#0000ff" stroke-width="2.4"/>
<path d="M1795.8 2130.2L1835.8 2170.2M1795.8 2170.2L1835.8 2130.2M1797.3 2150.2L1834.3 2150.2" stroke="#0000ff" stroke-width="2.2" fill="none"/>
<path d="M1795.8 2286.9L1835.8 2326.9M1795.8 2326.9L1835.8 2286.9M1797.3 2306.9L1834.3 2306.9" stroke="#0000ff" stroke-width="2.2" fill="none"/>
<path d="M1851.2 2306.9L1873.7 2284.4L1896.2 2306.9L1873.7 2329.4Z" fill="#fff" stroke="#00ffff" stroke-width="2.4"/>
<rect x="1871.9" y="2305.4" width="3.6" height="3" fill="#00ffff"/>
<path d="M1839.5 2306.9L1862.0 2284.4L1884.5 2306.9L1862.0 2329.4Z" fill="#fff" stroke="#00ffff" stroke-width="2.4"/>
<rect x="1860.2" y="2305.4" width="3.6" height="3" fill="#00ffff"/>
<path d="M1829.2 2306.9L1851.7 2284.4L1874.2 2306.9L1851.7 2329.4Z" fill="#fff" stroke="#00ffff" stroke-width="2.4"/>
<rect x="1849.9" y="2305.4" width="3.6" height="3" fill="#00ffff"/>
<path d="M1832.0 2385.2L1854.5 2362.7L1877.0 2385.2L1854.5 2407.7Z" fill="#fff" stroke="#00ffff" stroke-width="2.4"/>
<rect x="1852.7" y="2383.7" width="3.6" height="3" fill="#00ffff"/>
<path d="M1823.7 2385.2L1846.2 2362.7L1868.7 2385.2L1846.2 2407.7Z" fill="#fff" stroke="#00ffff" stroke-width="2.4"/>
<rect x="1844.4" y="2383.7" width="3.6" height="3" fill="#00ffff"/>
<path d="M1846.6 2463.6L1869.1 2441.1L1891.6 2463.6L1869.1 2486.1Z" fill="#fff" stroke="#00ffff" stroke-width="2.4"/>
<rect x="1867.3" y="2462.1" width="3.6" height="3" fill="#00ffff"/>
<path d="M1858.2 2541.9L1880.7 2519.4L1903.2 2541.9L1880.7 2564.4Z" fill="#fff" stroke="#00ffff" stroke-width="2.4"/>
<rect x="1878.9" y="2540.4" width="3.6" height="3" fill="#00ffff"/>
<path d="M1863.6 2092.4 L1863.6 2094.1 L1863.6 2096.2 L1863.6 2098.6 L1863.7 2101.2 L1863.7 2104.1 L1863.7 2107.1 L1863.7 2110.4 L1863.7 2113.8 L1863.7 2117.2 L1863.8 2120.8 L1863.8 2124.5 L1863.8 2128.1 L1863.9 2131.8 L1863.9 2135.4 L1864.0 2139.0 L1864.0 2142.5 L1864.1 2145.8 L1864.2 2149.0 L1864.3 2152.1 L1864.4 2155.2 L1864.5 2158.3 L1864.6 2161.4 L1864.7 2164.4 L1864.8 2167.5 L1864.9 2170.6 L1865.0 2173.6 L1865.2 2176.7 L1865.3 2179.7 L1865.4 2182.8 L1865.6 2185.9 L1865.8 2188.9 L1866.0 2192.0 L1866.2 2195.0 L1866.4 2198.1 L1866.6 2201.1 L1866.9 2204.2 L1867.2 2207.3 L1867.5 2210.4 L1867.8 2213.6 L1868.2 2216.7 L1868.6 2219.9 L1868.9 2223.1 L1869.3 2226.3 L1869.8 2229.5 L1870.2 2232.7 L1870.6 2235.8 L1871.0 2238.9 L1871.4 2242.0 L1871.9 2245.1 L1872.3 2248.1 L1872.7 2251.0 L1873.1 2253.9 L1873.4 2256.7 L1873.8 2259.4 L1874.3 2263.0 L1874.7 2266.5 L1875.2 2269.9 L1875.6 2273.2 L1876.1 2276.3 L1876.5 2279.4 L1876.9 2282.5 L1877.3 2285.5 L1877.7 2288.5 L1878.1 2291.5 L1878.5 2294.6 L1878.9 2297.7 L1879.3 2300.8 L1879.7 2304.0 L1880.1 2307.2 L1880.5 2310.4 L1880.9 2313.5 L1881.3 2316.7 L1881.7 2319.9 L1882.1 2323.1 L1882.4 2326.3 L1882.8 2329.5 L1883.1 2332.6 L1883.5 2335.8 L1883.7 2339.0 L1884.0 2342.2 L1884.2 2345.4 L1884.5 2348.6 L1884.7 2351.8 L1884.9 2354.9 L1885.0 2358.1 L1885.2 2361.3 L1885.3 2364.5 L1885.4 2367.7 L1885.5 2370.9 L1885.6 2374.0 L1885.7 2377.2 L1885.7 2380.4 L1885.7 2383.6 L1885.7 2386.8 L1885.7 2389.9 L1885.6 2393.0 L1885.6 2396.2 L1885.5 2399.3 L1885.4 2402.4 L1885.3 2405.5 L1885.1 2408.7 L1885.0 2411.9 L1884.8 2415.1 L1884.5 2418.3 L1884.3 2421.6 L1884.0 2425.0 L1883.7 2428.0 L1883.4 2431.0 L1883.1 2434.2 L1882.7 2437.3 L1882.4 2440.5 L1882.0 2443.8 L1881.5 2447.0 L1881.1 2450.2 L1880.7 2453.5 L1880.2 2456.7 L1879.8 2459.8 L1879.3 2463.0 L1878.9 2466.0 L1878.4 2469.0 L1878.0 2471.9 L1877.5 2475.1 L1877.0 2478.3 L1876.4 2481.4 L1875.9 2484.4 L1875.3 2487.4 L1874.7 2490.3 L1874.2 2493.2 L1873.6 2496.1 L1873.1 2499.0 L1872.6 2501.8 L1872.0 2504.7 L1871.6 2507.6 L1871.1 2510.6 L1870.6 2513.8 L1870.2 2516.8 L1869.7 2519.9 L1869.3 2522.9 L1868.9 2525.8 L1868.5 2528.9 L1868.1 2531.9 L1867.7 2535.1 L1867.3 2538.4 L1867.0 2541.8 L1866.7 2545.4 L1866.4 2549.2 L1866.2 2551.8 L1866.0 2554.5 L1865.9 2557.2 L1865.7 2559.9 L1865.6 2562.7 L1865.4 2565.5 L1865.3 2568.4 L1865.2 2571.3 L1865.0 2574.3 L1864.9 2577.3 L1864.8 2580.5 L1864.7 2583.6 L1864.6 2586.9 L1864.5 2590.2 L1864.4 2593.6 L1864.4 2597.1 L1864.3 2600.7 L1864.2 2604.4 L1864.1 2607.1 L1864.1 2609.9 L1864.1 2612.9 L1864.0 2616.0 L1864.0 2619.2 L1863.9 2622.6 L1863.9 2626.0 L1863.9 2629.5 L1863.9 2633.0 L1863.8 2636.5 L1863.8 2640.1 L1863.8 2643.7 L1863.8 2647.2 L1863.7 2650.7 L1863.7 2654.1 L1863.7 2657.5 L1863.7 2660.8 L1863.7 2663.9 L1863.7 2666.9 L1863.7 2669.8 L1863.7 2672.6 L1863.6 2675.1 L1863.6 2677.4 L1863.6 2679.6 L1863.6 2681.5 L1863.6 2683.1" fill="none" stroke="#000" stroke-width="2.4" stroke-linejoin="round"/>
<line x1="1912.5" y1="2463.6" x2="1912.5" y2="2541.9" stroke="#00ffff" stroke-width="6"/>
<rect x="1891.7" y="2306.9" width="42.9" height="156.7" fill="none" stroke="#00ffff" stroke-width="5.5"/>
<line x1="1891.7" y1="2385.2" x2="1934.6" y2="2385.2" stroke="#00ffff" stroke-width="4.5"/>
<rect x="1895.9" y="2368.4" width="31.7" height="31.8" fill="none" stroke="#00ffff" stroke-width="2.4"/>
<path d="M1892.5 2286.9L1932.5 2326.9M1892.5 2326.9L1932.5 2286.9M1894.0 2306.9L1931.0 2306.9" stroke="#00ffff" stroke-width="2.2" fill="none"/>
<path d="M1892.5 2521.9L1932.5 2561.9M1892.5 2561.9L1932.5 2521.9M1894.0 2541.9L1931.0 2541.9" stroke="#00ffff" stroke-width="2.2" fill="none"/>
<text x="1895.41" y="2239.73" font-size="85.06" textLength="38.88" lengthAdjust="spacingAndGlyphs" style="font-family:'DejaVu Sans',sans-serif;font-weight:bold" fill="#000">*</text>
<text x="1895.41" y="2283.73" font-size="85.06" textLength="38.88" lengthAdjust="spacingAndGlyphs" style="font-family:'DejaVu Sans',sans-serif;font-weight:bold" fill="#000">*</text>
<path d="M2034.6 1836.9L2057.1 1814.4L2079.6 1836.9L2057.1 1859.4Z" fill="#fff" stroke="#ffff00" stroke-width="2.4"/>
<rect x="2055.3" y="1835.4" width="3.6" height="3" fill="#ffff00"/>
<path d="M2016.9 1836.9L2039.4 1814.4L2061.9 1836.9L2039.4 1859.4Z" fill="#fff" stroke="#ffff00" stroke-width="2.4"/>
<rect x="2037.6" y="1835.4" width="3.6" height="3" fill="#ffff00"/>
<path d="M2027.4 1915.2L2049.9 1892.7L2072.4 1915.2L2049.9 1937.7Z" fill="#fff" stroke="#ffff00" stroke-width="2.4"/>
<rect x="2048.1" y="1913.7" width="3.6" height="3" fill="#ffff00"/>
<path d="M2045.4 1915.2L2067.9 1892.7L2090.4 1915.2L2067.9 1937.7Z" fill="#fff" stroke="#ffff00" stroke-width="2.4"/>
<rect x="2066.1" y="1913.7" width="3.6" height="3" fill="#ffff00"/>
<path d="M2053.9 1993.6L2076.4 1971.1L2098.9 1993.6L2076.4 2016.1Z" fill="#fff" stroke="#ffff00" stroke-width="2.4"/>
<rect x="2074.6" y="1992.1" width="3.6" height="3" fill="#ffff00"/>
<path d="M2040.3 2071.9L2062.8 2049.4L2085.3 2071.9L2062.8 2094.4Z" fill="#fff" stroke="#ffff00" stroke-width="2.4"/>
<rect x="2061.0" y="2070.4" width="3.6" height="3" fill="#ffff00"/>
<path d="M2031.7 2071.9L2054.2 2049.4L2076.7 2071.9L2054.2 2094.4Z" fill="#fff" stroke="#ffff00" stroke-width="2.4"/>
<rect x="2052.4" y="2070.4" width="3.6" height="3" fill="#ffff00"/>
<path d="M2058.6 1680.2 L2058.6 1681.9 L2058.7 1683.9 L2058.7 1686.2 L2058.8 1688.8 L2058.8 1691.6 L2058.9 1694.6 L2059.0 1697.8 L2059.0 1701.1 L2059.1 1704.5 L2059.2 1708.0 L2059.3 1711.5 L2059.4 1715.0 L2059.4 1718.4 L2059.6 1721.8 L2059.7 1725.1 L2059.8 1728.3 L2059.9 1731.3 L2060.0 1734.6 L2060.2 1737.9 L2060.4 1741.2 L2060.5 1744.6 L2060.7 1747.9 L2060.9 1751.2 L2061.1 1754.5 L2061.3 1757.7 L2061.5 1760.9 L2061.7 1764.1 L2061.9 1767.2 L2062.2 1770.3 L2062.4 1773.3 L2062.6 1776.2 L2062.9 1779.0 L2063.2 1782.4 L2063.6 1785.5 L2063.9 1788.6 L2064.3 1791.5 L2064.7 1794.3 L2065.1 1797.1 L2065.5 1799.8 L2065.9 1802.6 L2066.3 1805.5 L2066.8 1808.4 L2067.2 1811.5 L2067.6 1814.8 L2067.9 1817.6 L2068.3 1820.4 L2068.6 1823.4 L2069.0 1826.4 L2069.4 1829.5 L2069.8 1832.7 L2070.1 1835.9 L2070.5 1839.0 L2070.9 1842.2 L2071.2 1845.3 L2071.6 1848.4 L2072.0 1851.5 L2072.3 1854.4 L2072.7 1857.3 L2073.0 1860.0 L2073.4 1863.6 L2073.9 1867.1 L2074.3 1870.4 L2074.8 1873.7 L2075.2 1876.9 L2075.6 1880.0 L2076.0 1883.1 L2076.4 1886.1 L2076.8 1889.1 L2077.2 1892.0 L2077.5 1895.0 L2077.9 1898.2 L2078.2 1901.5 L2078.5 1904.7 L2078.8 1907.8 L2079.1 1910.9 L2079.4 1914.0 L2079.6 1916.9 L2079.9 1919.7 L2080.0 1922.4 L2080.2 1925.0 L2080.4 1928.8 L2080.5 1932.0 L2080.5 1935.0 L2080.5 1938.0 L2080.4 1941.2 L2080.3 1945.0 L2080.2 1947.6 L2080.1 1950.3 L2080.0 1953.1 L2079.8 1956.0 L2079.6 1959.1 L2079.4 1962.2 L2079.2 1965.3 L2079.0 1968.5 L2078.8 1971.8 L2078.5 1975.0 L2078.3 1978.0 L2078.0 1981.0 L2077.7 1984.0 L2077.4 1987.1 L2077.1 1990.3 L2076.8 1993.5 L2076.5 1996.7 L2076.1 2000.0 L2075.8 2003.3 L2075.4 2006.6 L2075.0 2010.0 L2074.6 2012.9 L2074.3 2015.9 L2073.9 2018.9 L2073.4 2021.9 L2073.0 2025.0 L2072.6 2028.1 L2072.1 2031.3 L2071.7 2034.4 L2071.2 2037.5 L2070.8 2040.7 L2070.3 2043.8 L2069.9 2046.9 L2069.5 2050.0 L2069.1 2053.0 L2068.7 2056.1 L2068.3 2059.0 L2067.9 2062.0 L2067.5 2064.9 L2067.1 2067.9 L2066.7 2070.9 L2066.3 2073.9 L2065.9 2077.0 L2065.5 2080.1 L2065.2 2083.3 L2064.8 2086.6 L2064.5 2090.0 L2064.2 2092.8 L2064.0 2095.7 L2063.7 2098.6 L2063.5 2101.5 L2063.2 2104.5 L2063.0 2107.5 L2062.8 2110.6 L2062.5 2113.7 L2062.3 2116.8 L2062.1 2120.0 L2061.9 2123.2 L2061.7 2126.5 L2061.5 2129.8 L2061.3 2133.1 L2061.2 2136.5 L2061.0 2140.0 L2060.9 2142.8 L2060.8 2145.6 L2060.6 2148.5 L2060.5 2151.4 L2060.4 2154.4 L2060.3 2157.3 L2060.2 2160.3 L2060.1 2163.3 L2060.1 2166.4 L2060.0 2169.5 L2059.9 2172.6 L2059.8 2175.7 L2059.8 2178.9 L2059.7 2182.0 L2059.6 2185.2 L2059.6 2188.5 L2059.5 2191.7 L2059.4 2195.0 L2059.4 2198.3 L2059.3 2201.6 L2059.2 2204.6 L2059.2 2207.7 L2059.1 2210.9 L2059.1 2214.3 L2059.1 2217.8 L2059.0 2221.3 L2059.0 2224.9 L2058.9 2228.5 L2058.9 2232.1 L2058.8 2235.7 L2058.8 2239.3 L2058.8 2242.9 L2058.7 2246.3 L2058.7 2249.7 L2058.7 2253.0 L2058.7 2256.1 L2058.6 2259.1 L2058.6 2262.0 L2058.6 2264.6 L2058.6 2267.0 L2058.5 2269.3 L2058.5 2271.2 L2058.5 2272.9" fill="none" stroke="#000" stroke-width="2.4" stroke-linejoin="round"/>
<rect x="2084.0" y="1836.9" width="45.3" height="235.0" fill="none" stroke="#ffff00" stroke-width="5.5"/>
<line x1="2084.0" y1="1915.2" x2="2129.3" y2="1915.2" stroke="#ffff00" stroke-width="4.5"/>
<rect x="2089.8" y="1932.2" width="33.4" height="32.2" fill="none" stroke="#ffff00" stroke-width="2.4"/>
<path d="M2087.8 1816.9L2127.8 1856.9M2087.8 1856.9L2127.8 1816.9M2089.3 1836.9L2126.3 1836.9" stroke="#ffff00" stroke-width="2.2" fill="none"/>
<path d="M2087.8 2051.9L2127.8 2091.9M2087.8 2091.9L2127.8 2051.9M2089.3 2071.9L2126.3 2071.9" stroke="#ffff00" stroke-width="2.2" fill="none"/>
<path d="M2132.9 1993.6L2155.4 1971.1L2177.9 1993.6L2155.4 2016.1Z" fill="#fff" stroke="#808000" stroke-width="2.4"/>
<rect x="2153.6" y="1992.1" width="3.6" height="3" fill="#808000"/>
<path d="M2125.8 2071.9L2148.3 2049.4L2170.8 2071.9L2148.3 2094.4Z" fill="#fff" stroke="#808000" stroke-width="2.4"/>
<rect x="2146.5" y="2070.4" width="3.6" height="3" fill="#808000"/>
<path d="M2114.0 2071.9L2136.5 2049.4L2159.0 2071.9L2136.5 2094.4Z" fill="#fff" stroke="#808000" stroke-width="2.4"/>
<rect x="2134.7" y="2070.4" width="3.6" height="3" fill="#808000"/>
<path d="M2151.7 2150.2L2174.2 2127.7L2196.7 2150.2L2174.2 2172.7Z" fill="#fff" stroke="#808000" stroke-width="2.4"/>
<rect x="2172.4" y="2148.7" width="3.6" height="3" fill="#808000"/>
<path d="M2142.3 2150.2L2164.8 2127.7L2187.3 2150.2L2164.8 2172.7Z" fill="#fff" stroke="#808000" stroke-width="2.4"/>
<rect x="2163.0" y="2148.7" width="3.6" height="3" fill="#808000"/>
<path d="M2132.9 2306.9L2155.4 2284.4L2177.9 2306.9L2155.4 2329.4Z" fill="#fff" stroke="#808000" stroke-width="2.4"/>
<rect x="2153.6" y="2305.4" width="3.6" height="3" fill="#808000"/>
<path d="M2132.9 2385.2L2155.4 2362.7L2177.9 2385.2L2155.4 2407.7Z" fill="#fff" stroke="#808000" stroke-width="2.4"/>
<rect x="2153.6" y="2383.7" width="3.6" height="3" fill="#808000"/>
<path d="M2155.7 1708.8 L2155.7 1710.4 L2155.7 1712.2 L2155.7 1714.3 L2155.7 1716.5 L2155.7 1718.9 L2155.7 1721.4 L2155.7 1724.1 L2155.7 1727.0 L2155.7 1729.9 L2155.8 1733.0 L2155.8 1736.2 L2155.8 1739.5 L2155.8 1742.8 L2155.8 1746.2 L2155.8 1749.7 L2155.8 1753.2 L2155.8 1756.7 L2155.9 1760.3 L2155.9 1763.8 L2155.9 1767.4 L2155.9 1770.9 L2156.0 1774.4 L2156.0 1777.8 L2156.0 1780.5 L2156.0 1783.3 L2156.1 1786.1 L2156.1 1789.0 L2156.1 1791.8 L2156.1 1794.8 L2156.1 1797.7 L2156.1 1800.7 L2156.2 1803.7 L2156.2 1806.7 L2156.2 1809.8 L2156.2 1812.8 L2156.2 1815.9 L2156.2 1819.0 L2156.3 1822.1 L2156.3 1825.3 L2156.3 1828.4 L2156.4 1831.5 L2156.4 1834.7 L2156.5 1837.8 L2156.5 1840.9 L2156.6 1844.1 L2156.7 1847.2 L2156.8 1850.3 L2156.8 1853.4 L2156.9 1856.5 L2157.0 1859.6 L2157.2 1862.7 L2157.3 1865.7 L2157.4 1868.7 L2157.6 1871.8 L2157.8 1874.9 L2157.9 1878.0 L2158.1 1881.1 L2158.3 1884.2 L2158.5 1887.4 L2158.7 1890.5 L2158.9 1893.7 L2159.1 1896.8 L2159.4 1900.0 L2159.6 1903.1 L2159.8 1906.3 L2160.1 1909.4 L2160.3 1912.5 L2160.6 1915.6 L2160.8 1918.7 L2161.1 1921.8 L2161.3 1924.8 L2161.6 1927.9 L2161.8 1930.9 L2162.1 1933.8 L2162.4 1936.8 L2162.6 1939.7 L2162.9 1942.5 L2163.1 1945.3 L2163.4 1948.1 L2163.6 1950.8 L2163.9 1953.5 L2164.2 1956.9 L2164.6 1960.3 L2164.9 1963.6 L2165.3 1966.8 L2165.7 1970.0 L2166.0 1973.1 L2166.4 1976.1 L2166.8 1979.1 L2167.2 1982.0 L2167.5 1984.9 L2167.9 1987.8 L2168.3 1990.7 L2168.7 1993.5 L2169.1 1996.4 L2169.4 1999.2 L2169.8 2002.0 L2170.2 2004.9 L2170.5 2007.7 L2170.8 2010.6 L2171.2 2013.5 L2171.5 2016.4 L2171.8 2019.4 L2172.1 2022.4 L2172.4 2025.5 L2172.7 2028.6 L2173.0 2031.7 L2173.3 2034.8 L2173.5 2038.0 L2173.8 2041.1 L2174.1 2044.3 L2174.4 2047.4 L2174.6 2050.6 L2174.9 2053.7 L2175.1 2056.8 L2175.3 2059.9 L2175.6 2063.0 L2175.8 2066.0 L2176.0 2068.9 L2176.2 2071.8 L2176.4 2074.7 L2176.6 2077.4 L2176.8 2080.1 L2176.9 2082.8 L2177.1 2085.3 L2177.3 2089.1 L2177.5 2092.7 L2177.7 2096.0 L2177.8 2099.2 L2177.9 2102.3 L2178.0 2105.3 L2178.1 2108.2 L2178.1 2111.1 L2178.2 2113.9 L2178.2 2116.8 L2178.3 2119.7 L2178.3 2122.8 L2178.4 2125.9 L2178.4 2129.2 L2178.4 2132.2 L2178.5 2135.2 L2178.5 2138.3 L2178.5 2141.4 L2178.6 2144.6 L2178.6 2147.8 L2178.6 2151.0 L2178.6 2154.2 L2178.6 2157.5 L2178.6 2160.7 L2178.6 2164.0 L2178.6 2167.2 L2178.6 2170.4 L2178.5 2173.6 L2178.5 2176.8 L2178.4 2180.0 L2178.3 2183.1 L2178.2 2186.3 L2178.1 2189.4 L2178.0 2192.5 L2177.9 2195.6 L2177.8 2198.7 L2177.7 2201.8 L2177.5 2204.9 L2177.4 2208.0 L2177.2 2211.1 L2177.1 2214.2 L2176.9 2217.3 L2176.7 2220.5 L2176.5 2223.6 L2176.2 2226.8 L2176.0 2230.0 L2175.8 2233.0 L2175.5 2236.0 L2175.2 2239.0 L2175.0 2241.9 L2174.7 2244.9 L2174.3 2247.9 L2174.0 2250.9 L2173.7 2253.9 L2173.4 2256.9 L2173.0 2260.0 L2172.7 2263.1 L2172.3 2266.2 L2172.0 2269.4 L2171.6 2272.7 L2171.2 2276.0 L2170.9 2279.4 L2170.5 2282.9 L2170.2 2285.7 L2169.9 2288.5 L2169.6 2291.3 L2169.3 2294.2 L2169.0 2297.1 L2168.6 2300.1 L2168.3 2303.1 L2168.0 2306.1 L2167.6 2309.2 L2167.3 2312.3 L2166.9 2315.4 L2166.6 2318.5 L2166.3 2321.6 L2165.9 2324.8 L2165.6 2327.9 L2165.3 2331.1 L2165.0 2334.3 L2164.6 2337.4 L2164.3 2340.6 L2164.0 2343.7 L2163.8 2346.9 L2163.5 2350.0 L2163.3 2353.0 L2163.0 2356.0 L2162.8 2359.1 L2162.5 2362.1 L2162.3 2365.2 L2162.1 2368.3 L2161.9 2371.4 L2161.7 2374.5 L2161.4 2377.6 L2161.2 2380.8 L2161.0 2383.9 L2160.8 2387.0 L2160.6 2390.1 L2160.5 2393.2 L2160.3 2396.3 L2160.1 2399.3 L2159.9 2402.4 L2159.8 2405.4 L2159.6 2408.4 L2159.4 2411.3 L2159.3 2414.3 L2159.1 2417.2 L2159.0 2420.0 L2158.8 2423.2 L2158.7 2426.4 L2158.6 2429.5 L2158.4 2432.6 L2158.3 2435.7 L2158.2 2438.7 L2158.1 2441.7 L2158.0 2444.7 L2157.9 2447.7 L2157.8 2450.6 L2157.7 2453.6 L2157.6 2456.5 L2157.5 2459.4 L2157.4 2462.3 L2157.4 2465.2 L2157.3 2468.2 L2157.2 2471.1 L2157.1 2474.0 L2157.1 2477.0 L2157.0 2480.0 L2156.9 2483.0 L2156.9 2485.9 L2156.8 2488.9 L2156.7 2491.8 L2156.7 2494.6 L2156.6 2497.5 L2156.5 2500.4 L2156.5 2503.3 L2156.4 2506.2 L2156.4 2509.1 L2156.3 2512.0 L2156.3 2514.9 L2156.2 2517.9 L2156.2 2520.9 L2156.2 2523.9 L2156.1 2527.0 L2156.1 2530.2 L2156.1 2533.4 L2156.0 2536.7 L2156.0 2540.0 L2156.0 2542.8 L2156.0 2545.7 L2156.0 2548.8 L2155.9 2552.0 L2155.9 2555.2 L2155.9 2558.6 L2155.9 2562.0 L2155.9 2565.5 L2155.9 2569.0 L2155.9 2572.5 L2155.9 2576.0 L2155.9 2579.5 L2155.9 2583.0 L2155.9 2586.4 L2156.0 2589.7 L2156.0 2592.9 L2156.0 2596.0 L2156.0 2599.0 L2156.0 2601.9 L2156.0 2604.6 L2156.0 2607.1 L2156.0 2609.4 L2156.0 2611.5 L2156.0 2613.4 L2156.0 2615.0" fill="none" stroke="#000" stroke-width="2.4" stroke-linejoin="round"/>
<line x1="2203.9" y1="1993.6" x2="2203.9" y2="2071.9" stroke="#808000" stroke-width="6"/>
<line x1="2203.9" y1="2306.9" x2="2203.9" y2="2385.2" stroke="#808000" stroke-width="6"/>
<rect x="2182.8" y="2071.9" width="43.0" height="235.0" fill="none" stroke="#808000" stroke-width="5.5"/>
<line x1="2182.8" y1="2150.2" x2="2225.8" y2="2150.2" stroke="#808000" stroke-width="4.5"/>
<rect x="2188.3" y="2147.3" width="31.6" height="29.7" fill="none" stroke="#808000" stroke-width="2.4"/>
<path d="M2183.9 1973.6L2223.9 2013.6M2183.9 2013.6L2223.9 1973.6M2185.4 1993.6L2222.4 1993.6" stroke="#808000" stroke-width="2.2" fill="none"/>
<path d="M2183.9 2365.2L2223.9 2405.2M2183.9 2405.2L2223.9 2365.2M2185.4 2385.2L2222.4 2385.2" stroke="#808000" stroke-width="2.2" fill="none"/>
<text x="2185.41" y="1936.95" font-size="84.42" textLength="38.88" lengthAdjust="spacingAndGlyphs" style="font-family:'DejaVu Sans',sans-serif;font-weight:bold" fill="#000">*</text>
<text x="2185.41" y="1980.65" font-size="84.42" textLength="38.88" lengthAdjust="spacingAndGlyphs" style="font-family:'DejaVu Sans',sans-serif;font-weight:bold" fill="#000">*</text>
</svg>
</body></html>
